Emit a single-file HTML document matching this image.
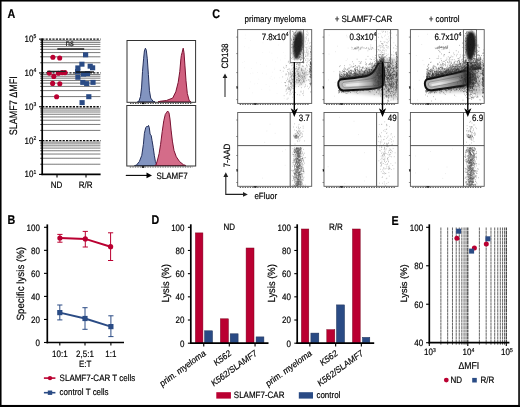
<!DOCTYPE html>
<html><head><meta charset="utf-8"><style>
html,body{margin:0;padding:0;background:#fff;}
svg{display:block;}
text{font-family:"Liberation Sans",sans-serif;stroke:currentColor;stroke-width:0.18px;text-rendering:geometricPrecision}
</style></head><body>
<svg width="520" height="407" viewBox="0 0 520 407" font-family="Liberation Sans, sans-serif">
<defs><filter id="gb" x="0" y="0" width="100%" height="100%"><feGaussianBlur stdDeviation="0.35"/></filter></defs>
<rect width="520" height="407" fill="#fff"/>
<g filter="url(#gb)">
<rect width="520" height="407" fill="#fff"/>
<text transform="translate(7.6,17.7) scale(0.85,1)" font-size="12.65" text-anchor="start" font-weight="bold" fill="#000" >A</text>
<text transform="translate(7.6,224) scale(0.85,1)" font-size="12.65" text-anchor="start" font-weight="bold" fill="#000" >B</text>
<text transform="translate(212.3,18.2) scale(0.85,1)" font-size="12.65" text-anchor="start" font-weight="bold" fill="#000" >C</text>
<text transform="translate(151.5,223.7) scale(0.85,1)" font-size="12.65" text-anchor="start" font-weight="bold" fill="#000" >D</text>
<text transform="translate(391.6,224.8) scale(0.85,1)" font-size="12.65" text-anchor="start" font-weight="bold" fill="#000" >E</text>
<line x1="42.2" y1="164.22" x2="100.5" y2="164.22" stroke="#5a5a5a" stroke-width="1.0" stroke-dasharray="1.6,0.4"/>
<line x1="42.2" y1="158.26" x2="100.5" y2="158.26" stroke="#5a5a5a" stroke-width="1.0" stroke-dasharray="1.6,0.4"/>
<line x1="42.2" y1="154.04" x2="100.5" y2="154.04" stroke="#5a5a5a" stroke-width="1.0" stroke-dasharray="1.6,0.4"/>
<line x1="42.2" y1="150.76" x2="100.5" y2="150.76" stroke="#5a5a5a" stroke-width="1.0" stroke-dasharray="1.6,0.4"/>
<line x1="42.2" y1="148.08" x2="100.5" y2="148.08" stroke="#5a5a5a" stroke-width="1.0" stroke-dasharray="1.6,0.4"/>
<line x1="42.2" y1="145.82" x2="100.5" y2="145.82" stroke="#5a5a5a" stroke-width="1.0" stroke-dasharray="1.6,0.4"/>
<line x1="42.2" y1="143.86" x2="100.5" y2="143.86" stroke="#5a5a5a" stroke-width="1.0" stroke-dasharray="1.6,0.4"/>
<line x1="42.2" y1="142.13" x2="100.5" y2="142.13" stroke="#5a5a5a" stroke-width="1.0" stroke-dasharray="1.6,0.4"/>
<line x1="42.2" y1="130.4" x2="100.5" y2="130.4" stroke="#5a5a5a" stroke-width="1.0" stroke-dasharray="1.6,0.4"/>
<line x1="42.2" y1="124.44" x2="100.5" y2="124.44" stroke="#5a5a5a" stroke-width="1.0" stroke-dasharray="1.6,0.4"/>
<line x1="42.2" y1="120.22" x2="100.5" y2="120.22" stroke="#5a5a5a" stroke-width="1.0" stroke-dasharray="1.6,0.4"/>
<line x1="42.2" y1="116.94" x2="100.5" y2="116.94" stroke="#5a5a5a" stroke-width="1.0" stroke-dasharray="1.6,0.4"/>
<line x1="42.2" y1="114.26" x2="100.5" y2="114.26" stroke="#5a5a5a" stroke-width="1.0" stroke-dasharray="1.6,0.4"/>
<line x1="42.2" y1="112" x2="100.5" y2="112" stroke="#5a5a5a" stroke-width="1.0" stroke-dasharray="1.6,0.4"/>
<line x1="42.2" y1="110.04" x2="100.5" y2="110.04" stroke="#5a5a5a" stroke-width="1.0" stroke-dasharray="1.6,0.4"/>
<line x1="42.2" y1="108.31" x2="100.5" y2="108.31" stroke="#5a5a5a" stroke-width="1.0" stroke-dasharray="1.6,0.4"/>
<line x1="42.2" y1="96.58" x2="100.5" y2="96.58" stroke="#5a5a5a" stroke-width="1.0" stroke-dasharray="1.6,0.4"/>
<line x1="42.2" y1="90.62" x2="100.5" y2="90.62" stroke="#5a5a5a" stroke-width="1.0" stroke-dasharray="1.6,0.4"/>
<line x1="42.2" y1="86.4" x2="100.5" y2="86.4" stroke="#5a5a5a" stroke-width="1.0" stroke-dasharray="1.6,0.4"/>
<line x1="42.2" y1="83.12" x2="100.5" y2="83.12" stroke="#5a5a5a" stroke-width="1.0" stroke-dasharray="1.6,0.4"/>
<line x1="42.2" y1="80.44" x2="100.5" y2="80.44" stroke="#5a5a5a" stroke-width="1.0" stroke-dasharray="1.6,0.4"/>
<line x1="42.2" y1="78.18" x2="100.5" y2="78.18" stroke="#5a5a5a" stroke-width="1.0" stroke-dasharray="1.6,0.4"/>
<line x1="42.2" y1="76.22" x2="100.5" y2="76.22" stroke="#5a5a5a" stroke-width="1.0" stroke-dasharray="1.6,0.4"/>
<line x1="42.2" y1="74.49" x2="100.5" y2="74.49" stroke="#5a5a5a" stroke-width="1.0" stroke-dasharray="1.6,0.4"/>
<line x1="42.2" y1="62.76" x2="100.5" y2="62.76" stroke="#5a5a5a" stroke-width="1.0" stroke-dasharray="1.6,0.4"/>
<line x1="42.2" y1="56.8" x2="100.5" y2="56.8" stroke="#5a5a5a" stroke-width="1.0" stroke-dasharray="1.6,0.4"/>
<line x1="42.2" y1="52.58" x2="100.5" y2="52.58" stroke="#5a5a5a" stroke-width="1.0" stroke-dasharray="1.6,0.4"/>
<line x1="42.2" y1="49.3" x2="100.5" y2="49.3" stroke="#5a5a5a" stroke-width="1.0" stroke-dasharray="1.6,0.4"/>
<line x1="42.2" y1="46.62" x2="100.5" y2="46.62" stroke="#5a5a5a" stroke-width="1.0" stroke-dasharray="1.6,0.4"/>
<line x1="42.2" y1="44.36" x2="100.5" y2="44.36" stroke="#5a5a5a" stroke-width="1.0" stroke-dasharray="1.6,0.4"/>
<line x1="42.2" y1="42.4" x2="100.5" y2="42.4" stroke="#5a5a5a" stroke-width="1.0" stroke-dasharray="1.6,0.4"/>
<line x1="42.2" y1="40.67" x2="100.5" y2="40.67" stroke="#5a5a5a" stroke-width="1.0" stroke-dasharray="1.6,0.4"/>
<line x1="42.2" y1="140.58" x2="100.5" y2="140.58" stroke="#111" stroke-width="1.3" stroke-dasharray="2.2,1.2"/>
<line x1="42.2" y1="106.76" x2="100.5" y2="106.76" stroke="#111" stroke-width="1.3" stroke-dasharray="2.2,1.2"/>
<line x1="42.2" y1="72.94" x2="100.5" y2="72.94" stroke="#111" stroke-width="1.3" stroke-dasharray="2.2,1.2"/>
<line x1="42.2" y1="39.12" x2="100.5" y2="39.12" stroke="#111" stroke-width="1.3" stroke-dasharray="2.2,1.2"/>
<line x1="42.2" y1="38.5" x2="42.2" y2="175.1" stroke="#000" stroke-width="1.7" />
<line x1="41.4" y1="174.4" x2="100.6" y2="174.4" stroke="#000" stroke-width="1.7" />
<line x1="39" y1="174.4" x2="42.2" y2="174.4" stroke="#000" stroke-width="1.1" />
<text transform="translate(36.3,177.4) scale(0.87,1)" font-size="9.2" text-anchor="end">10<tspan font-size="5.75" dy="-3.68">1</tspan></text>
<line x1="40.3" y1="164.22" x2="42.2" y2="164.22" stroke="#000" stroke-width="0.8" />
<line x1="40.3" y1="158.26" x2="42.2" y2="158.26" stroke="#000" stroke-width="0.8" />
<line x1="40.3" y1="154.04" x2="42.2" y2="154.04" stroke="#000" stroke-width="0.8" />
<line x1="40.3" y1="150.76" x2="42.2" y2="150.76" stroke="#000" stroke-width="0.8" />
<line x1="40.3" y1="148.08" x2="42.2" y2="148.08" stroke="#000" stroke-width="0.8" />
<line x1="40.3" y1="145.82" x2="42.2" y2="145.82" stroke="#000" stroke-width="0.8" />
<line x1="40.3" y1="143.86" x2="42.2" y2="143.86" stroke="#000" stroke-width="0.8" />
<line x1="40.3" y1="142.13" x2="42.2" y2="142.13" stroke="#000" stroke-width="0.8" />
<line x1="39" y1="140.58" x2="42.2" y2="140.58" stroke="#000" stroke-width="1.1" />
<text transform="translate(36.3,143.58) scale(0.87,1)" font-size="9.2" text-anchor="end">10<tspan font-size="5.75" dy="-3.68">2</tspan></text>
<line x1="40.3" y1="130.4" x2="42.2" y2="130.4" stroke="#000" stroke-width="0.8" />
<line x1="40.3" y1="124.44" x2="42.2" y2="124.44" stroke="#000" stroke-width="0.8" />
<line x1="40.3" y1="120.22" x2="42.2" y2="120.22" stroke="#000" stroke-width="0.8" />
<line x1="40.3" y1="116.94" x2="42.2" y2="116.94" stroke="#000" stroke-width="0.8" />
<line x1="40.3" y1="114.26" x2="42.2" y2="114.26" stroke="#000" stroke-width="0.8" />
<line x1="40.3" y1="112" x2="42.2" y2="112" stroke="#000" stroke-width="0.8" />
<line x1="40.3" y1="110.04" x2="42.2" y2="110.04" stroke="#000" stroke-width="0.8" />
<line x1="40.3" y1="108.31" x2="42.2" y2="108.31" stroke="#000" stroke-width="0.8" />
<line x1="39" y1="106.76" x2="42.2" y2="106.76" stroke="#000" stroke-width="1.1" />
<text transform="translate(36.3,109.76) scale(0.87,1)" font-size="9.2" text-anchor="end">10<tspan font-size="5.75" dy="-3.68">3</tspan></text>
<line x1="40.3" y1="96.58" x2="42.2" y2="96.58" stroke="#000" stroke-width="0.8" />
<line x1="40.3" y1="90.62" x2="42.2" y2="90.62" stroke="#000" stroke-width="0.8" />
<line x1="40.3" y1="86.4" x2="42.2" y2="86.4" stroke="#000" stroke-width="0.8" />
<line x1="40.3" y1="83.12" x2="42.2" y2="83.12" stroke="#000" stroke-width="0.8" />
<line x1="40.3" y1="80.44" x2="42.2" y2="80.44" stroke="#000" stroke-width="0.8" />
<line x1="40.3" y1="78.18" x2="42.2" y2="78.18" stroke="#000" stroke-width="0.8" />
<line x1="40.3" y1="76.22" x2="42.2" y2="76.22" stroke="#000" stroke-width="0.8" />
<line x1="40.3" y1="74.49" x2="42.2" y2="74.49" stroke="#000" stroke-width="0.8" />
<line x1="39" y1="72.94" x2="42.2" y2="72.94" stroke="#000" stroke-width="1.1" />
<text transform="translate(36.3,75.94) scale(0.87,1)" font-size="9.2" text-anchor="end">10<tspan font-size="5.75" dy="-3.68">4</tspan></text>
<line x1="40.3" y1="62.76" x2="42.2" y2="62.76" stroke="#000" stroke-width="0.8" />
<line x1="40.3" y1="56.8" x2="42.2" y2="56.8" stroke="#000" stroke-width="0.8" />
<line x1="40.3" y1="52.58" x2="42.2" y2="52.58" stroke="#000" stroke-width="0.8" />
<line x1="40.3" y1="49.3" x2="42.2" y2="49.3" stroke="#000" stroke-width="0.8" />
<line x1="40.3" y1="46.62" x2="42.2" y2="46.62" stroke="#000" stroke-width="0.8" />
<line x1="40.3" y1="44.36" x2="42.2" y2="44.36" stroke="#000" stroke-width="0.8" />
<line x1="40.3" y1="42.4" x2="42.2" y2="42.4" stroke="#000" stroke-width="0.8" />
<line x1="40.3" y1="40.67" x2="42.2" y2="40.67" stroke="#000" stroke-width="0.8" />
<line x1="39" y1="39.12" x2="42.2" y2="39.12" stroke="#000" stroke-width="1.1" />
<text transform="translate(36.3,42.12) scale(0.87,1)" font-size="9.2" text-anchor="end">10<tspan font-size="5.75" dy="-3.68">5</tspan></text>
<line x1="57" y1="174.4" x2="57" y2="177.4" stroke="#000" stroke-width="1.1" />
<line x1="86" y1="174.4" x2="86" y2="177.4" stroke="#000" stroke-width="1.1" />
<text transform="translate(56.6,187.9) scale(0.87,1)" font-size="9.2" text-anchor="middle" font-weight="normal" fill="#000" >ND</text>
<text transform="translate(85.6,187.9) scale(0.87,1)" font-size="9.2" text-anchor="middle" font-weight="normal" fill="#000" >R/R</text>
<text transform="translate(17.4,105.8) rotate(-90) scale(0.83,1)" font-size="10.86" text-anchor="middle">SLAMF7 ΔMFI</text>
<line x1="57.3" y1="49" x2="84.2" y2="49" stroke="#000" stroke-width="1.3" />
<text transform="translate(69.8,46.4) scale(0.87,1)" font-size="8.62" text-anchor="middle" font-weight="normal" fill="#222" >ns</text>
<circle cx="52.9" cy="57.3" r="2.55" fill="#ba0030"/>
<circle cx="59.7" cy="58" r="2.55" fill="#ba0030"/>
<circle cx="49.3" cy="73.1" r="2.55" fill="#ba0030"/>
<circle cx="53.8" cy="76.4" r="2.55" fill="#ba0030"/>
<circle cx="58.4" cy="73.3" r="2.55" fill="#ba0030"/>
<circle cx="62.1" cy="72.6" r="2.55" fill="#ba0030"/>
<circle cx="65" cy="72.6" r="2.55" fill="#ba0030"/>
<circle cx="52.6" cy="83.4" r="2.55" fill="#ba0030"/>
<circle cx="59.8" cy="83.8" r="2.55" fill="#ba0030"/>
<circle cx="56.6" cy="96.7" r="2.55" fill="#ba0030"/>
<line x1="47.2" y1="71.4" x2="65.8" y2="71.4" stroke="#222" stroke-width="1.3" />
<rect x="83" y="52.3" width="5.2" height="5" fill="#2c4c85"/>
<rect x="79.3" y="61.7" width="5.2" height="5" fill="#2c4c85"/>
<rect x="75.3" y="65.4" width="5.2" height="5" fill="#2c4c85"/>
<rect x="87.6" y="63.7" width="5.2" height="5" fill="#2c4c85"/>
<rect x="90" y="65.3" width="5.2" height="5" fill="#2c4c85"/>
<rect x="75" y="69.1" width="5.2" height="5" fill="#2c4c85"/>
<rect x="75.3" y="74.8" width="5.2" height="5" fill="#2c4c85"/>
<rect x="80.2" y="79.9" width="5.2" height="5" fill="#2c4c85"/>
<rect x="84.1" y="81.1" width="5.2" height="5" fill="#2c4c85"/>
<rect x="90.4" y="79.9" width="5.2" height="5" fill="#2c4c85"/>
<rect x="86.2" y="94.2" width="5.2" height="5" fill="#2c4c85"/>
<rect x="79.5" y="100.1" width="5.2" height="5" fill="#2c4c85"/>
<rect x="80.9" y="71.6" width="5.2" height="5" fill="#2c4c85"/>
<rect x="84.9" y="71.1" width="5.2" height="5" fill="#2c4c85"/>
<line x1="75.8" y1="72" x2="94" y2="72" stroke="#111" stroke-width="1.4" />
<path d="M137.5,101.8 L138.9,101.3 L140.5,96.5 L141.6,87.1 L142.5,71.4 L143.6,58.8 L144.4,51 L145.4,48.2 L146.3,50.2 L147.3,58.8 L148.4,74.6 L149.4,90.3 L150.7,98.1 L153.1,101.3 L155,101.8 Z" fill="#8294c0" stroke="#24305c" stroke-width="1" stroke-linejoin="round"/>
<path d="M158,101.8 L160.1,101.3 L166.4,100.5 L172.7,98.1 L175.8,91.8 L178.2,82.4 L179.8,71.4 L180.9,58.8 L181.3,55.7 L182.1,52.6 L183.2,48.2 L184,52.6 L184.9,65.1 L186,80.8 L187.3,93.4 L189.2,100.5 L191,101.8 Z" fill="#d0607f" stroke="#7a1232" stroke-width="1" stroke-linejoin="round"/>
<path d="M134.5,165.5 L136.3,165.3 L139.4,161.5 L141.8,155.3 L143.4,144.3 L144.4,133.3 L145.7,127.8 L147,126.2 L147.7,127 L148.5,125.4 L149.3,127.8 L150.1,134.1 L151.2,135.6 L152,140.3 L153.2,147.4 L154.3,155.3 L155.4,161.5 L156.7,164.7 L158,165.5 Z" fill="#8294c0" stroke="#24305c" stroke-width="1" stroke-linejoin="round"/>
<path d="M154.5,165.5 L155.9,165.2 L157.5,160 L159.1,153.7 L160.6,144.3 L162.2,131.7 L163.8,120.7 L165.3,114.4 L166.9,112.1 L167.7,111 L169,112.9 L170,119.1 L171.1,130.1 L172.4,141.1 L174,150.5 L176.3,156.8 L179.5,161.5 L183.4,164.7 L185.8,165.5 Z" fill="#d0607f" stroke="#7a1232" stroke-width="1" stroke-linejoin="round" fill-opacity="0.92"/>
<rect x="127" y="40.5" width="68.6" height="61.8" fill="none" stroke="#333" stroke-width="1"/>
<line x1="130" y1="103.3" x2="192.6" y2="103.3" stroke="#555" stroke-width="1.2" stroke-dasharray="1.4,1.1"/>
<rect x="142" y="102.5" width="2.5" height="1.6" fill="#111"/>
<rect x="126.8" y="105.5" width="68.9" height="60.5" fill="none" stroke="#333" stroke-width="1"/>
<line x1="129.8" y1="167" x2="192.7" y2="167" stroke="#555" stroke-width="1.2" stroke-dasharray="1.4,1.1"/>
<rect x="141.8" y="166.2" width="2.5" height="1.6" fill="#111"/>
<line x1="125.8" y1="175.4" x2="147.5" y2="175.4" stroke="#000" stroke-width="1.1" />
<path d="M146.5,172.6 L152,175.4 L146.5,178.2 Z" fill="#000"/>
<text transform="translate(156.5,178.6) scale(0.87,1)" font-size="9.2" text-anchor="start" font-weight="normal" fill="#000" >SLAMF7</text>
<defs><filter id="bl" x="-50%" y="-50%" width="200%" height="200%"><feGaussianBlur stdDeviation="1.6"/></filter><filter id="bl2" x="-50%" y="-50%" width="200%" height="200%"><feGaussianBlur stdDeviation="0.8"/></filter><linearGradient id="g2" gradientUnits="userSpaceOnUse" x1="358" y1="0" x2="382" y2="0"><stop offset="0" stop-color="#333" stop-opacity="0"/><stop offset="1" stop-color="#333" stop-opacity="0.75"/></linearGradient><linearGradient id="g3" gradientUnits="userSpaceOnUse" x1="440" y1="0" x2="468" y2="0"><stop offset="0" stop-color="#333" stop-opacity="0"/><stop offset="1" stop-color="#333" stop-opacity="0.75"/></linearGradient></defs>
<text transform="translate(275.2,21.8) scale(0.87,1)" font-size="9.2" text-anchor="middle" font-weight="normal" fill="#000" >primary myeloma</text>
<text transform="translate(363.4,21.8) scale(0.87,1)" font-size="9.2" text-anchor="middle" font-weight="normal" fill="#000" >+ SLAMF7-CAR</text>
<text transform="translate(444.1,21.8) scale(0.87,1)" font-size="9.2" text-anchor="middle" font-weight="normal" fill="#000" >+ control</text>
<ellipse cx="299" cy="76" rx="8" ry="10" fill="#aaa" opacity="0.35" filter="url(#bl)"/>
<path d="M300,31.3 C303.5,31.5 304,38 303,45 C302,52 299,59 296.2,59.5 C293.5,59 292.6,52 292.9,45 C293.2,38 296.5,31.2 300,31.3 Z" fill="#2a2a2a" filter="url(#bl2)"/>
<path d="M262.7 42.8h.5M285.6 37.3h.5M277.5 57.8h.5M244.1 67.8h.5M242.6 62.6h.5M244.9 38.6h.5M269.7 90.1h.5M248.7 47.9h.5M283.9 98.6h.5M280.4 60.0h.5M308.3 35.5h.5M300.1 52.5h.5M250.1 40.5h.5M261.6 89.4h.5M252.7 73.0h.5M284.7 58.3h.5M278.3 36.6h.5M244.2 46.7h.5M287.6 62.2h.5M262.0 73.2h.5M271.7 53.2h.5M295.6 81.2h.5M257.1 72.5h.5M276.8 93.5h.5M291.1 52.4h.5" stroke="#d8d8d8" stroke-width="0.5" fill="none"/>
<path d="M274.0 69.4h.5M250.4 81.8h.5M276.0 83.5h.5M285.3 75.3h.5M269.4 52.1h.5M275.4 61.7h.5M262.6 52.5h.5M256.4 62.8h.5M283.5 41.8h.5M250.5 73.6h.5M285.3 78.3h.5M245.2 35.0h.5M272.3 59.9h.5M254.6 83.9h.5M281.2 72.5h.5M270.9 76.3h.5M287.1 78.9h.5M274.2 77.9h.5M249.2 88.2h.5M279.5 77.7h.5M244.3 61.4h.5M278.1 44.9h.5M265.8 84.5h.5M252.3 92.8h.5M274.6 68.1h.5M271.9 79.3h.5M269.4 86.3h.5M260.1 64.4h.5M280.5 70.6h.5M257.4 83.5h.5M285.6 64.0h.5M251.4 68.4h.5M266.2 66.1h.5M284.9 55.9h.5M283.1 52.5h.5M258.6 79.1h.5M281.5 82.3h.5M272.1 72.2h.5M269.8 78.3h.5M265.9 74.1h.5" stroke="#dddddd" stroke-width="0.5" fill="none"/>
<path d="M303.0 74.3h.55M304.3 78.8h.55M296.0 71.3h.55M298.9 81.7h.55M296.6 77.4h.55M291.1 76.2h.55M301.8 76.2h.55M296.0 79.5h.55M301.0 70.1h.55M295.1 73.5h.55M297.4 73.8h.55M279.9 70.4h.55M306.1 64.9h.55M298.5 81.9h.55M305.0 86.2h.55M287.1 71.4h.55M296.6 79.3h.55M306.6 52.8h.55M306.6 62.7h.55M303.8 62.3h.55M300.2 83.8h.55M298.0 75.8h.55M304.6 75.4h.55M298.4 86.5h.55M306.3 71.9h.55M305.4 72.1h.55M299.9 79.9h.55M300.6 79.4h.55M288.3 62.2h.55M303.3 66.6h.55M291.8 62.5h.55M307.9 80.2h.55M309.3 66.8h.55M299.0 65.2h.55M304.4 87.0h.55M292.8 86.8h.55M305.9 72.9h.55M285.2 85.5h.55M298.3 69.5h.55M301.8 77.6h.55M309.5 66.1h.55M307.0 86.2h.55M309.2 72.8h.55M293.8 82.4h.55M299.8 75.3h.55M309.0 72.2h.55M282.9 71.2h.55M286.0 80.8h.55M301.2 69.4h.55M298.9 80.9h.55M299.6 84.9h.55M298.6 82.6h.55M309.4 87.2h.55M294.3 81.3h.55M285.9 65.6h.55M285.3 82.8h.55M290.4 74.2h.55M297.7 74.0h.55M294.9 76.1h.55M302.7 82.3h.55M297.6 64.2h.55M295.1 82.9h.55M287.5 69.5h.55M306.1 80.6h.55M299.1 80.7h.55M300.2 64.8h.55M288.1 69.2h.55M305.5 69.8h.55M292.7 68.1h.55M288.3 73.3h.55M290.7 77.2h.55M282.5 76.9h.55M294.5 58.7h.55M304.1 72.1h.55M283.4 67.3h.55M301.0 70.6h.55M304.5 80.3h.55M303.7 76.9h.55M308.3 79.6h.55M302.2 57.6h.55M305.3 84.8h.55M296.9 70.5h.55M302.3 93.7h.55M292.5 79.8h.55M302.9 81.5h.55M292.7 73.6h.55M301.0 80.9h.55M298.8 72.7h.55M291.9 71.4h.55M305.2 75.1h.55M293.0 67.5h.55M303.5 53.5h.55M303.4 78.1h.55M310.8 77.7h.55M298.5 78.5h.55M285.4 82.5h.55M301.3 68.7h.55M308.3 88.7h.55M289.2 68.9h.55M301.0 75.7h.55M296.2 66.5h.55M290.6 63.5h.55M310.9 82.2h.55M292.9 76.4h.55M283.9 68.3h.55M298.6 78.5h.55M293.9 73.3h.55M302.2 77.3h.55M303.5 75.9h.55M296.7 80.6h.55M299.3 67.7h.55M294.6 74.3h.55M298.2 75.5h.55M299.0 75.7h.55M298.1 64.2h.55M301.9 82.7h.55M302.0 72.8h.55M302.1 66.5h.55M285.7 74.8h.55M292.5 80.2h.55M291.4 53.2h.55M291.7 86.9h.55M296.3 63.3h.55M293.7 78.4h.55M302.5 75.7h.55M309.4 79.9h.55M298.9 79.0h.55M310.6 82.0h.55M306.2 65.6h.55M298.0 80.1h.55M296.9 82.8h.55M303.2 81.5h.55M297.5 94.6h.55M307.7 72.6h.55M299.6 95.0h.55M296.6 81.3h.55M305.9 74.3h.55M290.8 75.8h.55M301.5 83.3h.55M304.5 74.5h.55M305.0 78.6h.55M300.4 74.7h.55M297.3 79.8h.55M291.6 69.2h.55M299.0 62.6h.55M295.9 58.2h.55M294.2 78.8h.55M303.0 73.8h.55M297.4 62.9h.55M306.7 67.2h.55M297.7 59.7h.55M304.5 81.8h.55M285.7 73.9h.55M303.4 60.2h.55M286.2 65.8h.55M294.6 63.1h.55M299.2 76.3h.55M303.4 79.9h.55M309.5 83.6h.55M289.8 70.2h.55M291.6 65.7h.55M298.4 74.3h.55M302.4 61.6h.55M290.3 74.1h.55M297.6 71.8h.55M298.6 68.2h.55M303.9 77.1h.55M298.4 68.9h.55M297.8 52.5h.55M292.1 74.6h.55M288.5 75.9h.55M300.0 63.3h.55M297.2 71.8h.55M302.2 79.2h.55M298.7 67.5h.55M298.0 73.8h.55M304.1 76.6h.55M293.9 63.4h.55M296.4 68.4h.55M291.2 73.3h.55M295.6 75.1h.55M302.7 71.0h.55M306.7 75.2h.55M306.8 55.3h.55M293.7 76.3h.55M303.2 93.0h.55M301.3 84.5h.55M304.4 81.9h.55M302.6 73.0h.55M302.6 65.6h.55M307.3 66.1h.55M300.7 91.2h.55M297.4 74.4h.55M307.1 74.5h.55M293.3 76.3h.55M303.1 80.0h.55M293.6 88.3h.55M310.7 74.4h.55M300.9 70.8h.55M308.9 68.6h.55M303.7 70.4h.55M294.1 80.0h.55M308.3 74.2h.55M294.3 80.8h.55M298.7 76.8h.55M309.7 83.3h.55M295.4 92.5h.55M299.0 80.6h.55M294.5 73.9h.55M286.8 88.6h.55M308.6 64.6h.55M288.5 61.3h.55M307.2 70.6h.55M298.6 71.8h.55M298.2 65.6h.55M299.2 62.8h.55M298.5 76.7h.55M302.3 72.4h.55M292.7 75.6h.55M295.6 86.8h.55M304.4 73.4h.55M295.7 68.7h.55M292.4 71.5h.55M301.1 78.4h.55M303.0 91.1h.55M294.1 74.4h.55M295.3 75.6h.55M300.1 77.5h.55M297.3 77.2h.55M299.4 80.4h.55M285.8 67.2h.55M299.0 66.0h.55M291.7 79.3h.55M294.5 79.4h.55M304.2 76.7h.55M302.6 73.4h.55M289.1 74.0h.55M302.2 70.0h.55M298.3 80.3h.55M292.9 79.4h.55M300.0 73.1h.55M309.8 76.8h.55M305.3 68.8h.55M298.9 74.2h.55M286.6 85.8h.55M305.3 60.3h.55M304.2 73.2h.55M302.1 77.2h.55M288.5 72.6h.55M309.4 69.7h.55M291.8 63.4h.55M290.5 77.0h.55M310.8 77.7h.55M300.7 92.1h.55M295.4 68.9h.55M302.7 78.7h.55M291.9 64.9h.55M301.0 76.3h.55M289.9 72.7h.55M295.2 78.0h.55M298.2 73.6h.55M296.5 82.7h.55M308.7 71.3h.55M304.9 68.2h.55M299.5 80.3h.55M309.6 71.2h.55M298.5 75.8h.55M288.5 74.4h.55M294.3 77.2h.55M291.1 58.5h.55M299.3 76.4h.55M295.2 81.4h.55M297.1 69.4h.55M302.3 61.7h.55M294.3 74.1h.55M304.9 73.0h.55M301.2 69.0h.55M301.1 87.6h.55M294.2 93.2h.55M294.5 74.4h.55M300.2 82.5h.55M290.3 57.5h.55M303.2 80.6h.55M303.4 95.3h.55M300.4 76.3h.55M305.5 77.2h.55" stroke="#5a5a5a" stroke-width="0.55" fill="none"/>
<path d="M294.2 76.8h.55M289.1 63.6h.55M292.0 82.0h.55M292.3 97.2h.55M290.0 82.7h.55M288.8 79.2h.55M288.4 88.1h.55M290.1 84.7h.55M289.6 89.8h.55M291.2 83.4h.55M291.7 83.4h.55M287.1 93.0h.55M291.2 78.5h.55M292.7 86.3h.55M286.1 93.9h.55M290.8 89.6h.55M290.5 83.4h.55M286.1 90.1h.55M290.1 82.6h.55M290.9 84.7h.55M291.7 82.0h.55M289.9 71.4h.55M288.9 88.3h.55M293.3 82.1h.55M289.7 93.8h.55M289.2 88.7h.55M294.2 84.5h.55M293.1 80.0h.55M290.5 83.8h.55M290.3 91.1h.55M296.0 80.3h.55M288.6 87.3h.55M287.4 87.3h.55M291.4 82.6h.55M291.3 75.0h.55M291.9 75.0h.55M288.3 80.9h.55M289.0 89.4h.55M290.2 81.9h.55M291.4 93.8h.55M290.0 86.5h.55M293.1 85.9h.55M286.8 99.2h.55M295.5 72.4h.55M289.9 86.8h.55M292.4 88.3h.55M289.3 78.0h.55M290.3 90.5h.55M287.3 78.1h.55M289.9 72.7h.55M289.3 81.7h.55M291.1 80.1h.55M287.8 81.9h.55M289.9 80.3h.55M290.0 88.8h.55M293.0 94.5h.55M288.0 81.8h.55M283.8 95.7h.55M288.2 84.1h.55M291.3 76.1h.55M291.2 84.1h.55M285.4 86.0h.55M293.0 73.1h.55M292.0 85.5h.55M291.2 86.9h.55M293.3 82.9h.55M292.2 81.8h.55M291.8 79.4h.55M289.7 94.7h.55M291.1 83.3h.55M287.1 79.5h.55M290.5 89.9h.55M291.1 87.4h.55M289.9 92.4h.55M289.0 81.0h.55M292.2 84.7h.55M289.3 80.8h.55M289.4 88.0h.55M290.9 77.0h.55M291.1 85.3h.55M287.5 88.9h.55M289.3 82.3h.55M292.0 92.2h.55M288.3 86.9h.55M287.8 98.2h.55M288.8 91.4h.55M288.4 89.1h.55M295.5 69.0h.55M288.9 87.3h.55M289.8 80.3h.55M295.4 84.8h.55M285.9 89.4h.55M285.7 91.2h.55M288.6 85.1h.55M293.2 85.0h.55M286.5 74.1h.55M293.0 88.7h.55M288.0 89.4h.55M291.2 88.2h.55M284.4 82.5h.55" stroke="#666" stroke-width="0.55" fill="none"/>
<path d="M310.7 75.2h.55M310.4 70.6h.55M310.8 65.0h.55M310.7 63.4h.55M309.6 81.2h.55M310.8 64.7h.55M310.7 80.2h.55M310.0 69.2h.55M310.9 75.5h.55M310.4 49.2h.55M310.6 67.5h.55M310.8 66.0h.55M310.0 62.9h.55M310.2 64.2h.55M309.9 76.6h.55M309.8 76.9h.55M310.0 73.8h.55M310.2 70.8h.55M310.7 52.9h.55M310.2 71.9h.55M310.3 71.1h.55M311.0 77.9h.55M310.4 70.1h.55M310.4 67.1h.55M310.5 53.0h.55M310.4 70.0h.55M310.0 70.0h.55M310.9 68.6h.55M310.5 52.0h.55M309.1 71.6h.55M310.9 67.3h.55M310.9 47.8h.55M310.6 64.4h.55M311.0 65.4h.55M310.7 65.2h.55M309.3 70.0h.55M310.7 77.8h.55M310.1 69.9h.55M311.0 71.7h.55M310.1 51.1h.55M310.2 63.1h.55M309.5 60.3h.55M310.2 63.0h.55M310.7 62.8h.55M309.9 83.4h.55M310.3 72.5h.55M310.6 67.1h.55M310.8 63.4h.55M309.5 48.2h.55M309.8 62.7h.55M310.6 70.8h.55M310.9 71.5h.55M310.1 63.2h.55M309.3 68.6h.55M310.9 75.6h.55M310.5 68.5h.55M311.0 76.1h.55M310.7 83.3h.55M310.3 66.7h.55M310.1 62.3h.55M310.6 76.0h.55M310.2 74.8h.55M310.1 66.7h.55M310.2 61.7h.55M310.6 91.9h.55M310.2 74.4h.55M310.9 68.3h.55M310.9 83.3h.55M309.7 69.6h.55M310.7 64.6h.55M310.4 78.1h.55M310.8 54.8h.55M310.6 59.1h.55M310.6 59.3h.55M310.6 74.9h.55M310.6 73.1h.55M310.1 84.6h.55M310.2 52.1h.55M310.5 62.6h.55M310.0 66.7h.55M310.8 58.5h.55M310.5 84.5h.55M311.0 68.8h.55M310.7 69.1h.55M310.6 77.6h.55M310.5 46.2h.55M310.6 61.4h.55M311.0 64.2h.55M310.7 92.0h.55M310.0 59.0h.55M309.8 46.3h.55M309.5 73.9h.55M310.2 51.6h.55M309.7 76.4h.55M310.1 66.6h.55M310.8 83.8h.55M310.7 72.1h.55M310.4 74.9h.55M310.8 70.8h.55M310.3 57.0h.55M310.3 54.8h.55M309.9 84.2h.55M310.9 74.5h.55M310.7 72.0h.55M309.9 56.3h.55M310.3 64.2h.55M310.8 72.9h.55M310.6 63.5h.55M310.3 79.8h.55M311.1 71.3h.55M310.4 85.8h.55M310.2 76.8h.55M311.1 59.1h.55M309.6 77.0h.55M310.1 83.1h.55M310.2 68.6h.55M310.8 67.0h.55M310.8 64.7h.55M311.0 70.3h.55M310.7 42.7h.55M309.5 71.2h.55M310.9 81.0h.55" stroke="#333" stroke-width="0.55" fill="none"/>
<path d="M305.7 60.7h.55M306.8 69.2h.55M306.8 52.1h.55M306.6 34.1h.55M308.3 54.3h.55M308.8 53.8h.55M306.2 38.5h.55M306.0 51.1h.55M307.4 42.6h.55M307.2 43.8h.55M307.3 52.8h.55M308.2 38.4h.55M305.2 59.5h.55M307.1 56.3h.55M305.0 42.0h.55M307.0 30.9h.55M306.4 52.5h.55M308.3 61.2h.55M306.0 31.3h.55M307.6 54.7h.55M307.2 32.3h.55M307.9 53.2h.55M307.7 40.4h.55M307.4 53.2h.55M307.4 50.1h.55M307.0 54.2h.55M306.3 44.5h.55M306.6 51.0h.55M308.9 42.8h.55M309.5 60.6h.55M307.9 51.1h.55M309.1 43.5h.55M306.9 34.6h.55M307.6 58.7h.55M307.6 49.5h.55M306.8 47.0h.55M305.3 55.8h.55M306.5 34.2h.55M306.1 37.0h.55M308.0 55.9h.55M305.4 54.5h.55M308.1 39.5h.55M305.2 37.8h.55M306.2 48.7h.55M308.1 33.2h.55M306.2 36.7h.55M306.3 58.3h.55M308.0 51.3h.55M306.4 39.8h.55M305.8 50.4h.55M306.1 38.2h.55M307.7 58.6h.55M307.2 35.5h.55M303.8 47.0h.55M308.5 48.2h.55M308.1 60.1h.55M308.4 40.9h.55M308.3 53.0h.55M305.2 41.2h.55M305.3 44.2h.55M307.7 34.6h.55M304.5 58.3h.55M307.5 60.0h.55M305.4 55.9h.55M309.5 65.3h.55M306.7 48.0h.55M306.8 55.3h.55M308.2 46.1h.55M305.4 52.7h.55M306.4 51.6h.55M307.3 61.5h.55M308.4 40.8h.55M307.4 62.9h.55M306.4 49.6h.55" stroke="#aaa" stroke-width="0.55" fill="none"/>
<path d="M300.9 56.9h.55M299.1 37.0h.55M294.5 44.2h.55M298.8 64.4h.55M295.6 51.5h.55M299.8 35.0h.55M295.7 44.6h.55M296.5 43.1h.55M299.0 40.5h.55M299.0 41.8h.55M296.4 47.9h.55M296.3 46.0h.55M302.0 49.1h.55M297.4 50.2h.55M296.8 52.2h.55M294.5 46.8h.55M296.5 38.4h.55M302.4 43.2h.55M302.4 53.9h.55M301.6 41.6h.55M300.9 58.4h.55M297.5 44.1h.55M304.2 52.1h.55M296.7 39.8h.55M299.0 48.6h.55M298.3 58.0h.55M296.9 47.9h.55M301.6 41.4h.55M300.5 60.7h.55M294.3 34.4h.55M299.0 33.0h.55M299.1 56.8h.55M293.6 39.4h.55M292.8 46.5h.55M295.9 41.7h.55M297.9 49.3h.55M296.9 44.6h.55M296.4 44.9h.55M294.8 43.1h.55M292.8 37.4h.55M302.8 50.2h.55M294.5 44.3h.55M295.3 31.3h.55M295.9 48.9h.55M298.8 45.4h.55M295.4 35.5h.55M301.3 50.1h.55M294.2 59.9h.55M294.8 42.1h.55M298.3 44.6h.55M297.1 34.8h.55M295.1 55.0h.55M295.8 49.6h.55M293.4 39.5h.55M298.5 53.3h.55M294.9 47.0h.55M298.8 40.9h.55M299.0 39.9h.55M295.7 43.3h.55M290.7 38.4h.55M295.2 32.6h.55M296.7 49.8h.55M296.7 53.4h.55M294.8 33.3h.55M301.8 51.6h.55M300.3 41.5h.55M299.9 48.9h.55M299.5 46.9h.55M300.9 43.3h.55M295.3 32.5h.55M300.8 42.6h.55M295.1 36.2h.55M296.6 35.2h.55M297.0 40.1h.55M296.4 37.2h.55M297.9 42.1h.55M298.1 47.3h.55M296.4 38.4h.55M299.8 35.7h.55M295.9 41.6h.55M296.9 51.6h.55M296.6 51.2h.55M301.0 51.1h.55M299.1 47.3h.55M299.1 37.7h.55M300.3 43.6h.55M300.4 48.1h.55M292.7 31.6h.55M300.7 46.8h.55M296.8 46.1h.55M296.7 40.4h.55M298.1 46.5h.55M301.7 49.0h.55M302.7 62.4h.55M302.3 56.7h.55M298.1 46.6h.55M297.4 39.7h.55M297.6 40.5h.55M302.1 52.8h.55M296.6 30.6h.55M297.7 42.2h.55M295.0 34.7h.55M291.9 44.3h.55M297.6 63.6h.55M297.7 44.1h.55M301.6 49.5h.55M298.2 43.0h.55M296.2 54.6h.55M300.4 59.8h.55M296.9 44.7h.55M295.5 50.2h.55M294.2 46.2h.55M300.6 57.8h.55M295.4 51.0h.55M295.9 38.3h.55M294.4 50.6h.55M302.1 44.7h.55M295.8 41.1h.55M304.3 58.1h.55M296.4 31.2h.55M296.1 52.3h.55M302.7 47.6h.55M296.0 40.1h.55M292.9 47.5h.55M295.0 50.4h.55M293.4 32.3h.55M298.5 40.5h.55M299.8 47.1h.55M294.7 47.1h.55M300.0 33.5h.55M302.5 52.9h.55M299.8 33.7h.55M295.9 41.2h.55M300.6 37.3h.55M297.2 47.2h.55M293.4 37.3h.55M299.1 57.8h.55M299.5 44.6h.55M294.7 35.9h.55M296.1 44.8h.55M297.7 57.1h.55M298.5 38.3h.55M301.8 55.5h.55M298.1 40.3h.55M292.9 33.8h.55M300.2 41.6h.55M294.4 43.7h.55M298.4 50.2h.55M299.5 56.8h.55M295.6 50.4h.55M295.2 48.0h.55M298.3 47.4h.55M300.3 47.3h.55M300.7 54.0h.55M298.2 41.5h.55M295.8 39.8h.55M297.3 44.6h.55M305.6 56.5h.55M299.8 40.8h.55M296.0 41.4h.55M298.3 38.3h.55M302.0 44.9h.55M300.6 31.0h.55M297.8 47.2h.55M298.3 50.0h.55M298.5 47.1h.55M292.9 35.9h.55M291.7 44.5h.55M298.6 44.6h.55M295.7 39.3h.55M302.6 61.8h.55M297.6 54.4h.55M296.5 37.9h.55M296.3 45.4h.55M305.7 47.4h.55M297.9 47.4h.55M297.7 51.9h.55M302.4 40.4h.55M298.2 43.7h.55M298.7 35.1h.55M299.2 47.8h.55M296.8 39.0h.55M294.1 35.5h.55M299.6 50.7h.55M297.7 48.9h.55M296.2 44.4h.55M297.9 49.3h.55M297.6 44.1h.55M297.4 40.4h.55M303.6 54.0h.55M298.9 62.6h.55M301.4 37.3h.55M299.6 52.8h.55M302.7 58.9h.55M299.8 38.6h.55M295.5 45.2h.55M299.1 39.1h.55M296.8 41.5h.55M298.0 47.8h.55M297.1 35.8h.55M301.0 59.5h.55M297.5 52.4h.55M299.0 51.0h.55M299.1 40.9h.55M299.3 53.8h.55M295.5 57.3h.55M303.2 63.0h.55M303.0 55.1h.55M296.9 40.2h.55M295.7 44.3h.55M297.7 50.0h.55M292.5 57.3h.55M303.7 50.2h.55M299.6 50.2h.55M298.5 44.4h.55M297.5 39.1h.55M298.3 45.5h.55M298.6 39.9h.55M297.9 45.7h.55M299.4 39.0h.55M298.9 53.3h.55M299.4 44.0h.55M296.5 42.5h.55M299.7 58.0h.55M297.4 40.3h.55M298.8 47.6h.55M295.4 38.0h.55M297.5 49.9h.55M294.7 35.3h.55M299.1 37.6h.55M298.1 48.0h.55M297.5 37.7h.55M297.6 42.8h.55M298.7 40.0h.55M300.6 35.7h.55M297.3 44.9h.55M300.3 43.1h.55M299.2 42.4h.55M299.7 59.4h.55M296.8 47.5h.55M295.4 50.2h.55M300.9 48.3h.55M294.8 45.6h.55M300.8 55.7h.55M299.9 34.0h.55M296.0 53.9h.55M294.6 50.6h.55M302.7 55.0h.55M300.7 45.4h.55M294.6 41.8h.55M297.3 44.5h.55M299.6 45.8h.55M298.3 48.7h.55M297.8 58.5h.55M299.0 46.9h.55M297.3 40.3h.55M301.3 49.4h.55M295.0 38.8h.55M297.4 41.8h.55M300.6 39.4h.55M299.1 47.4h.55M294.7 43.0h.55M297.6 48.6h.55M296.6 46.4h.55M293.5 33.8h.55M299.8 54.5h.55M297.8 41.0h.55M300.6 32.7h.55M295.7 48.3h.55M299.5 39.4h.55M292.9 51.4h.55M298.2 39.2h.55M297.9 51.8h.55M291.1 47.4h.55M299.7 32.1h.55M299.8 34.3h.55M300.8 50.7h.55M303.7 46.0h.55M297.8 52.8h.55M296.1 38.8h.55M296.8 43.9h.55M295.0 46.3h.55M299.2 47.0h.55M302.2 46.8h.55M301.2 44.3h.55M299.8 33.1h.55M298.3 44.5h.55M296.5 39.8h.55M296.9 39.3h.55M292.1 36.1h.55M296.4 40.3h.55M295.0 41.9h.55M299.8 45.3h.55M296.5 53.9h.55M300.3 54.1h.55M300.8 45.5h.55M297.5 52.9h.55M296.4 43.2h.55M298.8 48.8h.55M297.1 51.7h.55M297.3 50.1h.55M300.6 52.4h.55M299.7 38.6h.55M294.4 37.9h.55M299.0 57.1h.55M294.6 44.7h.55M295.6 38.1h.55M297.1 49.6h.55M298.4 54.2h.55M295.2 49.4h.55M300.2 47.9h.55M299.0 42.3h.55M295.0 39.9h.55M296.1 64.5h.55M296.5 56.0h.55M298.3 48.0h.55M299.7 41.4h.55M300.2 50.0h.55M293.9 46.2h.55M299.2 49.8h.55M301.9 45.9h.55M299.1 51.8h.55M295.5 51.8h.55M294.0 32.7h.55M299.2 38.7h.55M297.5 33.2h.55M298.0 37.3h.55M298.7 35.1h.55M299.0 44.4h.55M298.0 44.9h.55M298.1 36.1h.55M291.1 39.7h.55M295.4 39.9h.55M298.9 32.0h.55M295.8 39.2h.55M295.1 45.2h.55M297.4 39.1h.55M295.2 48.8h.55M296.1 48.0h.55M299.0 32.7h.55M295.0 42.9h.55M298.7 51.6h.55M299.9 54.5h.55M296.8 42.9h.55M299.8 44.0h.55M300.5 36.3h.55M299.5 45.5h.55M292.7 47.9h.55M298.6 46.1h.55M295.0 39.5h.55M301.7 42.8h.55M288.8 31.3h.55M294.7 41.6h.55M296.8 37.9h.55M295.6 50.9h.55M294.0 56.0h.55M296.4 36.2h.55M299.8 51.1h.55M295.1 48.3h.55M293.0 34.5h.55M300.7 46.0h.55M294.4 46.0h.55M300.2 47.2h.55M293.1 38.7h.55M298.9 51.7h.55M302.6 47.6h.55M296.5 43.9h.55M300.9 41.3h.55M299.9 42.2h.55M299.0 51.2h.55M294.7 42.0h.55M298.4 50.0h.55M295.4 36.1h.55M292.8 59.1h.55M297.3 43.3h.55M293.9 48.6h.55M296.4 54.3h.55M300.0 47.3h.55M299.7 39.0h.55M297.0 40.4h.55M294.5 42.5h.55M297.4 55.2h.55M289.1 32.9h.55M295.4 39.9h.55M298.9 49.1h.55M297.9 41.9h.55M299.1 49.0h.55M293.0 39.3h.55M294.2 33.7h.55M298.2 46.0h.55M298.1 39.3h.55M297.3 38.3h.55M298.8 51.1h.55M302.4 58.3h.55M295.7 40.2h.55M295.4 45.4h.55M302.9 54.8h.55M292.1 31.3h.55M294.4 46.1h.55M297.8 47.4h.55M302.4 43.4h.55M295.6 57.4h.55M298.7 40.5h.55M291.4 40.3h.55M297.9 52.5h.55M297.4 40.0h.55M295.9 57.2h.55M293.2 42.5h.55M297.9 49.7h.55M296.7 47.9h.55M299.9 46.1h.55M296.6 42.9h.55M295.3 41.6h.55M297.0 46.1h.55M301.3 57.6h.55M296.6 48.6h.55M298.6 51.4h.55M297.9 47.2h.55M296.6 38.6h.55M300.1 56.5h.55M299.5 49.9h.55M298.5 42.7h.55M293.2 46.0h.55M298.3 41.8h.55M295.3 52.2h.55M293.1 53.8h.55M299.5 63.7h.55M295.9 43.5h.55M296.5 45.2h.55M297.3 39.4h.55M300.6 42.1h.55M296.5 48.1h.55M296.4 41.0h.55M298.7 43.4h.55M294.6 41.7h.55M297.2 57.0h.55M294.9 49.7h.55M295.8 41.0h.55M297.0 46.5h.55M300.0 59.7h.55" stroke="#262626" stroke-width="0.55" fill="none"/>
<path d="M339,80 L360,73 L372,67 L379,59 L396,58 L397,100 L383,96 L340,92 Z" fill="#888" opacity="0.4" filter="url(#bl)"/>
<path d="M348.5 78.7h.6M333.6 71.6h.6M351.3 67.3h.6M346.8 36.9h.6M347.8 48.1h.6M334.8 82.5h.6M345.8 60.5h.6M389.6 86.5h.6M387.8 92.6h.6M335.3 51.7h.6M328.1 79.9h.6M372.5 56.9h.6M354.9 78.4h.6M374.9 49.7h.6M385.3 56.9h.6M370.0 45.0h.6M334.1 96.2h.6M377.4 82.2h.6M328.8 35.1h.6M337.3 46.2h.6M347.2 59.0h.6M328.7 54.1h.6M370.7 44.9h.6M384.8 72.2h.6M376.2 50.1h.6M356.4 80.2h.6M350.4 32.4h.6M384.4 86.7h.6M346.0 35.3h.6M385.8 74.8h.6" stroke="#c8c8c8" stroke-width="0.6" fill="none"/>
<path d="M341.1 79.5h.55M344.0 74.5h.55M348.5 70.9h.55M372.7 72.4h.55M370.3 73.4h.55M372.6 67.1h.55M351.7 78.1h.55M381.6 61.4h.55M380.9 59.7h.55M372.2 67.5h.55M367.3 73.9h.55M341.4 76.5h.55M358.3 75.2h.55M380.8 63.1h.55M373.3 72.0h.55M370.6 69.4h.55M350.8 76.0h.55M382.6 59.5h.55M363.5 75.7h.55M341.7 78.8h.55M357.5 76.9h.55M353.0 77.7h.55M370.8 71.0h.55M349.7 77.8h.55M362.2 75.0h.55M381.1 62.0h.55M352.5 71.4h.55M345.4 76.6h.55M354.0 72.7h.55M363.7 72.0h.55M346.6 75.5h.55M365.9 74.1h.55M373.5 66.3h.55M344.2 78.4h.55M355.2 77.2h.55M341.7 79.2h.55M347.9 75.0h.55M359.2 77.0h.55M353.6 76.1h.55M355.3 77.3h.55M342.2 80.0h.55M383.6 58.0h.55M342.8 75.9h.55M383.1 60.0h.55M343.9 77.4h.55M358.5 76.8h.55M363.4 76.6h.55M380.4 60.3h.55M367.2 67.1h.55M368.4 74.7h.55M350.1 78.1h.55M340.2 75.9h.55M376.8 67.0h.55M347.4 75.7h.55M377.1 59.4h.55M346.6 74.2h.55M376.4 64.4h.55M353.7 77.5h.55M376.1 67.8h.55M355.6 75.3h.55M355.6 72.2h.55M349.8 78.5h.55M364.5 73.2h.55M375.9 65.5h.55M379.7 54.9h.55M361.2 74.8h.55M346.1 78.0h.55M365.2 76.0h.55M370.0 74.7h.55M358.9 66.2h.55M343.0 79.7h.55M358.8 76.8h.55M371.5 73.8h.55M376.8 61.9h.55M374.4 69.4h.55M351.7 74.9h.55M362.2 75.1h.55M354.2 76.2h.55M369.0 69.9h.55M379.7 63.6h.55M352.3 76.4h.55M364.4 75.0h.55M347.8 78.6h.55M353.6 76.2h.55M382.7 55.1h.55M377.9 54.8h.55M382.3 59.8h.55M375.5 69.7h.55M369.4 72.4h.55M352.4 75.6h.55M381.9 61.0h.55M368.1 74.5h.55M354.5 71.1h.55M340.3 80.0h.55M369.5 73.5h.55M342.8 76.4h.55M355.7 75.1h.55M357.7 75.2h.55M364.4 74.8h.55M344.1 78.9h.55M379.0 62.5h.55M344.1 73.2h.55M350.4 78.2h.55M362.9 75.8h.55M361.0 74.5h.55M349.2 76.0h.55M344.1 77.2h.55M365.5 75.9h.55M357.4 77.4h.55M358.8 71.1h.55M363.8 72.5h.55M373.1 72.0h.55M383.6 58.3h.55M343.6 74.0h.55M356.6 77.1h.55M382.2 60.3h.55M373.9 71.2h.55M373.9 71.4h.55M349.7 77.2h.55M339.7 77.9h.55M348.6 77.7h.55M370.8 72.7h.55M379.0 62.0h.55M378.2 63.5h.55M380.3 57.1h.55M346.6 74.7h.55M354.4 73.4h.55M369.6 69.8h.55M344.5 77.9h.55M372.2 63.8h.55M371.5 73.7h.55M366.2 75.7h.55M363.7 71.3h.55M344.1 71.2h.55M369.4 74.5h.55M347.7 77.0h.55M376.7 65.5h.55M344.1 79.5h.55M344.0 74.4h.55M347.3 76.4h.55M352.1 74.6h.55M356.1 77.3h.55M378.4 63.5h.55M370.0 70.0h.55M381.7 63.1h.55M354.4 77.5h.55M361.6 70.4h.55M375.0 70.4h.55M347.2 73.5h.55M369.6 73.8h.55M360.4 76.6h.55M377.0 66.2h.55M378.3 63.1h.55M342.4 78.7h.55M348.7 71.6h.55M365.5 76.0h.55M346.6 77.6h.55M360.0 74.5h.55M356.5 76.4h.55M339.3 78.1h.55M354.0 78.0h.55M359.7 63.6h.55M341.0 79.9h.55M369.2 74.4h.55M351.3 76.2h.55M350.8 75.8h.55M362.8 66.7h.55M383.6 62.3h.55M364.2 71.7h.55M378.3 61.4h.55M367.5 72.6h.55M355.3 76.8h.55M374.8 64.2h.55M381.2 59.7h.55M352.7 73.6h.55M372.3 70.9h.55M367.6 74.4h.55M363.8 74.9h.55M341.7 78.9h.55M353.5 63.9h.55M360.7 75.7h.55M350.0 77.8h.55M354.7 77.5h.55M339.3 74.3h.55M359.4 75.5h.55M364.6 75.2h.55M346.6 78.8h.55M352.6 77.1h.55M371.7 71.1h.55M381.2 62.0h.55M380.5 60.8h.55M342.6 79.3h.55M365.1 62.2h.55M355.1 73.2h.55M358.3 71.0h.55M342.0 78.0h.55M379.5 63.5h.55M350.6 78.5h.55M346.4 78.1h.55M370.7 73.8h.55M357.0 77.0h.55M366.1 69.7h.55M368.2 74.9h.55M372.0 62.8h.55M366.0 75.8h.55M375.4 63.3h.55M354.4 77.6h.55M347.5 76.5h.55M378.4 62.7h.55M380.5 62.8h.55M353.7 73.7h.55M368.2 74.0h.55M369.6 74.0h.55M341.6 78.5h.55M341.0 77.3h.55M354.1 75.9h.55M365.9 75.1h.55M359.9 77.3h.55M380.6 60.9h.55M383.4 62.3h.55M366.6 71.8h.55M353.8 77.8h.55M346.0 78.6h.55M373.5 71.7h.55M375.6 68.0h.55M363.2 73.8h.55M364.0 73.1h.55M366.1 74.8h.55M372.3 72.1h.55M371.0 69.7h.55M373.9 70.4h.55M373.8 59.6h.55M359.4 76.3h.55M362.5 67.7h.55M344.9 79.3h.55M360.4 73.8h.55M373.8 70.2h.55M383.5 61.6h.55M373.0 72.1h.55M340.3 80.2h.55M341.7 78.0h.55M364.0 75.8h.55M381.3 61.8h.55M345.7 78.6h.55M372.2 65.1h.55M346.3 79.0h.55M374.0 70.6h.55M383.2 60.4h.55M367.6 74.4h.55M375.0 68.6h.55M353.6 70.6h.55M343.9 75.4h.55M341.9 76.8h.55M357.1 71.3h.55M341.7 77.6h.55M357.4 69.6h.55M381.5 60.0h.55M349.1 77.8h.55M350.8 76.7h.55M349.4 78.0h.55M373.2 69.0h.55M352.4 61.7h.55M348.7 76.1h.55M346.1 72.8h.55M378.1 65.3h.55M372.8 67.1h.55M351.7 77.1h.55M360.8 70.0h.55M346.3 75.4h.55M365.9 74.2h.55M365.1 69.4h.55M348.4 71.9h.55M355.2 73.1h.55M377.9 66.1h.55M377.9 49.8h.55M352.4 78.2h.55M344.0 67.8h.55M339.4 73.1h.55M345.8 74.9h.55M343.4 79.1h.55M369.7 75.0h.55M354.3 70.0h.55M371.2 67.3h.55M383.1 62.5h.55M349.6 73.6h.55M370.0 75.1h.55M361.7 76.1h.55M358.4 77.1h.55M339.9 65.7h.55M353.2 71.4h.55M344.4 77.3h.55M345.1 77.5h.55M347.1 75.3h.55M345.7 74.9h.55M361.5 76.6h.55M354.9 75.8h.55M380.3 62.3h.55M348.7 67.8h.55M378.7 61.3h.55M351.3 77.8h.55M350.9 78.3h.55M340.9 78.2h.55M357.4 75.0h.55M355.3 77.9h.55M370.0 71.9h.55M363.5 74.0h.55M370.1 62.3h.55M378.3 62.0h.55M357.0 76.5h.55M357.9 66.0h.55M356.4 76.2h.55M357.4 77.1h.55M383.9 62.3h.55M366.4 67.7h.55M350.5 75.5h.55M356.0 76.9h.55M347.9 78.5h.55M376.9 63.0h.55M379.9 63.8h.55M370.2 73.8h.55M368.1 73.1h.55M353.2 66.8h.55M339.0 76.6h.55M377.4 65.0h.55M365.7 59.3h.55M349.5 75.5h.55M372.4 71.4h.55M371.0 72.7h.55M362.7 73.7h.55M369.5 74.1h.55M367.3 73.3h.55M349.0 75.7h.55M350.9 70.8h.55M360.3 73.1h.55M362.5 74.7h.55M349.0 78.3h.55M380.7 61.1h.55M362.6 74.4h.55M375.6 68.9h.55M346.8 73.5h.55M359.7 74.0h.55M376.2 61.7h.55M378.1 66.3h.55M356.2 72.1h.55M375.8 69.1h.55M345.9 78.2h.55M343.6 78.3h.55M375.1 68.0h.55M359.4 77.1h.55M356.8 59.2h.55M370.3 73.1h.55M360.5 72.0h.55M373.1 71.8h.55M369.6 73.9h.55M362.4 75.9h.55M355.7 76.5h.55M356.2 77.7h.55M348.0 76.2h.55M341.6 79.6h.55M371.3 73.0h.55M353.6 77.2h.55M376.5 68.2h.55M367.6 69.5h.55M348.1 77.1h.55M374.7 67.8h.55M355.7 77.7h.55M358.9 76.0h.55M371.1 73.2h.55M357.4 74.3h.55M375.5 68.5h.55M356.3 75.0h.55M380.6 62.9h.55M382.7 58.8h.55M355.8 74.3h.55M353.8 77.9h.55M373.0 70.9h.55M362.7 74.5h.55M379.6 59.8h.55M340.2 77.8h.55M359.8 75.3h.55M376.8 66.4h.55M360.3 70.1h.55M358.8 75.3h.55M362.0 71.3h.55M369.2 71.1h.55M357.1 77.5h.55M369.6 72.8h.55M373.6 67.2h.55M344.3 78.7h.55M342.5 74.6h.55M343.6 79.4h.55M372.9 69.9h.55M341.5 76.6h.55M371.0 72.2h.55M341.5 76.5h.55M357.8 74.8h.55M383.9 56.9h.55M378.2 65.7h.55M354.0 75.7h.55M339.3 66.6h.55M351.4 77.5h.55M353.1 77.3h.55M377.6 64.4h.55M362.0 75.1h.55M341.3 79.2h.55M378.0 61.3h.55M377.5 66.2h.55M348.1 78.7h.55M363.2 75.1h.55M359.9 75.1h.55M365.3 74.8h.55M375.1 69.8h.55M380.4 61.0h.55M341.3 79.1h.55M363.0 75.0h.55M364.4 75.1h.55M351.3 73.3h.55M352.1 74.4h.55M375.1 67.6h.55M359.5 68.6h.55M359.0 70.7h.55M341.6 78.4h.55M367.8 75.6h.55M377.8 66.5h.55M365.8 75.5h.55M380.5 60.9h.55M375.0 68.3h.55M369.3 71.8h.55M352.3 77.5h.55M376.7 67.7h.55M380.3 62.9h.55M343.5 79.4h.55M374.3 61.6h.55M357.7 74.1h.55M350.6 71.0h.55M369.9 74.8h.55M341.5 76.5h.55M340.9 74.7h.55M352.2 77.5h.55M365.2 75.0h.55M364.2 75.9h.55M380.0 62.5h.55M376.9 67.5h.55M375.0 58.1h.55M356.6 77.6h.55M356.1 74.5h.55M349.1 76.2h.55M343.2 77.8h.55M371.8 71.8h.55M369.6 75.0h.55M376.3 68.4h.55M380.5 45.8h.55M381.3 60.9h.55M352.1 77.0h.55M372.8 70.5h.55M380.8 63.1h.55M360.8 70.7h.55M365.9 73.6h.55M343.0 79.4h.55M351.2 71.3h.55M377.0 67.0h.55M380.6 63.4h.55M365.9 65.1h.55M354.5 68.8h.55M368.5 75.4h.55M354.0 76.2h.55M350.1 74.3h.55M347.0 74.0h.55M352.4 78.1h.55M364.2 76.1h.55M363.8 71.5h.55M365.8 74.1h.55M340.5 78.3h.55M343.4 76.4h.55M344.9 76.5h.55M354.9 76.5h.55M368.8 74.9h.55M346.6 70.0h.55M353.9 72.2h.55M378.3 64.0h.55M345.7 78.9h.55M378.6 65.3h.55M361.3 74.6h.55M344.3 77.5h.55M346.4 76.6h.55M361.8 75.5h.55M347.9 77.2h.55M348.2 78.4h.55M349.8 72.1h.55M361.6 69.9h.55M339.7 71.6h.55M361.0 72.1h.55M364.7 72.6h.55M349.3 74.3h.55M345.9 78.2h.55M340.4 79.0h.55M362.3 75.7h.55M379.1 64.8h.55M365.0 75.4h.55M365.8 71.2h.55M371.0 74.1h.55M350.1 75.7h.55M383.2 62.4h.55M366.8 72.1h.55M375.7 68.3h.55M375.5 67.9h.55M380.4 63.6h.55M381.3 61.6h.55M357.3 77.3h.55M350.0 74.4h.55M369.5 74.8h.55M354.5 77.5h.55M347.9 78.1h.55M353.9 66.2h.55M383.9 57.3h.55M360.6 75.0h.55M374.1 63.8h.55M372.8 69.4h.55M348.0 75.7h.55M377.1 62.8h.55M343.2 75.8h.55M354.7 77.4h.55M382.5 59.3h.55M372.6 72.4h.55M376.3 60.0h.55M379.7 59.8h.55M376.5 63.4h.55M365.6 74.3h.55M376.1 64.1h.55M378.2 65.1h.55M382.2 60.5h.55M381.6 62.8h.55M382.6 57.9h.55M350.3 72.7h.55M349.4 78.0h.55M359.6 76.5h.55M361.2 69.4h.55M369.8 71.3h.55M356.6 72.8h.55M374.7 67.2h.55M381.4 57.7h.55M357.3 77.3h.55M368.4 69.8h.55M354.3 75.1h.55M376.6 63.3h.55M339.2 78.8h.55M339.7 80.4h.55M375.6 68.1h.55M366.2 74.1h.55M354.1 77.3h.55M354.9 72.0h.55M366.9 74.8h.55M343.0 78.8h.55M370.6 72.9h.55M368.7 70.3h.55M344.4 75.8h.55M340.9 74.9h.55M347.3 78.0h.55M382.1 61.5h.55M349.1 71.7h.55M366.5 68.8h.55M356.7 75.5h.55M382.0 60.8h.55M383.5 61.8h.55M376.4 68.1h.55M362.7 76.7h.55M346.9 69.7h.55M359.5 72.0h.55M350.3 77.2h.55M343.5 77.1h.55M377.8 64.5h.55M356.0 69.4h.55M379.2 61.3h.55M342.4 76.9h.55M359.0 67.3h.55M355.3 74.4h.55M367.4 74.3h.55M362.5 73.2h.55M379.8 61.8h.55M355.4 65.9h.55M341.6 74.5h.55M369.8 72.7h.55M359.1 72.9h.55M379.1 60.8h.55M372.7 72.6h.55M353.6 77.7h.55M381.9 56.0h.55M345.5 76.4h.55M365.0 76.1h.55M356.6 73.3h.55M367.9 74.6h.55M373.3 71.1h.55M363.5 74.8h.55M383.0 59.3h.55M375.2 66.7h.55M356.1 67.2h.55M370.9 70.6h.55M351.5 77.8h.55M364.9 70.7h.55M374.7 69.5h.55M345.3 76.9h.55M378.5 65.3h.55M372.2 72.6h.55M353.0 78.0h.55M352.4 76.7h.55M382.5 52.4h.55M347.4 77.8h.55M381.5 62.5h.55M353.4 76.3h.55M343.9 78.6h.55M356.7 76.2h.55M382.4 61.9h.55M348.2 71.2h.55M359.3 71.6h.55M367.7 70.9h.55M353.2 77.7h.55M373.1 70.4h.55M364.1 72.9h.55M372.9 71.5h.55M355.3 69.9h.55M362.8 75.6h.55M367.4 74.8h.55M373.7 71.7h.55M376.2 66.3h.55M354.9 69.0h.55M350.9 77.6h.55M342.1 77.5h.55M372.9 68.9h.55M357.6 72.3h.55M344.0 78.4h.55M368.0 64.7h.55M367.5 72.0h.55M373.9 70.0h.55M381.3 58.9h.55M354.4 76.4h.55M375.3 68.8h.55M347.4 72.4h.55M362.9 74.3h.55M369.1 68.0h.55M345.0 78.0h.55M342.0 78.4h.55M361.6 70.8h.55M369.1 72.7h.55M357.2 74.9h.55M351.3 72.5h.55M374.5 65.2h.55M345.8 75.6h.55M372.9 70.3h.55M379.4 57.2h.55M372.4 67.5h.55M368.2 68.9h.55M344.9 75.4h.55M370.7 71.6h.55M351.4 78.2h.55M366.2 70.5h.55M351.3 77.7h.55M349.1 78.4h.55M369.4 63.6h.55M375.1 69.0h.55M370.5 74.6h.55M376.7 67.0h.55M339.2 77.8h.55M345.2 78.2h.55M341.7 78.3h.55M364.0 71.2h.55M340.8 74.9h.55M344.0 78.8h.55M367.3 74.5h.55M353.9 75.4h.55M348.8 73.7h.55M348.4 73.0h.55M375.4 67.6h.55M340.4 75.8h.55M340.3 78.4h.55M358.1 77.3h.55M367.4 71.7h.55M365.3 74.6h.55M362.0 74.0h.55M349.2 72.2h.55M383.8 57.1h.55M382.3 61.6h.55M383.4 62.3h.55M360.5 76.7h.55M359.4 73.7h.55M370.9 72.5h.55M354.4 77.4h.55M357.1 76.6h.55M347.7 74.6h.55M362.2 75.0h.55M347.9 75.0h.55M347.9 77.9h.55M364.2 72.6h.55M382.8 58.3h.55M381.7 55.1h.55M371.5 69.8h.55M341.8 79.4h.55M339.6 74.4h.55M371.5 70.7h.55M350.9 77.1h.55M346.4 75.9h.55M383.6 61.3h.55M341.0 79.8h.55M355.0 70.6h.55M375.2 68.4h.55M343.6 79.3h.55M345.9 74.3h.55M360.2 62.3h.55M380.0 58.7h.55M360.4 71.7h.55M344.8 79.0h.55M364.4 74.1h.55M348.4 77.9h.55M340.0 73.1h.55M371.0 65.1h.55M383.1 60.8h.55M372.0 71.9h.55M375.5 64.0h.55M345.0 79.2h.55M348.6 76.0h.55M356.1 77.8h.55M376.4 63.8h.55M359.9 77.2h.55M379.0 62.7h.55M342.2 78.8h.55M367.1 68.9h.55M360.8 73.8h.55M348.3 77.9h.55M379.8 62.6h.55M343.7 76.8h.55M344.7 78.7h.55M359.5 74.5h.55M367.6 71.8h.55M358.8 77.2h.55M371.6 73.6h.55M360.2 75.6h.55M369.3 71.4h.55M349.8 75.3h.55M370.1 73.1h.55M345.4 71.6h.55M366.0 75.9h.55M349.7 64.8h.55M349.3 77.1h.55M374.5 65.5h.55M367.5 71.4h.55M340.7 80.2h.55M382.9 57.5h.55M340.7 80.3h.55M349.8 70.1h.55M348.9 75.2h.55M380.9 60.2h.55M380.4 62.7h.55M345.9 79.1h.55M373.1 72.0h.55M382.8 58.8h.55M347.4 73.7h.55M346.3 76.8h.55M343.8 74.7h.55M379.0 57.1h.55M339.1 74.9h.55M364.0 71.0h.55M361.6 73.9h.55M365.8 71.0h.55M342.5 79.8h.55M363.5 75.5h.55M356.9 77.7h.55M372.5 72.8h.55M376.3 63.4h.55M359.6 76.9h.55M368.3 74.9h.55M358.3 77.1h.55M382.9 60.1h.55M354.9 77.6h.55M371.9 67.5h.55M377.2 67.3h.55M355.5 76.7h.55M373.3 71.7h.55M366.3 63.7h.55M373.6 71.9h.55M342.4 79.6h.55M370.2 72.2h.55M362.4 74.8h.55M357.3 74.6h.55M368.2 67.7h.55M372.0 68.3h.55M380.1 57.9h.55M371.3 74.0h.55M369.6 69.3h.55M358.4 70.8h.55M347.1 69.8h.55M358.9 73.5h.55M350.4 77.4h.55M354.7 76.7h.55M343.3 77.9h.55M383.1 59.2h.55M380.9 58.8h.55M376.7 51.8h.55M372.9 71.6h.55M350.2 76.9h.55M339.9 79.9h.55M378.9 57.2h.55M353.8 73.4h.55M373.9 64.6h.55M374.8 68.4h.55M343.7 74.1h.55M353.1 75.0h.55M355.5 75.4h.55M382.5 62.3h.55M362.9 73.3h.55M363.2 67.7h.55M357.3 69.8h.55M370.0 64.3h.55M343.0 79.1h.55M351.9 70.8h.55M339.6 79.8h.55M371.2 59.5h.55M346.9 77.2h.55M369.9 71.5h.55M372.6 68.4h.55M350.2 77.6h.55M340.2 76.9h.55M348.4 77.9h.55M382.4 59.6h.55M365.6 72.7h.55M365.9 72.3h.55M352.7 78.0h.55M342.0 80.1h.55M355.3 77.4h.55M344.1 77.4h.55M382.6 59.1h.55M351.3 73.7h.55M347.0 78.7h.55M352.6 76.6h.55M370.0 73.4h.55M371.8 73.3h.55M381.0 62.1h.55M376.5 68.5h.55M376.3 68.0h.55M377.5 62.0h.55M369.2 74.4h.55M339.4 80.2h.55M379.7 63.6h.55M368.7 72.7h.55M368.8 74.9h.55M345.5 78.9h.55M383.2 61.0h.55M368.4 72.9h.55M349.0 78.5h.55M339.7 74.7h.55M344.9 68.8h.55M355.4 73.8h.55M345.2 74.3h.55M350.3 77.1h.55M362.5 76.4h.55M350.2 73.5h.55M351.8 76.8h.55M373.4 71.3h.55M347.7 78.1h.55M356.3 76.3h.55M367.9 73.7h.55M378.1 66.1h.55M368.9 69.7h.55M349.6 78.6h.55M358.7 77.1h.55M359.7 73.3h.55M343.2 79.4h.55M360.6 76.5h.55M349.4 76.8h.55M344.3 79.2h.55M355.3 75.9h.55M381.1 60.8h.55M342.2 79.3h.55M372.5 70.3h.55M378.2 55.8h.55M377.6 66.7h.55M381.5 60.8h.55M349.8 78.0h.55M377.9 65.9h.55M342.7 78.9h.55M380.6 61.6h.55M371.9 73.2h.55M359.4 76.1h.55M348.2 75.4h.55M355.3 77.5h.55M383.3 60.4h.55M347.1 79.0h.55M368.4 73.3h.55M340.1 78.6h.55M372.3 70.6h.55M349.5 76.5h.55M366.2 72.7h.55M345.5 74.0h.55M381.6 58.9h.55M377.6 65.6h.55M379.6 63.6h.55M349.2 75.8h.55M379.6 64.1h.55M348.8 78.7h.55M358.8 77.0h.55M347.6 74.5h.55M365.2 67.3h.55M357.1 74.0h.55M339.6 71.3h.55M349.5 76.6h.55M362.0 67.4h.55M361.1 61.7h.55M367.0 75.1h.55M376.5 67.8h.55M384.0 60.3h.55M349.2 68.3h.55M353.5 76.5h.55M354.4 74.5h.55M340.0 79.2h.55M346.3 73.5h.55M339.0 78.0h.55M350.6 76.6h.55M364.3 72.4h.55M345.2 78.4h.55M344.4 69.1h.55M345.7 78.7h.55M362.5 74.0h.55M378.9 65.1h.55M349.5 78.1h.55M365.4 74.3h.55M357.4 70.6h.55M368.8 69.2h.55M382.1 62.0h.55M381.4 61.6h.55M341.3 72.4h.55M343.7 79.6h.55M352.0 77.2h.55M382.5 56.3h.55M357.9 75.1h.55M377.2 62.3h.55M368.4 73.3h.55M344.2 78.6h.55M368.6 72.7h.55M375.0 63.2h.55M382.3 62.2h.55M342.4 72.7h.55M364.7 75.7h.55M370.1 74.2h.55M349.6 77.2h.55M362.6 73.1h.55M342.3 75.7h.55M367.1 73.8h.55M369.2 70.3h.55M339.4 78.8h.55M369.5 71.4h.55M368.1 75.0h.55M382.1 58.0h.55M349.5 76.9h.55M382.1 62.2h.55M357.4 67.2h.55M379.5 63.6h.55M372.1 71.9h.55M368.9 70.8h.55M344.7 78.5h.55M348.7 77.8h.55M340.6 80.1h.55M357.3 75.9h.55M342.5 77.2h.55M381.4 60.5h.55M355.0 74.0h.55M358.7 76.8h.55M360.7 77.1h.55M369.4 74.8h.55M355.6 67.4h.55M373.5 66.2h.55M367.9 72.5h.55M370.7 63.7h.55M347.8 74.2h.55M352.5 77.3h.55M376.0 66.3h.55M377.2 60.9h.55M365.5 75.5h.55M339.7 78.3h.55M371.7 72.7h.55M342.2 80.1h.55M346.8 75.2h.55M339.2 80.1h.55M350.9 74.5h.55M383.4 62.4h.55M344.1 70.8h.55M382.6 62.3h.55M354.1 75.7h.55M353.4 76.4h.55M360.5 76.2h.55M341.5 80.0h.55M346.3 78.8h.55M367.1 72.0h.55M350.8 73.5h.55M371.8 72.3h.55M361.1 76.4h.55M380.8 60.8h.55M341.3 79.8h.55M370.2 73.6h.55M371.3 73.3h.55M374.9 65.5h.55M343.2 77.0h.55M347.6 75.0h.55M375.2 65.3h.55M349.4 78.4h.55M368.9 72.8h.55M345.2 78.6h.55M365.2 75.9h.55M367.5 74.9h.55M350.6 76.8h.55M363.0 72.6h.55M340.4 76.5h.55M348.9 77.6h.55M367.8 72.0h.55M366.7 68.5h.55M348.2 77.7h.55M368.8 74.5h.55M346.1 78.3h.55M373.7 66.2h.55M371.2 63.9h.55M374.7 69.6h.55M353.2 74.1h.55M341.5 77.3h.55M343.0 79.7h.55M362.1 76.3h.55M380.9 56.7h.55M359.8 76.6h.55M344.4 77.2h.55M362.5 75.3h.55M371.2 71.7h.55M373.9 71.3h.55M342.2 78.5h.55M360.8 76.2h.55M369.1 74.7h.55M353.3 76.1h.55M371.1 69.6h.55M355.7 76.0h.55M380.7 54.8h.55M366.8 75.6h.55M359.5 74.1h.55M351.5 78.3h.55M383.2 54.9h.55M344.8 77.3h.55M366.9 74.8h.55M342.1 75.7h.55M373.7 70.0h.55M342.9 78.3h.55M343.2 69.2h.55M341.3 79.2h.55M373.6 71.5h.55M343.8 79.4h.55M346.4 76.7h.55M376.5 68.0h.55M346.8 74.4h.55M358.2 76.2h.55M344.5 78.5h.55M382.7 62.4h.55M350.7 74.2h.55M379.1 57.5h.55M360.3 67.2h.55M366.2 74.9h.55M359.9 73.3h.55M372.0 72.9h.55M347.7 68.8h.55M343.8 74.2h.55M354.2 77.1h.55M350.5 76.5h.55M383.6 61.9h.55M377.5 66.0h.55M346.8 74.7h.55M354.4 77.4h.55M357.8 72.0h.55M377.8 64.0h.55M339.5 76.2h.55M366.3 68.7h.55M381.8 61.8h.55M377.2 62.1h.55M351.0 77.0h.55M355.9 76.4h.55M356.0 77.4h.55M349.2 71.0h.55M357.5 74.4h.55M378.9 60.7h.55M350.0 70.5h.55M375.2 55.4h.55M371.8 69.1h.55M375.6 68.8h.55M368.5 74.0h.55M376.8 67.7h.55M363.3 75.3h.55M375.9 68.0h.55M377.0 61.9h.55M378.5 65.3h.55M381.2 59.0h.55M369.5 72.0h.55M341.2 73.8h.55M363.6 74.6h.55M354.3 73.2h.55M374.2 64.8h.55M348.6 77.5h.55M350.2 78.2h.55M353.7 78.0h.55M374.8 69.9h.55M342.2 79.9h.55M372.3 72.4h.55M359.8 75.7h.55M375.1 60.6h.55M352.9 75.0h.55M379.3 62.7h.55M379.5 60.2h.55M353.0 71.6h.55M364.8 76.0h.55M365.4 70.5h.55M362.3 74.7h.55M357.7 70.8h.55M368.9 74.7h.55M355.3 76.5h.55M382.1 59.2h.55M344.6 71.5h.55M340.6 77.7h.55M358.5 73.4h.55M358.3 77.2h.55M362.6 71.3h.55M374.5 69.6h.55M349.0 74.4h.55M375.1 69.7h.55M378.7 49.9h.55M358.5 75.9h.55M370.9 65.9h.55M348.1 77.7h.55M353.8 73.9h.55M347.4 76.4h.55M361.5 73.4h.55M345.4 69.2h.55M384.0 59.6h.55M374.8 70.1h.55M380.0 61.3h.55M373.2 65.8h.55M355.3 69.7h.55M348.3 78.8h.55M361.6 69.6h.55M379.5 54.5h.55M362.0 68.2h.55M364.2 75.9h.55M367.4 70.6h.55M358.1 74.6h.55M350.7 77.5h.55M357.9 75.2h.55M360.1 77.0h.55M339.3 79.6h.55M371.3 69.7h.55M349.7 77.7h.55M362.3 76.2h.55M366.1 68.5h.55M348.1 76.0h.55M371.4 69.5h.55M371.0 70.3h.55M351.3 72.6h.55M380.6 63.4h.55M381.5 61.3h.55M342.9 79.6h.55M374.9 67.1h.55M345.4 77.3h.55M367.7 56.4h.55M354.1 73.4h.55M350.0 77.9h.55M346.3 77.4h.55M366.8 74.8h.55M346.3 78.3h.55M342.8 79.2h.55M353.2 75.9h.55M347.3 76.9h.55M358.8 65.9h.55M360.9 67.8h.55M360.2 76.5h.55M365.6 75.6h.55M346.6 78.8h.55M370.6 63.8h.55M357.2 76.3h.55M358.1 76.1h.55M370.1 73.6h.55M345.9 72.8h.55M364.8 76.3h.55M377.2 63.4h.55M355.0 74.8h.55M380.4 62.0h.55M358.5 76.3h.55M363.9 73.0h.55M372.1 63.8h.55M345.5 77.7h.55M377.3 62.4h.55M365.6 72.5h.55M354.3 68.8h.55M363.7 74.9h.55M347.2 78.6h.55M379.4 59.4h.55M340.2 79.4h.55M360.6 75.0h.55M355.4 70.7h.55M354.7 75.5h.55M380.8 60.2h.55M360.5 75.9h.55M356.4 74.7h.55M374.4 70.2h.55M355.7 76.3h.55M355.3 70.1h.55M363.3 75.6h.55M354.0 72.6h.55M346.2 75.4h.55M340.0 80.0h.55M341.7 75.0h.55M345.6 78.4h.55M341.6 79.3h.55M372.0 69.3h.55M380.0 54.4h.55M363.8 68.4h.55M343.0 71.5h.55M358.5 76.8h.55M372.7 66.5h.55M356.4 77.4h.55M378.3 61.6h.55M365.9 64.1h.55M340.7 80.3h.55M344.6 79.3h.55M370.9 71.3h.55M344.1 79.0h.55M347.1 76.0h.55M369.3 64.2h.55M355.2 65.5h.55M358.6 75.9h.55M350.4 77.7h.55M382.9 45.8h.55M370.8 73.9h.55M347.1 78.5h.55M354.8 73.7h.55M341.7 77.8h.55M369.6 75.2h.55M358.8 72.4h.55M364.9 74.4h.55M378.7 62.7h.55M354.2 76.4h.55M381.5 57.0h.55M380.2 61.1h.55M345.4 78.6h.55M356.2 74.0h.55M339.2 75.7h.55M374.4 68.9h.55M339.3 75.8h.55M357.6 74.0h.55M364.6 72.2h.55M357.4 67.3h.55M382.0 54.6h.55M366.7 74.7h.55M355.9 76.8h.55M379.7 59.2h.55M374.5 65.6h.55M383.6 58.7h.55M353.3 73.6h.55M350.8 75.5h.55M346.1 72.9h.55M361.0 76.0h.55M380.5 63.3h.55M380.9 58.9h.55M345.7 74.6h.55M364.8 68.7h.55M365.4 74.4h.55M381.0 63.1h.55M374.0 71.2h.55M351.4 78.0h.55M378.2 64.3h.55M371.7 72.7h.55M371.9 70.2h.55M343.4 77.6h.55M371.5 73.1h.55M368.4 74.5h.55M355.7 69.8h.55M381.4 43.5h.55M358.2 74.8h.55M375.4 65.5h.55M359.5 71.0h.55M357.1 68.1h.55M360.3 76.8h.55M372.7 72.2h.55M369.6 75.2h.55M383.5 60.0h.55M372.3 72.6h.55M367.7 74.2h.55M350.2 73.2h.55M340.5 78.5h.55M342.9 73.8h.55M379.2 64.8h.55M359.9 75.3h.55M371.3 69.8h.55M354.4 69.4h.55M347.3 78.5h.55M375.7 69.3h.55M347.4 76.7h.55M354.1 77.5h.55M380.8 61.4h.55M374.4 70.3h.55M380.1 62.9h.55M379.8 61.0h.55M382.7 58.0h.55M367.4 73.4h.55M377.5 65.3h.55M343.4 71.9h.55M375.3 66.6h.55M372.5 72.1h.55M359.8 71.8h.55M382.3 54.7h.55M346.2 75.4h.55M363.9 74.8h.55M346.5 78.6h.55M360.2 75.1h.55M351.1 77.0h.55M363.9 71.9h.55M365.5 75.6h.55M378.9 63.8h.55M382.2 50.2h.55M345.3 76.4h.55M382.5 61.3h.55M363.6 75.3h.55M340.3 79.9h.55M344.6 78.3h.55M367.3 73.2h.55M381.7 59.4h.55M355.3 68.4h.55M367.5 73.3h.55M377.8 63.2h.55M355.2 74.9h.55M352.5 67.1h.55M350.0 67.1h.55M341.9 80.1h.55M363.9 75.8h.55M361.8 76.5h.55M376.7 64.8h.55M369.8 67.0h.55M383.6 58.8h.55M371.1 74.2h.55M341.2 78.6h.55M382.6 61.6h.55M364.6 76.3h.55M357.7 70.1h.55M365.5 70.6h.55M339.6 80.1h.55M347.1 73.3h.55M343.6 71.1h.55M351.0 71.7h.55M362.2 75.6h.55M382.5 61.2h.55M370.4 74.7h.55M376.4 56.0h.55M344.0 75.2h.55M351.2 77.9h.55M355.4 74.4h.55M381.9 46.7h.55M383.7 59.3h.55M368.4 75.0h.55M371.7 71.1h.55M355.2 70.6h.55M350.5 78.1h.55M346.1 78.6h.55M365.5 71.0h.55M346.2 76.9h.55M364.8 73.7h.55M357.6 75.1h.55M339.7 80.6h.55M358.0 76.7h.55M373.1 71.5h.55M376.1 68.2h.55M343.2 77.7h.55M356.4 76.4h.55M373.4 71.2h.55M369.2 69.7h.55M359.4 75.1h.55M380.6 60.6h.55M347.1 78.8h.55M342.7 78.6h.55M343.0 76.5h.55M358.1 76.4h.55M362.0 68.0h.55M350.0 78.1h.55M352.7 77.0h.55M379.9 59.9h.55M358.3 76.9h.55M341.0 80.0h.55M377.1 64.3h.55M346.0 76.0h.55M341.6 78.0h.55M354.1 77.7h.55M372.4 69.0h.55M362.0 76.3h.55M369.1 73.6h.55M368.8 75.2h.55M379.6 64.3h.55M349.0 77.1h.55M347.9 78.6h.55M369.9 59.0h.55M354.1 77.1h.55M369.2 74.6h.55M357.0 73.9h.55M358.4 76.9h.55M342.2 77.6h.55M383.6 54.4h.55M343.5 77.5h.55M361.0 76.4h.55M369.1 73.3h.55M375.4 68.9h.55M381.0 58.0h.55M360.3 76.7h.55M360.8 76.7h.55M369.9 71.5h.55M365.0 64.3h.55M341.0 76.4h.55M375.0 70.1h.55M353.5 78.0h.55M365.2 72.1h.55M354.7 74.2h.55M355.5 73.9h.55M351.5 66.2h.55M358.7 77.4h.55M343.1 75.7h.55M377.9 63.4h.55M346.0 72.6h.55M371.3 73.7h.55M356.1 74.2h.55M339.2 80.8h.55M354.9 71.3h.55M383.8 61.1h.55M379.9 59.0h.55M377.9 63.8h.55M382.6 59.5h.55M381.7 60.5h.55M347.8 76.6h.55M360.7 75.8h.55M355.8 75.5h.55M365.5 75.4h.55M351.5 76.2h.55M361.7 75.2h.55M368.9 74.8h.55M362.9 75.7h.55M373.7 67.9h.55M374.1 69.0h.55M350.2 70.3h.55M362.0 75.4h.55M352.1 76.7h.55M370.9 69.0h.55M360.7 72.9h.55M348.6 76.9h.55M355.1 76.8h.55M355.2 73.4h.55M372.0 72.6h.55M349.5 73.8h.55M368.5 72.0h.55M367.6 72.0h.55M351.3 78.2h.55M355.2 77.8h.55M382.3 60.5h.55M369.2 64.6h.55M375.2 69.5h.55M354.2 77.7h.55M374.8 66.5h.55M360.9 75.6h.55M351.1 76.3h.55M371.0 67.1h.55M377.2 61.1h.55M358.8 75.7h.55M353.1 66.5h.55M347.3 78.4h.55M351.6 70.2h.55M377.4 66.1h.55M377.3 60.3h.55M358.2 76.8h.55M373.8 70.2h.55M344.4 72.0h.55M358.8 75.8h.55M365.8 75.2h.55M339.9 79.1h.55M356.1 77.8h.55M355.7 73.3h.55M354.0 74.4h.55M367.1 75.2h.55M339.9 77.1h.55M366.5 74.9h.55M348.0 72.7h.55M379.9 63.0h.55M365.4 73.5h.55M353.5 78.0h.55M353.6 74.8h.55M366.1 73.8h.55M344.5 78.7h.55M353.0 76.5h.55M355.3 70.5h.55M344.2 65.7h.55M349.8 72.4h.55M350.0 75.8h.55M356.0 77.7h.55M374.8 65.4h.55M351.1 73.7h.55M360.6 63.3h.55M341.4 78.8h.55M349.3 75.6h.55M374.0 65.6h.55M363.7 75.0h.55M375.0 70.2h.55M350.7 74.0h.55M358.8 61.6h.55M343.1 77.8h.55M348.6 78.8h.55M343.2 79.5h.55M355.6 76.0h.55M361.9 75.8h.55M370.6 72.4h.55M383.2 62.0h.55M362.0 74.7h.55M355.7 71.5h.55M348.4 72.1h.55M355.1 76.6h.55M366.7 73.3h.55M351.8 78.1h.55M382.0 61.6h.55M344.1 76.1h.55M362.9 75.4h.55M353.8 72.1h.55M354.2 76.3h.55M382.1 61.6h.55M357.1 77.1h.55M368.8 72.0h.55M359.1 75.7h.55M349.5 73.7h.55M359.6 71.6h.55M355.9 73.6h.55M340.3 79.8h.55M382.2 59.3h.55M369.4 73.2h.55M360.3 76.5h.55M346.8 75.7h.55M370.2 74.1h.55M368.0 75.2h.55M366.6 75.4h.55M361.9 75.7h.55M363.8 76.1h.55M360.8 74.1h.55M345.1 78.1h.55M369.5 72.8h.55M366.8 71.1h.55M364.7 75.5h.55M358.9 71.7h.55M364.5 71.9h.55M355.4 76.0h.55M382.6 57.3h.55M368.4 75.2h.55M366.5 75.9h.55M381.0 51.9h.55M371.8 72.6h.55M377.1 67.1h.55M376.3 66.5h.55M339.7 73.7h.55M358.8 71.8h.55M370.0 72.8h.55M377.8 66.0h.55M379.4 63.2h.55M340.2 79.3h.55M342.0 79.9h.55M367.1 75.4h.55M346.2 78.0h.55M351.5 70.3h.55M379.7 57.6h.55M383.5 60.6h.55M374.8 69.7h.55M380.7 58.2h.55M371.9 72.6h.55M343.1 71.5h.55M363.8 73.5h.55M377.8 66.3h.55M370.5 72.8h.55M374.4 69.2h.55M347.9 68.9h.55M351.7 74.0h.55M376.4 67.8h.55M370.3 73.4h.55M349.1 77.9h.55M381.9 61.6h.55M361.9 74.7h.55M340.2 76.2h.55M372.5 66.2h.55M355.1 77.2h.55M354.6 73.8h.55M368.6 73.9h.55M362.6 76.2h.55M380.3 61.6h.55M361.8 72.0h.55M347.9 74.8h.55M354.9 72.6h.55M343.2 78.7h.55M367.6 73.6h.55M356.0 75.0h.55M348.8 76.9h.55M339.1 75.8h.55M350.4 72.9h.55M363.8 73.6h.55M367.2 75.4h.55M374.0 70.4h.55M377.8 61.8h.55M369.5 70.0h.55M358.7 73.9h.55M381.9 62.4h.55M343.5 78.0h.55M361.9 76.4h.55M349.0 72.3h.55M356.5 77.2h.55M347.2 76.2h.55M347.5 76.9h.55M363.2 74.8h.55M361.7 71.1h.55M339.8 72.3h.55M348.0 78.8h.55M373.5 69.2h.55M363.2 75.8h.55M374.1 70.2h.55M371.7 72.8h.55M364.8 73.0h.55M355.7 75.8h.55M341.9 76.9h.55M370.1 74.6h.55M363.8 72.3h.55M343.5 73.8h.55M378.2 66.1h.55M350.2 78.3h.55M350.4 78.3h.55M361.0 76.1h.55M352.5 76.3h.55M355.7 72.9h.55M371.5 73.5h.55M349.1 78.7h.55M353.8 77.7h.55M370.4 70.1h.55M383.8 61.6h.55M340.7 76.0h.55M357.5 69.0h.55M356.7 76.5h.55M342.3 70.6h.55M362.0 75.0h.55M358.7 72.8h.55M376.4 66.6h.55M347.0 77.3h.55M379.1 63.3h.55M368.7 72.9h.55M359.8 74.6h.55M350.0 76.0h.55M377.9 66.3h.55M355.6 71.1h.55M383.0 62.6h.55M367.2 72.6h.55M376.9 65.9h.55M344.9 78.2h.55M371.1 70.1h.55M348.2 75.6h.55M368.6 72.1h.55M340.0 78.8h.55M353.6 75.2h.55M354.2 77.6h.55M369.2 74.4h.55M374.6 69.8h.55M363.6 71.3h.55M344.2 75.3h.55M342.1 71.3h.55M340.1 76.5h.55M355.6 77.2h.55M356.8 75.5h.55M357.7 77.2h.55M362.5 75.6h.55M382.5 61.3h.55M358.6 76.6h.55M382.6 61.6h.55M368.1 69.9h.55M356.7 73.2h.55M351.5 78.0h.55M340.9 78.5h.55M378.3 65.3h.55M358.8 72.8h.55M351.4 77.9h.55M362.4 75.0h.55M381.2 56.0h.55M349.7 76.0h.55M357.7 77.5h.55M359.0 69.5h.55M352.6 75.4h.55M371.0 74.2h.55M380.6 63.2h.55M352.6 74.2h.55M339.9 79.2h.55M344.7 77.3h.55M339.7 80.3h.55M349.0 78.5h.55M343.1 79.1h.55M362.3 76.3h.55M376.0 67.6h.55M350.3 77.7h.55M376.8 68.0h.55M372.4 72.7h.55M381.5 61.5h.55M365.9 69.7h.55M342.4 90.0h.55M368.5 88.7h.55M369.7 87.8h.55M359.9 88.6h.55M357.2 89.0h.55M363.8 88.4h.55M350.1 90.5h.55M341.8 92.0h.55M359.8 88.6h.55M343.1 90.7h.55M360.2 89.9h.55M354.5 89.5h.55M377.3 87.1h.55M381.2 89.3h.55M381.6 90.0h.55M349.3 91.4h.55M364.9 88.1h.55M381.9 87.6h.55M373.6 88.1h.55M341.5 92.5h.55M345.7 90.0h.55M365.1 88.1h.55M358.4 90.1h.55M342.2 91.3h.55M342.6 90.7h.55M366.6 89.2h.55M339.9 90.4h.55M380.2 87.1h.55M356.7 89.2h.55M368.6 89.2h.55M366.6 88.3h.55M363.1 88.9h.55M346.3 93.4h.55M380.5 88.4h.55M381.7 87.1h.55M374.9 87.3h.55M370.7 88.9h.55M379.3 88.9h.55M376.7 87.2h.55M372.6 88.0h.55M351.7 89.6h.55M373.2 89.5h.55M375.2 88.3h.55M345.5 89.8h.55M363.0 88.3h.55M352.8 89.1h.55M344.8 91.3h.55M347.8 91.8h.55M352.5 91.4h.55M351.3 89.5h.55M355.4 88.7h.55M357.2 89.2h.55M338.6 92.8h.55M354.5 88.8h.55M380.3 86.8h.55M349.1 89.3h.55M342.4 91.5h.55M363.6 88.9h.55M348.8 89.7h.55M380.7 87.0h.55M381.5 89.1h.55M343.5 92.2h.55M338.9 91.8h.55M373.6 88.6h.55M362.2 90.3h.55M344.8 90.7h.55M349.7 89.9h.55M346.4 91.1h.55M363.2 89.9h.55M365.6 89.0h.55M378.6 88.8h.55M362.9 88.5h.55M378.8 87.2h.55M342.5 90.4h.55M369.1 90.9h.55M366.4 89.1h.55M379.2 88.5h.55M357.6 89.3h.55M371.4 87.7h.55M342.8 91.1h.55M373.6 87.4h.55M368.1 90.4h.55M343.6 90.0h.55M359.7 88.8h.55M379.8 93.9h.55M357.6 90.5h.55M365.8 88.0h.55M380.8 86.6h.55M341.3 90.8h.55M338.8 91.1h.55M356.1 92.6h.55M356.2 91.1h.55M372.3 88.3h.55M348.5 89.8h.55M359.6 89.0h.55M366.4 88.6h.55M352.2 90.2h.55M381.8 86.6h.55M352.8 88.9h.55M342.1 90.0h.55M356.6 90.9h.55M368.7 91.9h.55M374.8 88.1h.55M363.5 88.0h.55M354.9 89.1h.55M365.3 87.9h.55M361.9 88.7h.55M359.6 89.0h.55M342.5 91.6h.55M373.2 88.3h.55M343.1 91.0h.55M376.3 92.4h.55M371.4 87.3h.55M376.7 88.2h.55M350.2 92.5h.55M374.3 89.9h.55M348.9 90.4h.55M354.7 89.2h.55M371.5 88.5h.55M352.6 90.0h.55M378.8 87.6h.55M378.2 87.7h.55M381.7 86.3h.55M358.2 89.5h.55M370.0 91.9h.55M365.4 88.6h.55M365.9 88.7h.55M369.0 91.3h.55M338.6 90.7h.55M376.6 86.8h.55M372.8 87.2h.55M366.5 89.8h.55M348.5 89.9h.55M348.0 91.0h.55M361.3 89.4h.55M352.3 90.1h.55M380.0 88.4h.55M379.9 86.8h.55M360.7 88.8h.55M353.2 91.0h.55M345.7 90.6h.55M372.1 90.7h.55M338.8 90.6h.55M359.7 91.9h.55M345.2 92.0h.55M355.5 89.7h.55M378.8 86.6h.55M352.5 89.2h.55M343.9 90.2h.55M368.8 88.6h.55M343.4 91.9h.55M360.3 88.4h.55M374.1 89.2h.55M347.5 93.1h.55M373.7 87.4h.55M338.0 92.9h.55M374.3 87.1h.55M371.7 89.1h.55M365.9 90.1h.55M381.3 86.9h.55M374.7 90.2h.55M351.8 90.5h.55M368.1 90.0h.55M362.9 88.4h.55M349.1 90.3h.55M344.0 92.3h.55M377.1 87.1h.55M368.7 88.9h.55M343.4 91.7h.55M371.7 87.7h.55M342.3 90.3h.55M372.0 88.0h.55M373.9 87.2h.55M342.7 90.4h.55M376.7 87.0h.55M341.2 91.8h.55M342.0 91.3h.55M341.7 90.3h.55M367.2 90.3h.55M356.0 89.4h.55M339.4 90.7h.55M348.7 91.3h.55M369.4 89.4h.55M361.4 89.7h.55M343.6 90.4h.55M350.9 89.5h.55M370.5 87.6h.55M352.3 89.4h.55M376.0 88.1h.55M359.1 89.0h.55M378.6 90.2h.55M357.8 89.6h.55M376.0 87.2h.55M349.4 89.4h.55M360.1 90.2h.55M344.9 90.4h.55M381.6 87.2h.55M354.8 91.1h.55M377.3 87.3h.55M343.4 91.1h.55M370.6 90.7h.55M367.0 88.1h.55M360.7 88.7h.55M357.6 89.3h.55M378.1 89.7h.55M378.8 87.4h.55M380.4 86.6h.55M378.5 87.9h.55M376.4 87.5h.55M381.6 86.3h.55M375.3 89.1h.55M354.5 91.1h.55M347.4 91.2h.55M358.6 89.1h.55M346.6 91.6h.55M370.2 87.5h.55M381.0 86.7h.55M354.5 89.5h.55M363.4 90.8h.55M379.6 87.8h.55M354.1 89.0h.55M341.0 91.0h.55M363.7 88.7h.55M381.2 87.0h.55M353.4 89.6h.55M345.6 93.2h.55M364.0 88.9h.55M356.7 88.9h.55M351.9 89.9h.55M357.6 93.5h.55M362.8 88.3h.55M340.4 90.3h.55M353.2 90.9h.55M377.1 87.1h.55M372.3 87.9h.55M361.7 89.1h.55M339.9 90.2h.55M367.4 89.1h.55M354.7 92.0h.55M374.1 87.5h.55M340.9 91.1h.55M366.8 88.0h.55M339.9 91.0h.55M339.5 91.9h.55M365.5 88.2h.55M357.6 88.8h.55M346.2 89.8h.55M373.9 87.8h.55M369.5 88.0h.55M373.5 88.2h.55M366.8 88.3h.55M362.7 88.3h.55M380.8 87.8h.55M361.4 89.5h.55M342.4 90.4h.55M348.1 91.8h.55M338.6 91.0h.55M376.2 88.8h.55M369.6 87.9h.55M348.2 90.9h.55M351.1 90.7h.55M353.4 90.7h.55M363.2 90.2h.55M381.4 87.0h.55M381.4 86.3h.55M376.6 86.8h.55M362.0 88.7h.55M371.9 87.7h.55M347.2 91.4h.55M362.2 89.9h.55M359.5 88.4h.55M371.9 87.5h.55M358.8 88.4h.55M349.4 90.7h.55M371.6 88.5h.55M357.5 90.2h.55M367.4 87.9h.55M361.5 89.3h.55M370.1 87.6h.55M351.7 89.6h.55M342.2 90.4h.55M370.1 88.5h.55M345.6 91.3h.55M343.1 91.6h.55M344.5 89.8h.55M349.1 90.2h.55M349.9 92.0h.55M379.3 87.0h.55M371.0 88.8h.55M362.7 88.4h.55M379.8 90.6h.55M338.6 90.7h.55M352.1 89.3h.55M356.9 91.5h.55M339.1 92.5h.55M351.6 89.1h.55M377.6 87.1h.55M347.3 89.6h.55M354.2 89.0h.55M345.9 89.9h.55" stroke="#3a3a3a" stroke-width="0.55" fill="none"/>
<path d="M380.2 41.7h.55M382.3 56.6h.55M385.0 32.0h.55M379.0 63.0h.55M385.3 35.1h.55M380.5 47.5h.55M389.5 60.3h.55M382.6 43.7h.55M391.5 37.8h.55M390.1 49.2h.55M384.4 57.4h.55M385.9 39.1h.55M378.1 46.4h.55M386.0 58.1h.55M373.9 57.9h.55M386.4 59.4h.55M387.1 48.1h.55M385.7 49.7h.55M381.6 45.3h.55M384.5 42.4h.55M378.3 33.8h.55M386.0 50.8h.55M384.4 36.2h.55M387.3 42.9h.55M375.9 59.8h.55M378.2 65.8h.55M386.1 42.5h.55M374.9 40.2h.55M389.8 58.0h.55M385.0 31.5h.55M382.5 43.8h.55M385.8 45.2h.55M385.3 32.2h.55M381.5 58.7h.55M378.4 54.3h.55M393.0 51.9h.55M378.6 57.0h.55M376.8 49.2h.55M382.4 57.0h.55M388.6 47.9h.55M391.0 54.8h.55M382.1 37.8h.55M393.6 42.8h.55M385.6 45.3h.55M382.2 32.4h.55M383.4 45.3h.55M387.8 41.8h.55M377.9 37.0h.55M383.8 48.4h.55M386.8 43.0h.55M386.1 47.5h.55M390.6 45.8h.55M384.6 51.2h.55M388.7 38.3h.55M382.2 43.9h.55M375.7 57.6h.55M388.2 46.5h.55M397.1 57.3h.55M391.9 59.9h.55M387.5 34.0h.55M390.0 49.9h.55M379.4 46.7h.55M386.9 54.8h.55M384.7 41.7h.55M387.0 39.7h.55M383.7 52.9h.55M378.4 49.5h.55M376.4 38.2h.55M379.2 45.5h.55M386.8 45.8h.55M387.6 47.1h.55M383.2 50.5h.55M383.1 47.5h.55M388.0 41.3h.55M388.5 36.7h.55M383.1 31.2h.55M381.9 60.1h.55M385.4 57.3h.55M378.3 37.5h.55M385.8 53.5h.55M387.3 31.8h.55M386.0 45.7h.55M384.5 50.4h.55M382.9 31.6h.55M379.8 33.7h.55M378.9 45.1h.55M389.1 40.1h.55M381.0 36.3h.55M377.3 46.9h.55M382.1 44.2h.55M380.3 50.5h.55M379.3 51.0h.55M381.4 53.1h.55M380.5 50.1h.55M385.7 45.6h.55M390.4 47.8h.55M380.5 52.3h.55M380.8 41.6h.55M384.0 47.9h.55M390.6 31.1h.55M383.0 56.1h.55M383.4 49.1h.55M389.9 35.6h.55M384.2 53.2h.55M381.7 31.1h.55M380.1 48.0h.55M384.7 62.3h.55M389.2 32.8h.55M388.0 54.2h.55M390.3 45.0h.55M381.8 47.6h.55M390.0 51.7h.55M390.6 53.1h.55M381.7 37.5h.55M391.2 33.1h.55M382.6 43.5h.55M380.4 41.3h.55M384.0 67.0h.55M383.7 41.7h.55M384.5 54.4h.55" stroke="#9a9a9a" stroke-width="0.55" fill="none"/>
<path d="M363.6 47.9h.6M368.9 49.2h.6M355.0 48.1h.6M371.8 47.5h.6M371.9 47.7h.6M353.4 49.4h.6M360.0 47.4h.6M358.5 47.4h.6M351.7 49.1h.6M354.8 49.1h.6M357.7 46.9h.6M362.3 47.0h.6M356.6 47.7h.6M368.2 47.9h.6M354.4 48.2h.6M371.0 49.3h.6M354.6 48.5h.6M355.7 48.7h.6M358.3 47.1h.6M359.9 49.2h.6M361.5 47.1h.6M370.9 49.2h.6M360.4 48.9h.6M372.5 48.0h.6M362.6 47.9h.6M357.0 47.5h.6M354.0 48.9h.6M366.4 47.7h.6M361.1 47.7h.6M354.9 48.2h.6M358.4 47.8h.6M351.1 47.3h.6M366.6 48.0h.6M356.7 48.4h.6M355.7 48.8h.6M358.2 47.3h.6M356.5 48.1h.6M358.6 49.0h.6M368.4 48.6h.6M370.5 46.9h.6M365.4 48.5h.6M354.6 48.5h.6M356.7 46.7h.6M363.9 48.0h.6M360.5 48.4h.6M367.6 50.8h.6M358.5 50.7h.6M356.6 49.0h.6M369.6 49.3h.6M358.8 49.2h.6M370.6 48.2h.6M355.4 48.7h.6M368.7 49.6h.6M366.0 48.1h.6M357.2 48.2h.6M372.7 48.7h.6M352.0 47.7h.6M355.1 47.8h.6M360.6 48.9h.6M354.6 48.0h.6" stroke="#888" stroke-width="0.6" fill="none"/>
<path d="M341,79.5 C348,78.5 357,77.8 366,76.2 C372,75 375,71 377,66 C378.5,62.5 381.5,61.5 383,64 C384.2,69 384.2,79 383.3,84.5 C381,88 376,88.8 368,89.3 L344,90.4 C337.5,91 336.5,80.5 341,79.5 Z" fill="#b4b4b4" stroke="#111" stroke-width="2"/>
<path d="M344,82.3 C352,81 362,80.4 372,78.6 C377,77.3 379,73 380.3,69 C381.3,74 381.3,81 379.6,85 C370,86.4 356,87 346,87.8 C341.5,87.8 341,82.8 344,82.3 Z" fill="#c6c6c6" stroke="#777" stroke-width="0.6"/>
<path d="M346.5,84 C355,83 366,82.5 374,81.5 C376,82.8 376,84.6 374,85.3 C364,85.8 354,86 347.5,86.3 C345,86.2 345,84.3 346.5,84 Z" fill="#e6e6e6"/>
<path d="M341,79.5 C348,78.5 357,77.8 366,76.2 C372,75 375,71 377,66 C378.5,62.5 381.5,61.5 383,64 C384.2,69 384.2,79 383.3,84.5 C381,88 376,88.8 368,89.3 L344,90.4 C337.5,91 336.5,80.5 341,79.5 Z" fill="url(#g2)"/>
<path d="M372,77 C376,74 378,68 381,63 L384,64 L384,86 L374,88 Z" fill="#444" opacity="0.45" filter="url(#bl2)"/>
<path d="M377.3 68.8h.55M378.1 76.0h.55M380.3 73.9h.55M380.3 80.9h.55M377.0 75.6h.55M376.2 72.5h.55M381.4 71.4h.55M383.5 79.7h.55M381.4 77.0h.55M381.4 83.7h.55M379.7 72.7h.55M378.3 89.4h.55M379.1 73.2h.55M378.0 64.8h.55M378.4 78.5h.55M378.5 71.1h.55M380.4 79.4h.55M378.6 78.4h.55M377.4 82.1h.55M377.4 74.0h.55M379.8 73.4h.55M377.0 90.6h.55M382.8 64.4h.55M379.8 67.6h.55M380.2 67.4h.55M380.7 79.9h.55M383.2 84.5h.55M378.5 82.7h.55M378.5 75.5h.55M378.4 64.3h.55M380.8 62.4h.55M379.0 79.9h.55M379.7 65.5h.55M378.1 80.9h.55M381.9 87.1h.55M375.6 79.4h.55M378.5 81.5h.55M375.9 75.3h.55M381.0 71.9h.55M378.7 69.6h.55M381.9 67.2h.55M377.5 74.0h.55M378.8 90.7h.55M380.1 70.6h.55M380.7 78.6h.55M380.1 75.8h.55M380.5 68.3h.55M376.9 73.4h.55M377.1 81.1h.55M383.7 84.7h.55M380.5 78.6h.55M378.0 67.4h.55M380.7 66.2h.55M380.1 75.3h.55M381.1 76.6h.55M379.7 72.3h.55M375.8 73.9h.55M381.0 83.4h.55M382.5 69.5h.55M377.5 81.1h.55M378.5 93.8h.55M380.2 65.9h.55M378.3 87.0h.55M375.6 77.3h.55M376.5 87.2h.55M378.5 69.3h.55M375.8 71.4h.55M374.0 73.0h.55M384.2 77.0h.55M378.9 68.4h.55M380.2 73.1h.55M377.7 85.7h.55M380.4 70.2h.55M382.7 75.9h.55M380.6 77.3h.55M382.0 80.5h.55M378.8 81.2h.55M378.7 77.2h.55M383.0 69.0h.55M377.3 73.5h.55M378.4 85.2h.55M376.1 91.9h.55M382.9 73.2h.55M379.9 73.8h.55M380.9 80.8h.55M381.1 81.5h.55M383.7 75.1h.55M381.0 75.0h.55M379.6 77.8h.55M379.4 78.6h.55M377.7 75.2h.55M378.2 68.3h.55M378.0 72.9h.55M379.2 65.6h.55M378.9 68.6h.55M377.7 77.6h.55M381.9 78.2h.55M378.4 73.3h.55M382.4 65.2h.55M382.0 66.0h.55M378.1 76.6h.55M379.0 87.6h.55M380.6 75.9h.55M381.6 76.5h.55M377.8 83.9h.55M382.7 85.0h.55M377.0 89.3h.55M378.6 81.5h.55M382.1 92.5h.55M376.0 69.3h.55M382.0 79.7h.55M378.8 56.3h.55M380.4 75.0h.55M373.9 94.6h.55M374.1 72.5h.55M379.5 77.9h.55M381.1 74.5h.55M377.6 73.8h.55M375.0 68.6h.55M383.8 71.6h.55M379.3 89.2h.55M381.8 77.1h.55M381.1 74.4h.55M377.5 83.1h.55M379.8 87.2h.55M378.9 73.7h.55M380.2 75.0h.55M378.8 70.2h.55M380.0 78.5h.55M383.4 76.1h.55M375.7 79.5h.55M384.4 73.3h.55M377.8 75.1h.55M373.3 74.0h.55M379.1 65.9h.55M380.7 70.3h.55M375.5 71.4h.55M380.9 89.4h.55M382.2 77.6h.55M378.4 74.5h.55M381.6 72.7h.55M380.4 82.9h.55M377.5 72.2h.55M380.5 76.3h.55M379.2 72.7h.55M379.4 89.0h.55M382.4 65.2h.55M379.6 76.9h.55M379.6 66.8h.55M379.2 77.3h.55M378.0 78.4h.55M374.2 66.0h.55M379.7 79.0h.55M379.1 73.1h.55M379.9 83.7h.55M381.4 75.7h.55M378.5 83.6h.55M380.7 82.3h.55M378.9 70.4h.55M379.9 72.0h.55M382.0 82.1h.55M374.8 80.8h.55M382.4 83.4h.55M378.5 70.4h.55M381.6 83.2h.55M379.6 68.4h.55M376.2 78.1h.55M377.7 71.6h.55M380.5 83.5h.55M375.0 71.7h.55M382.3 76.0h.55M378.8 80.7h.55M377.0 67.9h.55M379.5 87.0h.55M381.7 76.2h.55M381.7 73.5h.55M377.0 64.8h.55M380.1 82.4h.55M380.3 76.0h.55M378.6 83.7h.55M379.4 66.4h.55M382.5 71.8h.55M380.3 76.3h.55M381.8 78.0h.55M382.1 77.7h.55M378.5 72.8h.55M380.9 70.6h.55M381.5 74.6h.55M377.5 70.3h.55M379.2 88.4h.55M381.2 76.4h.55M377.5 89.3h.55M378.9 76.3h.55M378.6 85.4h.55M379.9 73.1h.55M379.9 69.4h.55M377.2 75.2h.55M373.3 84.3h.55M383.8 68.7h.55M379.2 65.5h.55M379.9 77.7h.55M381.1 67.1h.55M378.2 71.8h.55M379.0 92.0h.55M379.1 76.0h.55M378.4 81.7h.55M385.0 84.2h.55M382.8 68.9h.55M381.8 76.5h.55M382.2 83.5h.55M380.9 64.8h.55M379.8 72.8h.55M380.5 76.5h.55M381.8 65.3h.55M377.9 75.8h.55M380.2 73.5h.55M379.4 76.7h.55M381.8 75.5h.55M380.0 63.8h.55M373.8 66.2h.55M380.3 60.4h.55M380.4 75.6h.55M379.5 71.3h.55M378.6 82.0h.55M380.3 76.1h.55M378.4 77.7h.55M382.1 76.1h.55M378.7 68.2h.55M379.7 70.0h.55M376.4 82.3h.55M378.2 62.3h.55M377.9 88.9h.55M379.3 67.2h.55M377.1 81.2h.55M380.4 77.7h.55M379.1 79.6h.55M382.8 79.6h.55M379.1 66.7h.55M380.5 87.0h.55M380.9 67.6h.55M379.9 85.2h.55M378.1 79.7h.55M382.1 87.5h.55M376.1 64.3h.55M380.3 81.1h.55M378.7 76.1h.55M378.6 84.5h.55M374.7 78.0h.55M376.7 71.6h.55M376.2 70.0h.55M379.4 76.5h.55M383.4 74.8h.55M380.2 78.7h.55M380.1 86.4h.55M379.8 77.3h.55M379.3 76.3h.55M379.4 83.1h.55M379.5 76.7h.55M379.4 81.5h.55M378.5 82.7h.55M386.6 85.1h.55M397.1 80.6h.55M388.6 66.7h.55M392.1 78.4h.55M392.9 71.8h.55M391.2 96.1h.55M390.7 75.1h.55M383.5 78.2h.55M391.8 84.2h.55M384.3 68.2h.55M384.9 68.2h.55M387.8 80.9h.55M397.2 80.2h.55M395.2 62.0h.55M395.5 86.1h.55M390.9 86.4h.55M391.6 97.1h.55M392.4 61.1h.55M381.6 94.2h.55M388.6 91.3h.55M387.5 71.8h.55M387.5 81.4h.55M389.8 72.2h.55M391.3 84.4h.55M385.1 67.3h.55M380.7 75.2h.55M389.0 71.4h.55M386.4 77.0h.55M389.1 83.9h.55M392.5 82.6h.55M393.8 68.7h.55M391.6 82.0h.55M384.6 71.6h.55M390.9 79.0h.55M383.7 72.8h.55M395.5 86.6h.55M389.3 91.6h.55M385.1 76.6h.55M393.1 75.0h.55M384.3 84.1h.55M395.8 53.2h.55M389.7 65.9h.55M387.7 64.3h.55M389.2 71.3h.55M384.8 73.8h.55M389.9 95.6h.55M390.2 93.7h.55M384.5 79.0h.55M387.1 62.8h.55M390.0 70.8h.55M386.6 68.1h.55M393.4 74.3h.55M388.4 80.1h.55M383.8 80.6h.55M388.3 82.7h.55M387.4 78.7h.55M391.2 87.8h.55M386.1 87.9h.55M384.8 76.4h.55M389.6 79.7h.55M378.4 68.6h.55M388.2 87.4h.55M386.0 93.2h.55M381.3 79.0h.55M391.3 78.4h.55M390.1 87.5h.55M385.6 84.1h.55M393.5 76.0h.55M379.2 66.5h.55M385.4 67.8h.55M390.8 70.3h.55M383.5 75.4h.55M395.5 85.0h.55M384.7 88.5h.55M387.0 100.2h.55M386.7 84.2h.55M391.4 73.9h.55M388.3 89.7h.55M391.1 77.7h.55M390.9 95.6h.55M393.0 83.0h.55M390.4 62.8h.55M389.6 73.5h.55M392.1 72.3h.55M390.9 67.9h.55M392.8 71.1h.55M388.9 84.0h.55M387.6 78.3h.55M393.5 95.8h.55M381.3 69.4h.55M391.9 87.6h.55M387.0 79.2h.55M388.2 100.8h.55M388.2 66.5h.55M382.4 65.7h.55M394.5 74.4h.55M397.3 84.6h.55M390.6 84.6h.55M392.4 87.4h.55M384.9 72.8h.55M386.7 79.3h.55M387.9 66.1h.55M386.1 95.9h.55M390.6 77.9h.55M385.4 85.3h.55M388.7 94.8h.55M390.9 75.2h.55M377.8 77.3h.55M392.6 71.2h.55M392.8 85.0h.55M381.5 76.3h.55M390.4 85.7h.55M389.7 78.1h.55M387.5 75.4h.55M389.0 67.8h.55M391.7 75.1h.55M391.2 73.3h.55M390.7 79.5h.55M392.8 82.8h.55M393.0 76.6h.55M388.8 75.7h.55M383.7 77.0h.55M393.6 85.9h.55M385.4 81.2h.55M392.2 64.9h.55M390.5 81.5h.55M392.2 80.8h.55M381.6 58.4h.55M394.4 90.8h.55M389.4 67.0h.55M394.8 77.9h.55M391.2 83.0h.55M393.1 88.3h.55M383.0 64.4h.55M389.6 78.4h.55M392.3 76.9h.55M388.2 98.3h.55M394.8 89.7h.55M393.4 70.5h.55M388.6 77.6h.55M384.4 69.7h.55M389.7 66.3h.55M391.3 82.9h.55M388.0 74.9h.55M391.6 83.0h.55M390.6 66.2h.55M382.1 98.4h.55M386.2 74.7h.55M381.2 70.4h.55M385.9 86.1h.55M377.8 64.5h.55M387.2 73.4h.55M385.7 73.9h.55M382.3 80.9h.55M394.1 79.8h.55M386.7 90.7h.55M391.1 68.1h.55M386.6 72.3h.55M388.8 90.2h.55M386.0 76.8h.55M389.5 66.6h.55M387.0 84.3h.55M393.8 59.8h.55M392.0 75.4h.55M394.5 84.4h.55M397.4 81.3h.55M387.3 70.1h.55M382.9 83.7h.55M391.2 86.3h.55M390.5 63.6h.55M387.3 75.9h.55M389.7 85.8h.55M395.0 81.1h.55M380.2 68.2h.55M379.9 70.8h.55M383.9 80.6h.55M388.1 89.2h.55M393.6 73.8h.55M393.0 78.4h.55M390.9 91.5h.55M384.1 77.6h.55M395.5 70.8h.55M389.9 79.6h.55M387.2 65.4h.55M386.1 68.6h.55M393.6 80.7h.55M392.0 66.6h.55M391.1 79.7h.55M393.5 71.2h.55M392.4 91.7h.55M396.7 69.2h.55M384.2 63.9h.55M393.1 84.1h.55M390.5 69.8h.55M394.3 94.0h.55M388.9 77.1h.55M394.1 83.2h.55M394.7 74.3h.55M390.4 75.0h.55M386.6 75.4h.55M387.8 83.2h.55M387.7 79.0h.55M385.6 66.3h.55M395.1 68.6h.55M396.7 87.5h.55M379.3 72.0h.55M387.2 78.5h.55M388.2 72.4h.55M394.3 77.0h.55M393.1 71.6h.55M386.1 91.3h.55M387.8 67.5h.55M388.3 88.6h.55M388.3 71.2h.55M391.7 87.9h.55M388.1 75.2h.55M388.2 95.4h.55M388.4 82.3h.55M380.4 80.0h.55M389.2 75.2h.55M387.3 64.9h.55M382.7 79.9h.55M386.3 77.4h.55M388.2 73.3h.55M385.9 96.4h.55M384.3 73.3h.55M387.8 67.0h.55M384.9 86.7h.55M393.0 79.6h.55M394.2 70.3h.55M393.6 94.8h.55M387.4 96.0h.55M385.6 67.2h.55M388.8 70.4h.55M391.7 67.5h.55M389.4 59.2h.55M388.9 88.6h.55M387.9 81.3h.55M393.6 67.6h.55M383.6 79.1h.55M390.2 75.7h.55M384.9 90.1h.55M384.1 75.7h.55M388.8 85.4h.55M387.1 70.3h.55M392.4 76.8h.55M387.0 77.8h.55M387.9 81.3h.55M378.2 78.0h.55M389.3 68.8h.55M387.4 101.1h.55M396.9 84.5h.55M390.0 75.3h.55M394.9 73.9h.55M385.5 85.0h.55M384.9 70.6h.55M395.2 62.6h.55M388.7 79.4h.55M390.1 64.1h.55M388.1 75.0h.55M397.2 88.1h.55M385.8 86.8h.55M391.8 77.2h.55M388.0 75.6h.55M382.5 72.1h.55M393.0 92.4h.55M396.9 74.6h.55M391.6 54.8h.55M387.9 66.0h.55M392.5 62.1h.55M384.6 67.5h.55M390.7 86.5h.55M385.1 95.9h.55M389.7 70.1h.55M390.5 78.1h.55M392.5 81.6h.55M386.3 86.0h.55M392.2 68.5h.55M385.8 70.4h.55M378.5 84.5h.55M388.1 90.3h.55M386.6 79.0h.55M392.1 87.7h.55M390.4 68.1h.55M394.8 94.1h.55M395.0 82.3h.55M391.0 84.4h.55M382.6 86.2h.55M384.9 82.4h.55M384.7 85.3h.55M387.0 102.6h.55M389.8 83.2h.55M385.2 75.5h.55M388.8 75.5h.55M387.2 69.7h.55M392.3 74.5h.55M385.6 81.8h.55M385.6 76.6h.55M386.9 69.3h.55M388.1 70.3h.55M383.7 81.7h.55M387.8 64.0h.55M387.4 80.1h.55M390.8 81.9h.55M390.1 84.1h.55M386.9 70.5h.55M391.6 74.3h.55M389.1 84.6h.55M393.0 90.2h.55M386.1 74.7h.55M391.4 64.3h.55M383.7 84.2h.55M386.4 69.3h.55M392.4 83.5h.55M392.9 75.1h.55M387.8 75.0h.55M390.3 58.5h.55M386.1 85.2h.55M385.7 77.7h.55M389.6 83.4h.55M387.0 67.3h.55M396.3 61.2h.55M389.5 76.4h.55M397.1 98.1h.55M393.2 68.4h.55M385.6 71.0h.55M386.9 80.8h.55M385.7 75.9h.55M395.3 92.3h.55M381.2 69.0h.55M387.5 90.9h.55M387.6 96.9h.55M390.6 92.2h.55M385.4 75.3h.55M393.4 83.8h.55M381.1 75.6h.55M389.8 84.4h.55M386.4 95.2h.55M389.7 92.4h.55M390.7 79.1h.55M387.7 67.0h.55M392.7 85.6h.55M393.0 74.6h.55M384.8 74.6h.55M387.7 78.2h.55M393.2 69.4h.55M387.0 85.0h.55M392.9 99.8h.55M391.3 70.1h.55M384.7 70.6h.55M389.3 80.7h.55M388.8 72.3h.55M388.3 77.5h.55M391.6 79.1h.55M385.6 67.0h.55M395.3 77.5h.55M388.3 78.0h.55M393.8 75.3h.55M389.8 76.0h.55M391.5 68.5h.55M389.9 88.3h.55M394.1 84.3h.55M390.3 93.5h.55M392.0 91.9h.55M384.0 67.7h.55M392.4 75.7h.55M387.2 69.1h.55M395.3 66.7h.55M389.5 64.8h.55M388.3 100.1h.55M384.8 94.1h.55M385.4 61.0h.55M390.5 67.9h.55M382.9 89.2h.55M386.0 68.0h.55M389.8 76.5h.55M393.8 79.2h.55M395.8 89.3h.55M396.6 89.2h.55M389.4 83.6h.55M389.2 63.2h.55M384.1 85.5h.55M379.1 70.3h.55M383.7 77.7h.55M384.7 80.7h.55M388.2 73.8h.55M385.5 56.8h.55M389.4 65.8h.55M387.8 81.9h.55M393.5 85.1h.55M395.3 64.6h.55M391.9 93.5h.55M390.7 67.6h.55M390.7 73.3h.55M386.4 88.6h.55M388.3 67.5h.55M386.2 97.3h.55M385.5 84.8h.55M389.8 89.6h.55M387.9 69.2h.55M386.4 68.3h.55M387.7 90.5h.55M391.8 76.5h.55M391.7 80.9h.55M393.8 94.3h.55M387.7 78.0h.55M388.3 90.1h.55M390.7 85.9h.55M392.9 72.2h.55M389.6 91.7h.55M393.0 86.2h.55M387.9 74.8h.55M385.5 75.7h.55M388.8 64.5h.55M394.0 70.9h.55M390.1 84.1h.55M386.8 60.8h.55M393.1 82.3h.55M388.0 89.3h.55M392.8 69.1h.55M388.7 61.3h.55M388.0 92.0h.55M385.5 86.3h.55M382.7 75.4h.55M393.0 94.9h.55M391.0 85.6h.55M396.3 54.7h.55M381.9 96.6h.55M389.3 80.8h.55M389.2 72.4h.55M389.0 77.1h.55M391.9 84.9h.55M393.2 84.0h.55M385.0 91.8h.55M377.9 79.4h.55M390.5 73.2h.55M396.9 67.7h.55M384.2 73.4h.55M390.8 86.0h.55M389.5 84.8h.55M386.1 72.5h.55M389.6 65.3h.55M389.9 74.5h.55M391.9 68.5h.55M386.9 72.8h.55M387.5 68.6h.55M388.0 65.2h.55M391.3 84.8h.55M389.0 76.5h.55M385.3 69.0h.55M388.2 69.6h.55M384.2 79.9h.55M389.0 74.4h.55M385.7 77.8h.55M386.2 74.2h.55M389.8 85.3h.55M392.2 72.4h.55M394.1 67.1h.55M388.4 90.9h.55M387.6 74.7h.55M384.0 76.9h.55M387.3 71.0h.55M394.1 70.8h.55M396.1 86.4h.55M391.7 72.6h.55M387.0 59.0h.55M390.2 75.7h.55M390.7 71.8h.55M391.1 63.8h.55M379.9 82.9h.55M393.5 47.9h.55M394.4 74.9h.55M388.4 63.4h.55M384.9 85.2h.55M386.0 77.9h.55M388.4 97.5h.55M392.8 65.5h.55M387.1 67.2h.55M383.3 71.7h.55M393.7 78.8h.55M391.9 77.0h.55M387.3 79.1h.55M388.7 96.9h.55M396.5 81.9h.55M391.6 59.1h.55M388.6 101.4h.55M385.7 86.2h.55M394.1 74.5h.55M388.1 73.9h.55M392.4 78.5h.55M395.3 89.8h.55M387.8 72.4h.55M388.1 69.8h.55M387.3 77.6h.55M392.8 63.0h.55M383.2 70.8h.55M387.8 82.7h.55M385.8 92.9h.55M386.9 76.2h.55M389.3 89.6h.55M390.3 78.5h.55M386.8 79.9h.55M390.7 74.9h.55M389.0 60.5h.55M386.9 89.7h.55M395.0 77.6h.55M380.1 96.0h.55M387.3 88.0h.55M386.5 91.6h.55M393.9 68.0h.55M388.1 66.6h.55M390.2 74.4h.55M382.8 68.1h.55M390.1 63.5h.55M393.5 82.6h.55M388.3 91.9h.55M385.2 84.9h.55M383.4 75.1h.55M391.7 73.1h.55M388.6 84.6h.55M395.4 90.9h.55M391.0 75.8h.55M383.1 94.9h.55M396.8 57.4h.55M392.7 77.9h.55M392.0 81.4h.55M388.2 78.2h.55M388.9 89.6h.55M388.0 73.0h.55M391.8 84.5h.55M390.8 81.0h.55M395.1 89.1h.55M389.9 76.2h.55M391.8 60.1h.55M386.9 71.4h.55M389.8 74.5h.55M390.7 100.1h.55M389.0 75.2h.55M394.1 86.3h.55M392.9 90.0h.55M387.5 71.9h.55M386.1 79.3h.55M393.2 68.1h.55M386.8 65.3h.55M397.3 86.1h.55M389.9 66.4h.55M384.8 72.0h.55M389.2 65.9h.55M388.1 90.1h.55M389.1 79.2h.55M380.4 75.6h.55M388.4 71.6h.55M383.3 77.6h.55M384.8 73.0h.55M382.4 77.4h.55M392.8 70.1h.55M390.4 63.5h.55M391.4 83.6h.55M387.4 86.9h.55M385.4 78.7h.55M396.0 78.1h.55M384.4 89.5h.55M391.3 75.6h.55M381.5 60.0h.55M382.8 92.7h.55M390.3 70.0h.55M393.8 92.5h.55M385.6 83.0h.55M382.2 81.9h.55M396.5 64.5h.55M389.3 72.1h.55M388.7 79.1h.55M390.2 87.0h.55M391.2 88.5h.55M393.2 89.0h.55M386.3 82.3h.55M387.5 70.1h.55M397.1 81.1h.55M389.2 57.8h.55M388.1 85.8h.55M388.2 73.0h.55M395.1 75.2h.55M387.7 77.3h.55M388.1 88.5h.55M391.4 77.6h.55M387.5 76.1h.55M396.0 75.3h.55M391.7 62.9h.55M390.4 85.0h.55M394.3 81.4h.55M391.4 81.4h.55M393.4 98.2h.55M389.9 70.3h.55M391.5 77.2h.55M391.7 85.8h.55M389.7 74.0h.55M390.3 66.1h.55M390.2 69.6h.55M390.9 79.5h.55M388.1 66.5h.55M389.2 71.6h.55M388.5 85.1h.55M393.0 65.7h.55M392.9 91.6h.55M393.7 81.0h.55M388.7 95.3h.55M387.7 63.4h.55M389.4 81.1h.55M384.8 66.4h.55M397.2 79.4h.55M392.3 72.6h.55M382.8 76.5h.55M394.6 71.8h.55M381.7 76.6h.55M387.9 78.4h.55M384.8 75.2h.55M386.8 86.9h.55M389.7 86.8h.55M388.8 57.5h.55M381.0 83.5h.55M392.7 86.8h.55M388.7 60.9h.55M387.0 82.2h.55M394.7 74.9h.55M386.7 70.7h.55M393.2 86.8h.55M381.5 90.1h.55M385.3 63.9h.55M382.5 71.2h.55M383.9 71.7h.55M389.7 82.3h.55M387.1 62.8h.55M387.4 71.6h.55M381.7 79.7h.55M383.0 61.3h.55M395.3 87.5h.55M395.0 79.4h.55M387.4 77.4h.55M383.4 85.5h.55M390.2 75.3h.55M381.4 77.2h.55M395.7 92.4h.55M392.7 74.8h.55M389.6 83.7h.55M389.9 88.5h.55M386.3 55.6h.55M379.1 69.4h.55M383.4 84.8h.55M393.5 78.3h.55M391.3 79.0h.55M389.8 73.7h.55M387.4 89.9h.55M387.9 77.9h.55M394.0 87.9h.55M387.4 80.8h.55M384.9 79.6h.55M390.3 78.3h.55M389.7 81.8h.55M378.6 70.2h.55M389.4 73.5h.55M385.1 76.0h.55M395.7 76.0h.55M386.4 73.6h.55M384.2 83.0h.55M385.0 87.2h.55M392.8 83.9h.55M393.3 77.4h.55M381.8 77.6h.55M391.7 63.2h.55M384.0 89.0h.55M390.9 91.4h.55M391.8 78.9h.55M390.8 86.6h.55M388.9 76.2h.55M390.3 75.2h.55M382.8 65.6h.55M393.4 74.3h.55M389.7 76.2h.55M390.2 64.1h.55M389.4 72.7h.55M393.5 84.4h.55M383.9 68.8h.55M391.4 90.0h.55M392.2 76.8h.55M393.6 55.2h.55M386.8 68.7h.55M384.8 83.8h.55M390.2 81.1h.55M388.5 84.3h.55M392.3 72.7h.55M392.9 69.2h.55M396.3 65.5h.55M387.9 67.7h.55M389.2 91.2h.55M385.9 95.7h.55M394.9 82.0h.55M386.6 87.1h.55M377.2 70.8h.55M393.0 77.9h.55M383.5 76.2h.55M391.5 95.0h.55M381.7 79.8h.55M394.3 71.7h.55M387.2 66.4h.55M392.2 86.4h.55M391.5 80.7h.55M393.2 77.1h.55M392.0 86.3h.55M394.5 83.3h.55M389.4 85.2h.55M382.6 61.0h.55M395.8 79.6h.55M384.7 72.6h.55M388.4 79.0h.55M385.9 88.0h.55M384.5 94.6h.55M391.8 61.8h.55M383.9 78.9h.55M390.2 74.1h.55M389.1 79.9h.55M384.3 78.9h.55M384.8 84.8h.55M394.7 88.5h.55M386.4 77.5h.55M389.9 76.2h.55M390.7 88.9h.55M391.3 78.2h.55M388.2 95.9h.55M383.9 98.0h.55M392.1 79.1h.55M385.9 96.3h.55M394.2 87.2h.55M389.5 75.3h.55M386.0 79.0h.55M391.3 83.4h.55M388.5 65.2h.55M391.4 84.3h.55M389.1 67.0h.55M389.9 85.7h.55M391.2 91.4h.55M384.7 71.5h.55M389.8 66.1h.55M386.5 91.9h.55M390.3 77.3h.55M386.7 78.8h.55M388.9 67.6h.55M392.4 65.7h.55M394.5 74.9h.55M379.4 63.0h.55M390.3 69.7h.55M396.7 91.9h.55M394.8 72.3h.55M394.6 74.0h.55M388.8 64.8h.55M389.3 82.3h.55M388.8 67.3h.55M392.9 87.3h.55M388.7 86.0h.55M393.3 68.5h.55M388.9 59.8h.55M384.7 82.5h.55M385.3 82.2h.55M390.6 57.8h.55M387.0 93.3h.55M389.1 79.5h.55M386.1 62.4h.55M388.3 69.6h.55M389.5 59.0h.55M395.0 95.3h.55M385.8 81.5h.55M385.2 86.8h.55M396.0 72.7h.55M397.1 80.0h.55M396.2 57.7h.55M395.6 87.4h.55M396.7 74.9h.55M397.0 75.9h.55M396.0 73.1h.55M396.4 74.1h.55M396.5 71.5h.55M396.1 63.4h.55M395.5 69.2h.55M395.6 54.0h.55M395.9 52.1h.55M397.1 87.9h.55M395.9 96.7h.55M396.7 46.6h.55M396.4 63.3h.55M395.5 71.4h.55M397.0 79.2h.55M395.7 67.0h.55M396.0 86.8h.55M396.4 63.5h.55M395.9 52.6h.55M396.0 84.1h.55M395.4 76.4h.55M396.3 83.2h.55M395.8 84.3h.55M397.2 99.4h.55M395.6 73.9h.55M396.3 75.6h.55M395.9 83.7h.55M395.9 67.9h.55M396.8 75.8h.55M396.0 87.9h.55M396.7 85.5h.55M396.3 88.3h.55M396.2 62.0h.55M396.4 58.9h.55M397.0 82.3h.55M395.6 76.2h.55M396.8 70.3h.55M396.6 67.8h.55M396.4 73.3h.55M396.6 63.6h.55M395.8 77.9h.55M396.1 80.0h.55M396.2 59.8h.55M396.8 77.2h.55M396.8 70.5h.55M396.2 88.2h.55M395.6 93.4h.55M396.7 73.6h.55M396.4 80.9h.55M396.0 77.3h.55M395.9 53.9h.55M396.5 75.4h.55M396.7 80.4h.55M396.8 83.0h.55M395.9 87.7h.55M395.8 81.8h.55M396.9 85.4h.55M397.2 59.0h.55M396.6 79.4h.55M397.0 64.4h.55M396.4 70.2h.55M396.3 72.7h.55M396.3 54.8h.55M396.4 75.0h.55M396.2 35.1h.55M396.1 67.1h.55M396.0 92.0h.55M396.9 72.2h.55M395.9 79.5h.55M396.1 90.7h.55M397.0 72.9h.55M396.7 65.5h.55M395.6 83.6h.55M397.2 70.9h.55M396.1 54.5h.55M395.9 72.1h.55M397.0 74.9h.55M396.4 74.5h.55M396.8 73.9h.55M396.5 73.5h.55M395.8 89.1h.55M396.1 59.7h.55M396.2 74.6h.55M396.8 58.0h.55M395.8 76.2h.55M396.6 62.2h.55M395.8 76.2h.55M396.3 56.4h.55M396.0 90.7h.55M395.9 85.9h.55M395.6 90.7h.55M397.2 67.3h.55M396.1 81.2h.55M395.8 80.4h.55M397.0 77.2h.55M396.6 72.5h.55M396.9 65.2h.55M397.2 74.0h.55M396.2 56.2h.55M396.2 76.9h.55M397.0 56.4h.55M396.3 66.7h.55M395.8 74.3h.55M396.0 83.9h.55M395.0 82.4h.55M395.4 52.7h.55M396.7 70.5h.55M396.5 63.6h.55M395.9 66.1h.55M396.4 65.0h.55M396.2 64.8h.55M396.5 61.7h.55M395.4 45.3h.55M396.4 75.3h.55M396.9 66.1h.55M395.8 57.8h.55M396.8 67.4h.55M396.9 73.4h.55M396.3 53.7h.55M396.1 83.0h.55M396.1 81.8h.55M395.6 85.5h.55M396.6 60.6h.55M396.1 67.0h.55M396.5 52.0h.55M396.0 83.0h.55M396.5 82.5h.55M396.8 61.6h.55M395.7 79.4h.55M396.4 75.1h.55M396.0 85.5h.55M396.6 86.9h.55M396.2 81.9h.55M396.4 63.9h.55M396.4 56.0h.55M396.3 76.2h.55M396.7 62.6h.55M395.7 66.2h.55M395.4 67.1h.55M396.0 66.8h.55M397.3 61.4h.55M396.3 73.4h.55M396.0 66.3h.55M395.6 65.0h.55M397.1 89.9h.55M396.3 82.0h.55M396.6 75.5h.55M396.3 87.7h.55M396.7 71.8h.55M396.3 84.6h.55M396.1 66.4h.55M396.3 68.8h.55M397.0 78.2h.55M396.4 68.5h.55M397.1 79.1h.55M396.3 68.2h.55M396.3 76.3h.55M396.8 79.6h.55M397.2 57.5h.55M396.4 58.6h.55M395.9 67.6h.55M396.1 63.6h.55M395.6 86.8h.55M396.2 84.9h.55M395.8 48.7h.55M396.1 84.0h.55M396.1 78.6h.55M395.9 89.6h.55M396.6 85.9h.55M396.3 88.4h.55M396.4 68.9h.55M396.1 74.9h.55M395.9 61.1h.55M396.5 82.1h.55M396.3 83.5h.55M397.2 60.3h.55M396.5 63.6h.55M396.1 76.2h.55M395.2 81.0h.55M396.8 80.3h.55M396.7 94.3h.55M396.2 86.3h.55M397.1 79.7h.55M395.5 72.5h.55M396.3 56.4h.55M396.4 82.6h.55M396.3 72.3h.55M397.1 67.5h.55" stroke="#333" stroke-width="0.55" fill="none"/>
<path d="M426,80 L445,70 L462,62 L481,58 L482,95 L466,92 L428,93 Z" fill="#888" opacity="0.45" filter="url(#bl)"/>
<path d="M446.5 57.6h.6M417.4 71.1h.6M466.1 40.5h.6M418.9 80.3h.6M444.9 87.7h.6M440.8 101.1h.6M473.1 54.8h.6M449.6 73.4h.6M443.5 89.6h.6M461.4 89.6h.6M429.7 67.6h.6M450.0 73.1h.6M413.1 89.2h.6M443.4 43.4h.6M471.8 71.3h.6M463.8 84.1h.6M455.6 96.3h.6M415.9 55.6h.6M423.5 76.8h.6M427.4 34.3h.6M421.5 44.5h.6M449.8 64.2h.6M444.5 33.2h.6M449.0 50.0h.6M418.4 36.3h.6M422.6 60.4h.6M423.7 64.7h.6M423.5 83.8h.6M473.3 55.0h.6M417.0 99.9h.6" stroke="#c8c8c8" stroke-width="0.6" fill="none"/>
<path d="M430.6 74.5h.55M467.6 68.1h.55M475.0 69.1h.55M465.6 61.3h.55M475.3 61.8h.55M450.0 72.0h.55M472.7 68.0h.55M440.0 76.7h.55M437.2 76.7h.55M477.1 68.0h.55M445.4 60.4h.55M464.0 69.3h.55M431.8 76.7h.55M442.0 64.0h.55M449.1 60.0h.55M440.9 76.5h.55M475.5 69.4h.55M469.3 66.6h.55M441.6 69.0h.55M449.6 57.8h.55M456.7 61.3h.55M477.2 67.6h.55M464.0 66.2h.55M462.0 72.1h.55M463.8 65.7h.55M436.7 77.0h.55M429.7 75.8h.55M431.8 70.7h.55M448.8 52.5h.55M466.4 68.8h.55M436.0 75.2h.55M459.4 64.5h.55M475.1 68.1h.55M427.3 75.1h.55M463.8 67.4h.55M470.2 63.2h.55M460.4 65.3h.55M432.9 66.0h.55M462.7 71.6h.55M435.3 73.4h.55M442.8 64.7h.55M441.3 73.8h.55M453.7 62.3h.55M442.7 67.0h.55M465.8 67.7h.55M478.0 60.4h.55M467.2 67.6h.55M428.4 78.4h.55M461.8 71.7h.55M461.4 70.5h.55M447.3 68.2h.55M472.2 64.3h.55M450.6 71.6h.55M480.2 58.3h.55M459.4 72.4h.55M475.6 69.5h.55M432.4 73.9h.55M436.8 71.6h.55M463.8 71.0h.55M476.0 43.0h.55M462.1 55.2h.55M470.1 67.6h.55M471.3 58.4h.55M464.3 71.3h.55M446.5 70.5h.55M446.1 74.9h.55M451.1 74.1h.55M452.1 74.0h.55M466.0 70.2h.55M477.5 69.1h.55M460.7 68.1h.55M436.9 73.3h.55M456.2 69.5h.55M436.2 74.8h.55M472.0 66.0h.55M439.4 75.2h.55M474.4 69.6h.55M452.3 71.4h.55M449.7 75.0h.55M431.9 70.8h.55M451.0 73.3h.55M450.8 74.6h.55M430.5 71.5h.55M467.8 69.9h.55M443.5 75.9h.55M443.5 73.1h.55M467.4 67.9h.55M472.6 43.3h.55M457.2 73.1h.55M433.4 73.5h.55M433.2 68.6h.55M429.0 79.0h.55M480.8 67.1h.55M456.5 69.6h.55M432.5 76.7h.55M446.3 70.0h.55M469.0 65.5h.55M435.9 75.0h.55M476.4 68.8h.55M445.2 71.9h.55M480.7 69.2h.55M464.0 69.1h.55M455.1 66.1h.55M431.3 74.9h.55M443.4 70.3h.55M465.3 69.1h.55M434.4 71.9h.55M464.5 68.1h.55M467.0 58.5h.55M439.4 72.0h.55M470.4 68.9h.55M475.7 68.1h.55M478.6 65.7h.55M479.5 60.3h.55M469.0 68.6h.55M451.2 71.0h.55M470.3 68.0h.55M475.4 68.7h.55M454.6 73.2h.55M435.4 76.3h.55M428.6 75.8h.55M460.1 70.5h.55M469.9 67.0h.55M463.6 71.4h.55M444.1 76.0h.55M434.8 69.9h.55M433.5 74.4h.55M446.8 70.9h.55M473.9 62.4h.55M479.1 55.2h.55M447.9 56.8h.55M467.9 69.4h.55M444.1 73.0h.55M472.5 69.6h.55M475.0 65.1h.55M458.6 70.8h.55M447.0 73.4h.55M465.4 68.9h.55M465.3 62.6h.55M430.8 78.7h.55M477.8 68.6h.55M470.8 68.0h.55M438.4 77.1h.55M449.6 71.2h.55M429.0 79.2h.55M441.8 67.6h.55M467.3 69.7h.55M448.2 73.1h.55M465.0 70.1h.55M445.5 72.9h.55M439.0 74.7h.55M467.1 68.0h.55M429.1 77.5h.55M457.4 72.1h.55M447.3 72.0h.55M446.0 74.9h.55M474.1 69.6h.55M475.8 69.3h.55M456.5 70.2h.55M448.5 71.1h.55M474.6 68.2h.55M429.3 78.3h.55M474.3 66.0h.55M467.5 68.8h.55M443.8 71.2h.55M457.2 63.0h.55M434.8 76.1h.55M464.0 61.7h.55M451.7 68.1h.55M432.0 74.2h.55M444.1 71.1h.55M442.4 75.5h.55M440.8 71.3h.55M465.2 61.2h.55M448.8 74.9h.55M470.5 69.0h.55M465.5 68.5h.55M450.4 74.7h.55M438.5 71.3h.55M451.3 65.7h.55M470.4 67.0h.55M480.1 69.3h.55M448.0 72.1h.55M429.0 70.7h.55M434.2 74.3h.55M440.9 74.7h.55M451.6 73.2h.55M435.4 73.1h.55M460.4 72.2h.55M479.5 68.9h.55M438.3 75.8h.55M446.0 72.9h.55M475.7 69.3h.55M457.6 69.1h.55M440.2 75.0h.55M450.5 65.7h.55M468.7 67.8h.55M429.8 77.2h.55M470.9 67.8h.55M447.5 71.2h.55M428.2 75.1h.55M463.7 71.3h.55M448.9 67.0h.55M440.4 73.6h.55M445.0 72.5h.55M447.5 73.7h.55M476.9 64.6h.55M480.9 67.6h.55M451.7 72.7h.55M473.7 68.0h.55M463.4 71.0h.55M455.8 72.3h.55M476.3 67.7h.55M478.4 65.9h.55M444.8 72.6h.55M477.2 64.6h.55M471.3 66.6h.55M460.0 72.0h.55M471.7 65.8h.55M461.7 70.7h.55M468.0 67.6h.55M443.6 56.0h.55M468.5 65.9h.55M472.2 65.1h.55M447.2 62.4h.55M475.8 65.0h.55M449.9 72.1h.55M428.5 70.2h.55M471.7 66.3h.55M451.6 67.8h.55M427.2 77.6h.55M439.8 72.9h.55M445.5 71.9h.55M475.4 67.5h.55M432.3 78.4h.55M471.9 67.4h.55M450.3 74.8h.55M431.7 78.6h.55M475.3 69.5h.55M443.7 73.5h.55M457.5 72.2h.55M461.5 68.0h.55M480.2 68.9h.55M442.3 76.0h.55M441.9 75.5h.55M427.7 72.7h.55M441.1 70.9h.55M470.8 63.5h.55M427.4 76.0h.55M472.8 65.8h.55M459.2 70.5h.55M471.2 66.9h.55M445.4 73.0h.55M451.9 73.7h.55M463.0 64.4h.55M462.0 72.1h.55M448.3 69.2h.55M433.2 75.3h.55M463.6 68.6h.55M444.2 76.0h.55M464.7 70.8h.55M459.1 69.7h.55M465.8 70.8h.55M479.6 63.5h.55M474.0 69.0h.55M465.6 69.3h.55M464.5 66.5h.55M448.5 62.9h.55M450.1 72.3h.55M465.3 70.7h.55M475.3 68.1h.55M474.8 69.1h.55M432.8 74.6h.55M439.2 74.5h.55M437.0 72.0h.55M466.6 66.2h.55M433.4 78.0h.55M458.1 72.7h.55M465.4 68.0h.55M477.3 62.4h.55M462.0 64.8h.55M453.9 72.6h.55M429.4 74.1h.55M462.6 67.8h.55M454.2 71.5h.55M476.6 67.6h.55M433.7 65.4h.55M467.9 61.3h.55M480.2 66.9h.55M434.5 75.0h.55M453.0 72.2h.55M469.2 69.2h.55M479.4 68.3h.55M441.6 69.1h.55M438.9 71.6h.55M441.1 74.4h.55M451.8 73.4h.55M471.3 58.3h.55M476.9 68.9h.55M427.4 77.2h.55M466.7 67.7h.55M478.8 51.0h.55M463.6 70.5h.55M448.1 75.0h.55M447.7 69.6h.55M443.4 75.3h.55M455.6 64.2h.55M461.5 71.8h.55M449.7 73.9h.55M470.7 67.9h.55M450.4 66.1h.55M442.3 73.9h.55M479.9 67.7h.55M455.7 69.3h.55M444.4 71.9h.55M449.2 67.7h.55M456.6 68.0h.55M457.5 68.2h.55M447.4 74.8h.55M446.0 74.1h.55M426.8 73.7h.55M454.9 71.1h.55M464.7 71.2h.55M432.9 73.0h.55M428.2 70.9h.55M453.9 59.7h.55M473.3 67.7h.55M444.9 73.5h.55M468.3 68.1h.55M465.6 51.5h.55M467.2 67.9h.55M466.8 68.2h.55M457.9 70.8h.55M477.4 51.2h.55M457.2 69.9h.55M431.7 75.1h.55M477.1 68.4h.55M468.6 69.4h.55M465.3 70.0h.55M458.8 66.7h.55M427.8 71.9h.55M454.8 72.7h.55M442.9 72.9h.55M466.8 70.2h.55M429.9 78.0h.55M460.9 70.3h.55M468.0 65.3h.55M446.2 71.9h.55M434.0 74.1h.55M461.6 71.1h.55M462.7 71.4h.55M479.5 66.0h.55M476.7 65.0h.55M437.8 71.7h.55M459.8 70.7h.55M464.1 65.7h.55M463.4 70.8h.55M479.1 59.3h.55M449.9 64.0h.55M480.6 67.5h.55M436.5 76.3h.55M452.9 73.6h.55M439.1 71.5h.55M427.0 75.8h.55M448.4 70.1h.55M440.2 74.1h.55M437.7 77.2h.55M473.5 68.0h.55M442.2 65.0h.55M446.4 72.4h.55M433.7 75.9h.55M474.1 62.6h.55M471.0 59.8h.55M438.7 76.9h.55M433.2 73.8h.55M456.0 71.6h.55M465.2 70.4h.55M459.4 70.5h.55M433.7 71.8h.55M436.1 70.8h.55M467.9 68.4h.55M450.9 73.8h.55M433.7 73.1h.55M446.4 72.2h.55M446.2 74.4h.55M435.0 71.7h.55M449.8 74.3h.55M474.0 69.2h.55M438.6 76.4h.55M456.8 67.1h.55M427.7 68.7h.55M464.6 64.1h.55M449.2 72.7h.55M431.2 77.5h.55M473.9 68.5h.55M475.5 62.2h.55M476.6 69.0h.55M449.3 67.6h.55M443.1 75.1h.55M427.1 76.5h.55M456.3 72.5h.55M440.2 72.6h.55M435.5 71.2h.55M474.0 67.6h.55M433.2 74.7h.55M442.2 76.0h.55M465.0 68.0h.55M440.9 75.5h.55M465.8 60.8h.55M445.3 72.1h.55M438.1 74.6h.55M457.9 71.6h.55M459.3 69.5h.55M428.4 78.9h.55M448.8 74.5h.55M456.0 69.8h.55M460.4 63.5h.55M459.5 66.6h.55M432.3 69.8h.55M477.1 65.8h.55M471.5 66.8h.55M449.9 74.3h.55M452.4 69.2h.55M469.7 60.9h.55M454.5 61.7h.55M446.5 75.6h.55M449.4 71.8h.55M468.5 69.5h.55M427.4 74.3h.55M436.5 69.5h.55M457.1 72.7h.55M454.7 67.7h.55M438.3 64.1h.55M429.1 78.6h.55M458.7 68.2h.55M459.1 62.1h.55M437.1 77.2h.55M455.6 71.9h.55M447.8 73.3h.55M474.5 68.4h.55M464.1 68.2h.55M441.6 66.3h.55M440.1 75.3h.55M436.6 72.4h.55M464.1 69.8h.55M432.5 74.6h.55M444.6 72.6h.55M462.1 72.2h.55M428.5 72.2h.55M473.7 69.5h.55M438.3 74.8h.55M471.8 68.5h.55M478.6 69.0h.55M475.8 69.4h.55M459.1 57.9h.55M465.7 61.0h.55M445.3 62.8h.55M475.7 68.4h.55M468.4 60.2h.55M437.8 75.2h.55M468.4 67.1h.55M476.5 67.2h.55M450.6 74.1h.55M441.1 67.9h.55M440.4 67.3h.55M470.2 66.7h.55M442.6 76.4h.55M432.5 71.0h.55M478.7 55.6h.55M441.4 65.0h.55M450.2 73.0h.55M476.0 62.5h.55M463.3 70.4h.55M431.9 77.7h.55M440.5 75.9h.55M457.4 71.7h.55M437.9 68.4h.55M446.3 75.7h.55M426.5 76.5h.55M427.6 76.2h.55M427.4 77.0h.55M460.0 69.4h.55M437.9 69.6h.55M479.5 62.3h.55M477.3 54.6h.55M446.2 72.4h.55M448.8 68.7h.55M435.2 76.7h.55M450.8 71.5h.55M480.5 67.6h.55M426.2 77.9h.55M474.2 69.4h.55M454.5 70.1h.55M472.1 68.4h.55M459.4 60.0h.55M479.5 65.8h.55M444.6 71.6h.55M466.2 66.4h.55M463.1 69.9h.55M465.4 69.6h.55M438.8 76.6h.55M456.4 72.7h.55M441.5 75.1h.55M446.5 73.4h.55M479.6 66.2h.55M456.2 71.4h.55M456.1 66.5h.55M454.7 70.9h.55M445.3 75.0h.55M437.7 76.9h.55M441.6 76.4h.55M448.9 71.6h.55M432.3 72.5h.55M450.8 70.7h.55M449.7 68.4h.55M463.4 71.3h.55M456.2 72.2h.55M467.1 69.0h.55M438.3 77.0h.55M480.2 68.7h.55M439.8 65.7h.55M428.8 77.1h.55M449.8 70.2h.55M469.0 55.1h.55M443.5 75.8h.55M437.8 77.2h.55M440.8 72.6h.55M475.2 69.3h.55M440.7 67.5h.55M458.3 70.9h.55M430.0 78.8h.55M438.0 73.2h.55M429.2 76.3h.55M471.0 70.2h.55M441.8 74.3h.55M459.5 67.2h.55M463.3 69.5h.55M444.6 71.9h.55M451.3 63.6h.55M455.1 70.1h.55M462.6 69.3h.55M453.1 69.7h.55M459.0 45.4h.55M442.8 73.5h.55M479.6 62.2h.55M456.5 71.9h.55M435.8 75.4h.55M449.5 72.7h.55M440.1 74.1h.55M457.6 72.8h.55M462.2 66.9h.55M436.7 76.2h.55M428.1 76.8h.55M463.1 69.7h.55M458.4 69.1h.55M428.4 79.2h.55M453.9 63.2h.55M464.8 69.0h.55M440.3 76.2h.55M461.5 66.2h.55M447.6 75.0h.55M441.2 71.5h.55M468.4 68.5h.55M474.8 67.7h.55M427.3 78.7h.55M475.0 64.6h.55M430.8 77.4h.55M447.7 72.6h.55M427.4 69.0h.55M455.2 72.5h.55M427.7 76.0h.55M477.3 64.2h.55M473.2 61.3h.55M462.6 71.8h.55M443.1 72.6h.55M448.9 74.2h.55M429.7 70.7h.55M462.7 70.5h.55M451.9 65.9h.55M433.9 73.9h.55M438.8 67.2h.55M470.0 57.9h.55M447.1 72.5h.55M443.7 74.3h.55M478.4 54.7h.55M480.7 59.2h.55M452.9 69.8h.55M475.9 67.3h.55M476.5 62.9h.55M441.6 74.7h.55M464.0 71.0h.55M440.1 75.9h.55M431.9 68.5h.55M480.9 62.1h.55M453.7 68.4h.55M463.8 69.3h.55M454.6 73.3h.55M439.3 75.2h.55M445.6 71.3h.55M439.3 75.8h.55M474.1 63.5h.55M477.3 63.2h.55M436.7 74.6h.55M471.9 63.2h.55M438.6 74.3h.55M458.4 73.0h.55M439.4 71.3h.55M462.7 69.5h.55M457.4 70.1h.55M445.0 75.5h.55M466.8 64.8h.55M449.9 68.8h.55M471.5 65.2h.55M470.4 56.0h.55M428.2 67.5h.55M450.9 68.5h.55M466.5 70.7h.55M458.3 72.7h.55M466.2 69.4h.55M446.7 74.3h.55M470.5 65.9h.55M442.4 70.7h.55M436.2 70.7h.55M459.2 66.7h.55M459.9 54.9h.55M464.2 69.0h.55M458.5 69.5h.55M441.7 75.0h.55M469.9 63.1h.55M479.1 64.5h.55M453.8 72.0h.55M464.8 67.1h.55M477.9 63.7h.55M447.1 74.1h.55M428.5 73.0h.55M449.5 73.0h.55M428.9 76.4h.55M475.4 68.4h.55M466.9 65.0h.55M462.3 68.3h.55M439.7 72.2h.55M458.1 58.8h.55M454.3 72.1h.55M475.8 65.6h.55M444.8 71.5h.55M434.4 77.0h.55M474.6 67.2h.55M470.1 69.2h.55M451.9 73.4h.55M470.1 66.4h.55M447.6 73.4h.55M437.6 76.3h.55M464.0 70.1h.55M431.7 76.5h.55M450.9 56.1h.55M447.2 73.3h.55M479.5 64.0h.55M451.2 72.6h.55M438.4 76.4h.55M452.0 70.2h.55M431.8 75.9h.55M435.5 73.8h.55M444.9 71.3h.55M469.1 68.3h.55M447.0 75.2h.55M437.6 73.2h.55M470.4 69.6h.55M479.7 59.0h.55M446.1 72.4h.55M463.0 70.3h.55M446.1 70.3h.55M452.6 71.9h.55M457.0 72.8h.55M451.9 73.1h.55M435.2 74.6h.55M464.6 68.4h.55M453.4 69.5h.55M449.2 58.3h.55M437.8 77.2h.55M457.3 68.3h.55M447.0 73.4h.55M444.9 74.8h.55M469.5 62.0h.55M441.4 73.1h.55M451.3 74.1h.55M466.3 68.0h.55M480.5 59.2h.55M475.7 68.4h.55M432.0 71.5h.55M432.0 73.7h.55M435.7 72.5h.55M429.0 78.9h.55M473.7 66.9h.55M450.8 59.8h.55M469.1 69.4h.55M464.8 69.5h.55M451.5 73.0h.55M438.5 75.6h.55M441.0 75.8h.55M474.1 67.9h.55M456.8 66.4h.55M463.3 71.2h.55M478.4 58.2h.55M472.2 68.4h.55M471.7 65.8h.55M427.7 77.6h.55M464.4 68.3h.55M478.1 62.9h.55M472.0 53.6h.55M444.9 65.9h.55M426.1 73.3h.55M430.8 75.9h.55M450.3 74.6h.55M461.0 65.9h.55M438.3 76.0h.55M468.4 67.5h.55M427.0 78.2h.55M477.9 68.1h.55M441.9 74.0h.55M474.8 62.8h.55M447.2 70.9h.55M427.5 79.4h.55M446.5 71.4h.55M433.7 77.9h.55M472.9 69.1h.55M429.0 78.9h.55M430.3 77.5h.55M457.8 68.7h.55M441.7 73.5h.55M444.3 72.4h.55M432.0 74.4h.55M426.0 69.3h.55M437.5 73.9h.55M436.4 75.0h.55M440.5 72.4h.55M468.9 62.7h.55M479.6 66.8h.55M456.2 71.7h.55M441.9 73.5h.55M479.5 69.1h.55M467.1 69.3h.55M458.9 71.6h.55M465.5 68.5h.55M443.1 73.8h.55M426.3 79.5h.55M475.9 69.3h.55M447.9 70.7h.55M428.0 68.3h.55M437.4 63.6h.55M449.9 71.3h.55M459.2 72.4h.55M453.8 68.3h.55M469.4 64.8h.55M463.4 71.3h.55M448.5 72.3h.55M428.2 73.4h.55M431.6 75.1h.55M440.7 76.0h.55M478.4 65.4h.55M466.3 67.2h.55M457.0 64.7h.55M429.5 77.2h.55M438.0 73.4h.55M447.7 64.8h.55M438.8 75.7h.55M476.5 64.3h.55M449.6 73.1h.55M466.4 70.5h.55M465.7 70.2h.55M470.3 69.9h.55M476.3 61.3h.55M427.3 79.0h.55M476.3 62.5h.55M442.1 69.7h.55M457.9 71.9h.55M463.8 69.5h.55M433.8 70.1h.55M465.5 70.2h.55M449.5 70.2h.55M446.4 74.4h.55M455.0 61.2h.55M431.2 77.5h.55M452.6 56.8h.55M480.6 69.2h.55M461.3 71.7h.55M437.4 76.7h.55M453.5 53.0h.55M479.1 67.4h.55M475.4 64.8h.55M430.1 69.3h.55M441.0 60.5h.55M433.3 68.5h.55M454.2 71.0h.55M436.1 74.8h.55M467.8 67.4h.55M479.9 66.1h.55M475.7 69.1h.55M466.5 67.3h.55M474.6 68.1h.55M451.5 67.6h.55M440.1 74.9h.55M472.6 65.6h.55M452.9 74.2h.55M468.0 68.5h.55M439.1 75.0h.55M433.6 70.4h.55M469.9 56.1h.55M463.1 71.2h.55M449.2 52.3h.55M426.1 78.3h.55M434.2 77.2h.55M441.1 72.6h.55M429.7 70.6h.55M449.7 74.2h.55M431.6 75.5h.55M445.2 73.0h.55M431.9 76.7h.55M453.8 73.7h.55M453.6 66.4h.55M458.4 72.4h.55M460.7 72.1h.55M433.8 78.0h.55M455.2 72.9h.55M441.3 76.1h.55M475.2 69.1h.55M463.1 65.0h.55M450.7 71.1h.55M444.3 68.9h.55M463.7 71.4h.55M464.7 70.9h.55M452.5 73.6h.55M452.6 69.9h.55M466.3 69.5h.55M429.0 76.8h.55M476.3 66.3h.55M460.1 66.5h.55M461.1 59.9h.55M478.5 63.8h.55M470.4 69.6h.55M440.6 71.5h.55M457.9 64.8h.55M468.6 68.9h.55M435.4 73.2h.55M432.1 75.6h.55M441.2 74.5h.55M462.0 68.0h.55M460.0 72.4h.55M475.2 64.6h.55M475.9 65.7h.55M461.6 63.1h.55M467.0 66.8h.55M428.2 79.4h.55M465.4 63.5h.55M447.3 74.5h.55M450.3 67.2h.55M467.6 70.3h.55M437.1 76.4h.55M467.0 69.8h.55M474.9 67.6h.55M436.6 75.2h.55M433.7 69.2h.55M427.3 77.4h.55M446.8 75.4h.55M438.2 58.2h.55M473.2 67.7h.55M474.0 59.8h.55M473.2 64.5h.55M457.2 70.3h.55M465.4 67.5h.55M479.5 68.5h.55M475.4 63.8h.55M450.3 67.0h.55M441.7 74.4h.55M457.7 58.5h.55M439.3 69.1h.55M462.2 61.5h.55M442.5 71.8h.55M474.9 60.7h.55M464.4 63.9h.55M460.9 69.1h.55M436.6 74.4h.55M479.7 57.0h.55M428.3 77.9h.55M439.2 69.2h.55M436.0 71.5h.55M436.8 75.7h.55M479.5 68.8h.55M458.0 71.8h.55M467.6 70.6h.55M463.2 70.6h.55M478.7 67.7h.55M462.8 71.9h.55M477.7 65.3h.55M476.3 63.9h.55M429.3 73.5h.55M446.9 74.6h.55M475.0 65.2h.55M445.2 75.6h.55M461.7 72.0h.55M439.2 76.8h.55M435.5 71.9h.55M440.7 58.7h.55M441.4 69.8h.55M466.5 66.8h.55M459.3 72.2h.55M471.6 59.4h.55M455.2 72.9h.55M430.7 77.6h.55M479.5 67.7h.55M441.4 73.4h.55M427.9 73.0h.55M468.9 69.0h.55M427.6 70.0h.55M470.5 64.2h.55M437.6 64.3h.55M461.2 72.2h.55M480.0 64.2h.55M436.1 68.3h.55M458.8 68.7h.55M427.5 78.6h.55M469.6 70.3h.55M436.7 77.2h.55M458.1 72.5h.55M469.1 68.0h.55M469.0 60.2h.55M479.4 68.4h.55M446.0 69.1h.55M444.3 64.4h.55M444.5 71.9h.55M440.1 71.4h.55M441.6 74.2h.55M465.8 63.9h.55M433.7 77.3h.55M437.7 71.2h.55M463.1 66.6h.55M470.4 69.1h.55M453.3 74.2h.55M445.4 72.0h.55M440.3 70.1h.55M437.7 74.8h.55M463.6 70.7h.55M462.5 69.9h.55M428.7 78.9h.55M461.9 64.9h.55M463.4 63.5h.55M462.6 65.7h.55M472.1 66.3h.55M455.2 73.0h.55M439.0 76.7h.55M432.1 76.4h.55M442.1 73.0h.55M471.6 68.8h.55M475.2 62.2h.55M436.6 73.7h.55M436.9 77.1h.55M438.1 76.2h.55M426.4 79.8h.55M470.4 61.8h.55M473.5 69.6h.55M427.3 71.5h.55M446.6 73.8h.55M464.5 68.4h.55M444.1 75.4h.55M432.3 73.2h.55M475.8 69.5h.55M438.3 74.0h.55M440.7 73.9h.55M453.6 72.8h.55M432.4 76.1h.55M470.6 69.6h.55M455.6 66.7h.55M457.4 71.5h.55M477.1 63.2h.55M480.8 67.8h.55M452.6 71.9h.55M472.2 66.0h.55M456.3 70.5h.55M475.0 67.9h.55M433.2 77.4h.55M439.4 76.5h.55M479.7 65.9h.55M469.9 67.8h.55M454.7 72.8h.55M475.0 67.5h.55M448.3 69.6h.55M473.8 44.7h.55M452.5 72.1h.55M471.4 67.8h.55M437.1 74.6h.55M442.8 75.1h.55M468.5 68.8h.55M460.4 71.0h.55M432.3 72.1h.55M468.6 65.5h.55M459.5 71.9h.55M453.6 66.6h.55M469.1 66.7h.55M460.7 71.7h.55M429.0 71.4h.55M427.0 78.5h.55M448.0 70.3h.55M464.3 63.2h.55M477.1 68.2h.55M439.7 76.4h.55M444.1 75.6h.55M478.9 65.8h.55M453.0 74.0h.55M476.2 68.5h.55M468.3 69.7h.55M440.9 76.1h.55M455.4 72.3h.55M457.4 68.0h.55M438.4 76.5h.55M454.3 71.8h.55M450.6 72.9h.55M435.1 77.2h.55M466.0 67.0h.55M463.8 67.5h.55M454.2 73.1h.55M476.3 66.5h.55M451.2 73.4h.55M446.7 59.0h.55M448.3 68.4h.55M432.8 74.5h.55M440.9 75.5h.55M442.7 74.2h.55M461.4 70.1h.55M473.4 69.2h.55M473.0 67.6h.55M469.6 68.3h.55M440.1 67.4h.55M461.0 67.0h.55M454.7 68.7h.55M478.6 63.7h.55M479.3 67.5h.55M442.4 67.4h.55M471.9 60.9h.55M450.0 72.7h.55M478.1 68.5h.55M435.1 77.0h.55M442.6 74.1h.55M447.1 72.9h.55M427.9 77.8h.55M453.9 73.8h.55M452.5 64.5h.55M461.9 59.9h.55M473.3 67.1h.55M427.2 79.5h.55M457.7 65.4h.55M444.2 75.5h.55M467.7 67.6h.55M451.7 74.0h.55M456.5 69.9h.55M465.1 61.7h.55M430.2 71.5h.55M443.7 73.9h.55M444.9 69.0h.55M450.3 74.6h.55M452.1 73.8h.55M426.9 79.6h.55M446.9 73.0h.55M426.0 79.4h.55M475.6 66.4h.55M479.9 66.0h.55M478.5 64.5h.55M447.3 75.3h.55M434.1 71.4h.55M462.4 70.6h.55M435.0 73.5h.55M477.1 68.4h.55M480.8 66.1h.55M437.4 76.5h.55M465.1 60.4h.55M437.2 76.2h.55M433.9 77.1h.55M438.4 74.9h.55M439.1 72.4h.55M439.2 75.7h.55M449.0 74.4h.55M428.8 78.9h.55M426.3 75.3h.55M428.7 76.6h.55M474.9 65.8h.55M442.8 74.2h.55M449.5 73.4h.55M429.0 78.6h.55M433.9 77.1h.55M444.2 75.6h.55M459.9 71.7h.55M454.1 69.1h.55M453.3 68.5h.55M468.9 68.0h.55M437.7 77.1h.55M464.1 69.7h.55M442.0 76.1h.55M435.9 68.3h.55M452.0 66.6h.55M472.4 68.8h.55M438.4 68.0h.55M439.0 73.2h.55M477.5 66.9h.55M449.4 61.8h.55M473.5 58.9h.55M464.9 70.4h.55M428.6 79.3h.55M476.8 66.3h.55M474.6 56.5h.55M439.1 62.3h.55M441.1 75.8h.55M441.0 53.9h.55M477.7 67.7h.55M452.5 67.1h.55M470.2 60.7h.55M445.9 74.6h.55M454.2 62.6h.55M459.7 64.1h.55M436.8 74.5h.55M476.4 66.1h.55M469.7 63.4h.55M450.3 70.0h.55M464.1 69.3h.55M454.6 66.9h.55M474.5 51.7h.55M446.2 70.9h.55M456.3 65.5h.55M439.2 74.3h.55M440.1 70.0h.55M465.1 71.4h.55M432.0 77.9h.55M458.5 66.7h.55M444.9 75.6h.55M458.2 69.1h.55M449.7 73.7h.55M445.1 74.8h.55M470.7 68.2h.55M465.2 68.1h.55M438.6 75.7h.55M462.9 63.6h.55M476.5 68.9h.55M440.3 76.4h.55M436.4 75.5h.55M465.5 60.9h.55M458.5 72.3h.55M446.7 74.9h.55M441.4 73.0h.55M453.6 73.3h.55M441.2 67.1h.55M460.7 68.6h.55M443.7 74.7h.55M467.9 70.7h.55M462.0 59.0h.55M460.9 72.2h.55M427.9 73.1h.55M436.2 75.3h.55M461.8 67.5h.55M441.8 71.7h.55M476.3 67.0h.55M447.8 70.5h.55M474.0 65.0h.55M477.0 63.2h.55M478.6 68.2h.55M463.0 70.9h.55M432.5 76.7h.55M478.0 68.0h.55M443.0 65.3h.55M480.0 63.3h.55M445.4 68.6h.55M429.6 79.1h.55M429.5 77.4h.55M439.3 68.7h.55M450.6 66.8h.55M452.8 72.4h.55M444.7 75.8h.55M451.0 62.1h.55M479.4 58.1h.55M431.4 76.2h.55M471.9 69.4h.55M429.6 78.2h.55M430.6 73.2h.55M465.2 52.7h.55M428.8 74.2h.55M469.6 69.5h.55M430.4 62.5h.55M469.5 70.1h.55M436.3 73.0h.55M435.4 75.3h.55M434.2 77.6h.55M452.6 71.1h.55M472.6 70.0h.55M445.5 75.5h.55M456.4 72.7h.55M444.2 61.4h.55M461.7 67.6h.55M459.3 71.9h.55M463.7 57.0h.55M430.9 71.1h.55M444.9 75.0h.55M462.0 64.2h.55M435.2 76.8h.55M453.5 73.2h.55M453.9 54.7h.55M427.4 77.3h.55M437.1 76.6h.55M458.4 60.6h.55M451.8 71.1h.55M464.5 63.4h.55M479.2 67.7h.55M435.8 67.2h.55M459.3 63.8h.55M434.1 71.5h.55M432.5 77.8h.55M432.7 76.5h.55M448.8 70.7h.55M477.6 67.2h.55M457.8 70.9h.55M447.1 74.2h.55M426.3 78.7h.55M465.8 64.5h.55M463.7 69.3h.55M448.6 74.4h.55M439.3 51.3h.55M458.3 70.9h.55M455.4 70.9h.55M442.2 74.2h.55M449.7 65.4h.55M475.0 68.3h.55M451.1 73.7h.55M478.4 68.8h.55M452.5 74.3h.55M451.3 72.1h.55M426.8 79.1h.55M453.5 71.5h.55M442.7 76.1h.55M443.8 74.3h.55M431.7 74.8h.55M438.1 74.0h.55M465.0 71.4h.55M453.4 69.9h.55M475.2 64.8h.55M472.1 65.5h.55M438.3 70.1h.55M467.6 68.0h.55M476.9 69.4h.55M475.9 67.8h.55M455.8 66.9h.55M435.2 74.9h.55M426.8 79.7h.55M478.6 68.4h.55M449.5 74.5h.55M477.3 66.6h.55M473.0 68.6h.55M451.5 73.4h.55M458.4 67.8h.55M457.5 69.5h.55M443.1 63.5h.55M427.1 79.0h.55M462.7 56.8h.55M472.6 68.8h.55M477.9 66.9h.55M457.4 68.9h.55M460.0 63.8h.55M475.4 68.1h.55M475.1 68.2h.55M463.6 71.1h.55M461.1 70.9h.55M480.7 64.7h.55M447.3 61.7h.55M432.4 72.7h.55M461.7 72.2h.55M451.3 74.2h.55M481.0 68.8h.55M461.0 69.1h.55M432.9 66.9h.55M457.6 69.2h.55M440.5 76.0h.55M443.9 76.0h.55M437.1 74.5h.55M447.5 69.4h.55M433.8 77.1h.55M454.8 69.0h.55M443.3 75.3h.55M432.9 76.4h.55M446.9 68.9h.55M439.2 75.2h.55M467.0 70.0h.55M428.1 64.4h.55M476.3 68.0h.55M441.6 74.0h.55M437.6 70.8h.55M474.7 64.6h.55M448.0 67.7h.55M477.5 68.7h.55M462.8 71.2h.55M480.2 62.6h.55M448.5 69.6h.55M442.1 76.2h.55M454.2 73.7h.55M451.1 66.7h.55M457.7 71.9h.55M437.7 73.8h.55M454.0 64.2h.55M435.4 75.1h.55M450.6 72.8h.55M436.2 75.5h.55M455.9 72.7h.55M443.6 73.0h.55M477.7 66.7h.55M445.0 75.8h.55M454.5 72.2h.55M432.4 75.7h.55M459.9 70.9h.55M466.4 66.9h.55M429.5 79.0h.55M454.9 69.9h.55M456.6 72.3h.55M444.9 70.6h.55M447.8 72.2h.55M438.6 72.9h.55M452.4 74.4h.55M467.5 64.0h.55M480.3 57.3h.55M464.6 68.9h.55M440.6 71.6h.55M449.0 73.5h.55M432.4 74.5h.55M465.1 65.3h.55M434.4 77.0h.55M461.0 71.8h.55M474.7 58.8h.55M460.7 71.2h.55M456.9 67.3h.55M445.0 71.5h.55M459.1 62.8h.55M468.7 65.9h.55M456.0 64.3h.55M459.1 67.9h.55M443.1 75.8h.55M456.7 72.4h.55M479.3 68.3h.55M475.3 68.0h.55M436.5 73.9h.55M443.7 54.9h.55M460.0 72.2h.55M443.1 75.8h.55M453.1 71.1h.55M443.4 71.5h.55M450.5 67.7h.55M463.4 70.6h.55M471.6 70.0h.55M438.9 76.9h.55M478.3 66.2h.55M472.3 50.7h.55M431.0 69.1h.55M427.1 74.7h.55M469.6 68.3h.55M475.0 63.7h.55M453.4 72.8h.55M434.8 77.5h.55M455.8 70.5h.55M436.3 74.4h.55M430.4 77.4h.55M462.8 71.3h.55M454.8 73.3h.55M474.5 68.8h.55M477.2 59.0h.55M479.1 68.0h.55M463.5 71.5h.55M479.5 64.4h.55M428.0 78.9h.55M431.8 76.8h.55M477.5 63.0h.55M443.9 69.1h.55M426.6 76.6h.55M447.4 75.1h.55M476.6 65.1h.55M480.8 65.0h.55M460.2 72.0h.55M452.2 64.9h.55M456.7 69.1h.55M451.3 72.8h.55M426.6 78.8h.55M436.2 77.1h.55M429.0 73.4h.55M480.7 64.3h.55M471.7 69.1h.55M472.7 68.0h.55M473.0 68.8h.55M442.4 73.2h.55M438.3 75.9h.55M466.0 64.7h.55M480.1 64.8h.55M445.3 73.2h.55M458.2 69.3h.55M476.5 66.1h.55M478.9 66.7h.55M450.5 74.7h.55M443.8 73.4h.55M426.6 77.4h.55M432.4 77.1h.55M474.6 59.4h.55M432.3 74.7h.55M452.8 74.1h.55M442.4 73.2h.55M449.4 71.5h.55M429.6 75.1h.55M459.6 71.8h.55M457.2 61.9h.55M475.0 65.7h.55M454.6 68.1h.55M451.0 69.6h.55M446.5 72.2h.55M466.4 67.4h.55M459.2 70.8h.55M445.3 71.4h.55M450.5 72.4h.55M446.8 74.1h.55M460.4 63.7h.55M436.7 73.0h.55M455.2 69.5h.55M462.5 69.9h.55M426.6 78.0h.55M454.7 69.7h.55M477.0 65.1h.55M461.9 70.4h.55M469.7 69.8h.55M474.7 67.0h.55M450.9 69.8h.55M455.9 50.7h.55M432.6 78.1h.55M458.7 71.9h.55M438.5 50.5h.55M455.1 72.3h.55M446.1 74.6h.55M439.9 76.3h.55M479.7 63.7h.55M445.8 75.3h.55M479.7 60.0h.55M431.2 70.2h.55M456.3 55.9h.55M450.2 72.5h.55M426.5 76.3h.55M439.1 68.1h.55M438.3 68.1h.55M444.3 69.1h.55M465.3 60.0h.55M457.6 71.3h.55M440.5 75.6h.55M431.7 77.1h.55M443.4 68.9h.55M426.4 77.0h.55M453.9 73.3h.55M464.1 70.7h.55M466.9 70.2h.55M474.3 68.3h.55M431.2 78.0h.55M437.2 76.8h.55M443.3 61.4h.55M446.6 73.5h.55M467.4 70.6h.55M430.8 70.3h.55M444.0 75.3h.55M436.1 71.9h.55M479.8 67.2h.55M465.1 68.8h.55M437.2 75.8h.55M444.7 74.8h.55M469.6 70.0h.55M447.3 69.9h.55M427.8 65.7h.55M459.8 68.2h.55M436.6 76.5h.55M472.4 54.5h.55M426.8 72.7h.55M437.0 77.1h.55M458.8 72.5h.55M472.2 62.2h.55M441.7 75.9h.55M454.2 68.2h.55M428.1 74.4h.55M432.8 76.3h.55M435.1 77.4h.55M455.4 72.2h.55M476.1 59.8h.55M465.9 68.2h.55M461.6 70.6h.55M451.8 71.2h.55M449.2 72.7h.55M472.9 51.0h.55M466.5 62.9h.55M442.8 76.0h.55M438.2 74.3h.55M468.1 65.2h.55M476.3 63.3h.55M442.4 76.1h.55M452.5 72.7h.55M473.8 60.0h.55M455.6 67.4h.55M466.0 68.1h.55M450.3 62.0h.55M469.9 66.8h.55M480.3 68.6h.55M468.3 67.3h.55M443.7 75.6h.55M458.0 64.6h.55M435.7 68.0h.55M480.3 68.4h.55M456.4 70.7h.55M444.5 75.5h.55M440.7 64.8h.55M472.2 57.4h.55M453.4 71.3h.55M429.4 76.8h.55M458.0 52.0h.55M429.5 74.7h.55M428.6 64.4h.55M437.1 72.4h.55M460.9 71.5h.55M451.4 72.3h.55M435.8 75.5h.55M429.5 74.0h.55M479.4 66.1h.55M448.0 72.3h.55M433.9 72.4h.55M464.0 71.2h.55M446.8 75.0h.55M464.6 71.5h.55M473.9 69.6h.55M472.0 69.2h.55M455.1 68.6h.55M477.6 60.8h.55M434.4 72.6h.55M449.7 74.3h.55M451.4 63.0h.55M427.1 74.7h.55M455.8 64.6h.55M452.1 73.3h.55M472.8 69.5h.55M463.9 70.3h.55M429.0 78.5h.55M472.8 69.3h.55M476.5 69.0h.55M477.1 69.3h.55M462.3 68.9h.55M458.8 62.0h.55M438.5 56.1h.55M457.3 66.3h.55M439.8 52.2h.55M465.6 68.6h.55M438.0 68.4h.55M456.8 54.3h.55M474.6 64.0h.55M465.7 70.5h.55M471.7 64.8h.55M431.4 78.4h.55M431.6 77.6h.55M468.0 64.6h.55M464.2 69.7h.55M477.6 68.8h.55M438.5 74.7h.55M440.3 71.2h.55M471.9 64.4h.55M443.8 72.5h.55M443.3 72.9h.55M455.2 73.1h.55M472.5 63.0h.55M468.8 70.2h.55M438.9 71.2h.55M470.4 66.2h.55M477.3 67.2h.55M438.5 74.4h.55M442.6 74.3h.55M469.0 68.9h.55M465.2 67.6h.55M427.2 76.7h.55M473.7 65.5h.55M472.8 65.7h.55M480.7 69.1h.55M449.4 74.2h.55M467.6 69.4h.55M462.6 67.6h.55M426.9 75.8h.55M444.1 74.9h.55M461.5 68.1h.55M437.8 72.0h.55M430.1 78.8h.55M474.8 58.7h.55M478.1 47.4h.55M466.8 67.5h.55M455.1 70.6h.55M477.9 55.2h.55M450.0 74.0h.55M455.6 71.4h.55M470.5 59.5h.55M460.1 72.3h.55M455.4 73.1h.55M455.5 66.5h.55M463.0 69.3h.55M434.7 66.6h.55M473.9 67.1h.55M428.9 74.6h.55M448.1 73.2h.55M446.8 74.2h.55M433.7 73.7h.55M454.5 71.6h.55M467.3 68.0h.55M434.9 76.5h.55M456.7 68.8h.55M460.8 66.7h.55M445.7 69.7h.55M458.1 71.9h.55M432.9 74.2h.55M472.6 57.4h.55M470.9 62.9h.55M458.4 71.8h.55M442.3 68.1h.55M441.0 73.9h.55M456.2 73.5h.55M432.1 77.6h.55M469.8 63.9h.55M430.8 78.1h.55M480.3 68.5h.55M470.0 66.6h.55M474.0 64.3h.55M431.4 72.5h.55M465.3 71.2h.55M477.8 68.0h.55M451.5 71.5h.55M456.5 69.9h.55M429.6 71.1h.55M454.8 73.4h.55M453.6 73.2h.55M449.7 69.7h.55M467.5 70.1h.55M441.8 62.0h.55M460.6 71.6h.55M459.5 71.6h.55M430.1 74.5h.55M432.2 77.8h.55M463.3 57.6h.55M429.8 73.3h.55M433.9 77.8h.55M426.9 79.7h.55M466.2 61.2h.55M426.7 79.2h.55M428.6 77.2h.55M443.7 75.3h.55M470.8 69.7h.55M460.8 71.8h.55M462.0 71.6h.55M436.8 58.5h.55M440.7 74.2h.55M462.3 43.2h.55M456.2 73.0h.55M462.8 67.2h.55M458.1 71.0h.55M471.1 69.9h.55M456.1 70.3h.55M476.5 63.3h.55M439.2 75.0h.55M458.8 70.9h.55M429.5 58.5h.55M451.0 74.1h.55M434.4 77.9h.55M476.1 69.0h.55M457.0 61.2h.55M468.2 66.9h.55M441.7 71.8h.55M470.4 69.3h.55M438.6 74.9h.55M458.9 63.6h.55M458.5 71.7h.55M465.9 70.6h.55M431.9 78.5h.55M457.7 69.6h.55M451.6 71.2h.55M436.3 76.5h.55M458.2 70.9h.55M453.5 63.8h.55M451.7 68.9h.55M429.3 76.4h.55M429.0 78.4h.55M436.4 75.5h.55M434.7 66.4h.55M442.5 74.8h.55M429.9 77.1h.55M469.1 67.2h.55M475.2 65.7h.55M461.4 70.0h.55M471.9 67.6h.55M433.7 77.0h.55M469.8 70.1h.55M435.9 73.5h.55M463.5 69.2h.55M461.9 69.9h.55M458.4 72.8h.55M448.7 59.9h.55M457.6 71.4h.55M460.3 56.9h.55M451.6 72.3h.55M471.2 62.2h.55M438.4 72.5h.55M442.4 74.6h.55M470.2 68.4h.55M476.3 66.8h.55M473.7 69.3h.55M448.2 75.2h.55M473.2 60.7h.55M452.7 71.7h.55M479.4 67.3h.55M442.8 75.7h.55M476.5 62.8h.55M455.0 68.3h.55M472.0 65.4h.55M432.0 74.1h.55M473.9 67.2h.55M449.5 70.7h.55M436.5 76.4h.55M463.4 50.8h.55M432.3 73.9h.55M453.7 74.0h.55M434.9 76.3h.55M464.1 71.1h.55M446.5 71.6h.55M467.5 47.9h.55M472.1 69.2h.55M456.8 69.5h.55M456.4 69.7h.55M447.1 74.4h.55M462.7 63.3h.55M463.5 67.3h.55M478.7 68.2h.55M457.6 65.8h.55M461.9 72.2h.55M454.1 66.9h.55M437.1 75.3h.55M480.0 66.7h.55M455.9 69.8h.55M472.7 67.4h.55M475.4 64.6h.55M448.1 71.3h.55M442.5 76.1h.55M452.7 74.2h.55M442.4 68.6h.55M479.4 68.4h.55M435.1 75.9h.55M450.8 74.2h.55M470.4 69.5h.55M455.7 72.3h.55M461.6 71.8h.55M453.2 66.3h.55M426.9 78.9h.55M430.0 71.4h.55M462.9 70.8h.55M475.5 68.9h.55M452.9 68.8h.55M459.1 72.6h.55M428.6 78.5h.55M478.0 59.8h.55M442.5 76.2h.55M460.9 71.5h.55M475.1 59.2h.55M469.0 64.2h.55M468.8 63.1h.55M446.9 70.2h.55M426.7 74.9h.55M450.5 57.4h.55M469.2 67.9h.55M464.9 67.8h.55M459.9 72.6h.55M438.4 75.9h.55M464.7 61.1h.55M460.6 66.5h.55M461.0 71.7h.55M440.0 73.2h.55M467.5 68.6h.55M464.2 69.9h.55M443.3 75.4h.55M448.8 71.6h.55M432.0 67.3h.55M426.5 74.4h.55M445.1 64.2h.55M441.8 76.4h.55M464.0 69.7h.55M471.0 65.6h.55M450.3 70.4h.55M463.5 70.2h.55M436.7 73.0h.55M457.3 73.1h.55M434.9 75.4h.55M430.9 75.7h.55M447.7 73.9h.55M467.3 65.3h.55M429.7 75.3h.55M480.6 65.4h.55M480.2 68.2h.55M438.2 75.5h.55M438.9 76.3h.55M440.0 73.9h.55M470.6 64.0h.55M428.2 73.4h.55M461.1 71.1h.55M426.4 71.7h.55M433.4 76.9h.55M442.7 69.6h.55M478.0 59.1h.55M472.7 62.2h.55M452.0 74.3h.55M438.9 76.4h.55M432.4 77.8h.55M443.5 76.0h.55M442.2 68.3h.55M439.3 74.0h.55M472.8 69.9h.55M466.0 67.9h.55M427.7 70.3h.55M469.7 69.9h.55M478.9 65.8h.55M460.9 71.4h.55M427.7 74.5h.55M465.2 70.6h.55M427.9 76.0h.55M442.9 74.5h.55M473.7 66.4h.55M432.5 73.4h.55M465.6 67.8h.55M478.4 66.7h.55M461.7 72.0h.55M442.6 74.9h.55M449.6 72.0h.55M432.3 73.5h.55M429.0 78.1h.55M458.2 73.0h.55M444.1 69.1h.55M466.2 69.2h.55M435.2 71.9h.55M473.8 69.5h.55M449.0 71.8h.55M464.1 70.7h.55M471.2 66.2h.55M469.9 57.9h.55M463.6 67.1h.55M442.4 75.1h.55M446.6 68.6h.55M458.8 71.6h.55M475.6 66.7h.55M479.8 64.8h.55M466.4 69.3h.55M480.5 66.5h.55M463.1 69.8h.55M454.8 73.0h.55M446.3 73.4h.55M466.9 70.3h.55M436.9 73.1h.55M452.0 65.5h.55M427.1 77.3h.55M471.7 64.2h.55M445.4 72.8h.55M447.8 75.4h.55M430.5 77.8h.55M474.0 69.0h.55M441.7 73.1h.55M464.3 67.2h.55M443.0 74.5h.55M426.7 73.2h.55M446.7 74.1h.55M437.4 74.5h.55M434.2 76.3h.55M431.8 77.7h.55M455.0 72.1h.55M431.9 69.9h.55M429.3 77.0h.55M442.1 76.2h.55M442.3 74.0h.55M463.9 70.5h.55M446.9 65.9h.55M460.9 70.0h.55M437.7 70.8h.55M477.2 68.4h.55M472.8 68.0h.55M452.3 74.3h.55M439.3 75.8h.55M437.1 70.0h.55M478.3 67.8h.55M470.1 68.8h.55M458.0 72.2h.55M476.0 66.6h.55M458.5 66.4h.55M454.8 71.0h.55M465.1 68.7h.55M457.7 71.7h.55M434.4 76.9h.55M479.4 65.6h.55M427.0 78.9h.55M458.1 70.1h.55M480.4 59.5h.55M429.9 72.2h.55M480.1 63.5h.55M478.4 67.4h.55M460.6 67.7h.55M469.8 65.0h.55M471.1 68.4h.55M469.7 66.5h.55M478.9 67.7h.55M460.1 64.3h.55M467.8 65.8h.55M434.0 77.3h.55M443.5 71.8h.55M427.8 75.0h.55M432.6 77.5h.55M441.3 73.3h.55M465.5 59.0h.55M438.6 76.7h.55M473.2 66.2h.55M476.5 64.3h.55M433.2 76.3h.55M438.1 74.7h.55M441.7 68.2h.55M475.3 68.9h.55M481.0 55.5h.55M447.2 66.8h.55M478.0 63.9h.55M446.0 71.6h.55M468.2 69.0h.55M452.1 74.1h.55M434.6 71.2h.55M443.0 71.2h.55M449.6 69.8h.55M441.7 76.1h.55M462.7 70.8h.55M437.2 74.7h.55M453.3 64.9h.55M464.3 69.2h.55M450.2 71.1h.55M433.1 76.8h.55M459.2 61.0h.55M459.1 71.9h.55M479.2 62.7h.55M438.3 75.2h.55M427.8 73.5h.55M438.0 69.9h.55M465.5 65.1h.55M457.0 72.2h.55M428.0 75.7h.55M426.7 76.8h.55M468.6 70.0h.55M450.0 71.7h.55M434.3 77.0h.55M459.6 71.9h.55M434.4 76.9h.55M477.5 60.0h.55M432.1 74.9h.55M448.6 75.1h.55M439.8 72.5h.55M427.1 66.4h.55M441.7 74.7h.55M478.2 68.8h.55M433.2 75.5h.55M443.2 74.6h.55M458.0 60.5h.55M448.8 75.0h.55M446.5 67.6h.55M449.8 74.7h.55M439.7 75.8h.55M445.3 74.2h.55M462.9 66.6h.55M428.5 78.7h.55M471.2 61.4h.55M469.4 69.6h.55M464.1 71.3h.55M463.1 70.9h.55M472.2 62.3h.55M451.7 69.1h.55M478.0 60.1h.55M461.6 68.2h.55M445.6 71.0h.55M433.7 75.5h.55M430.7 78.4h.55M462.7 69.7h.55M437.4 64.8h.55M442.0 73.2h.55M453.0 73.4h.55M480.6 63.3h.55M475.1 68.3h.55M476.1 59.6h.55M477.8 68.7h.55M434.6 77.5h.55M430.9 73.7h.55M428.8 76.7h.55M445.5 70.3h.55M428.6 74.0h.55M478.7 67.9h.55M448.2 69.6h.55M442.8 68.5h.55M480.8 68.2h.55M451.9 73.9h.55M456.7 71.3h.55M479.5 63.9h.55M480.6 62.3h.55M471.4 68.1h.55M462.6 71.5h.55M445.1 65.2h.55M479.9 68.5h.55M453.2 72.0h.55M460.1 68.8h.55M440.4 67.9h.55M450.8 68.5h.55M465.7 54.8h.55M454.3 70.2h.55M468.5 69.5h.55M428.5 72.4h.55M464.2 65.8h.55M470.0 69.3h.55M474.3 65.6h.55M477.9 66.1h.55M473.6 69.7h.55M435.1 74.4h.55M462.7 70.0h.55M430.0 69.9h.55M429.9 69.8h.55M438.8 71.9h.55M458.6 71.8h.55M444.1 74.9h.55M455.3 72.4h.55M455.9 72.2h.55M432.6 73.4h.55M440.4 64.3h.55M448.3 74.0h.55M465.5 61.6h.55M446.4 70.1h.55M444.2 54.5h.55M442.5 76.2h.55M426.2 76.7h.55M460.4 71.1h.55M448.8 73.0h.55M446.0 74.8h.55M455.9 69.0h.55M427.5 70.7h.55M440.3 74.1h.55M438.0 72.5h.55M448.3 71.6h.55M448.4 72.3h.55M430.8 62.1h.55M449.4 73.4h.55M472.6 68.6h.55M469.5 68.1h.55M432.4 74.8h.55M441.4 75.6h.55M480.4 57.7h.55M451.9 67.6h.55M462.8 70.5h.55M433.1 74.6h.55M436.5 71.6h.55M458.7 71.9h.55M468.7 56.2h.55M452.4 59.7h.55M450.7 74.7h.55M451.4 72.8h.55M476.5 66.5h.55M478.8 68.6h.55M447.1 75.5h.55M428.8 74.1h.55M427.8 78.5h.55M449.9 64.3h.55M439.0 77.0h.55M464.6 66.6h.55M433.6 67.1h.55M473.6 58.4h.55M471.3 66.8h.55M464.6 71.0h.55M461.4 70.5h.55M444.5 74.4h.55M430.5 71.9h.55M468.0 70.7h.55M454.2 73.9h.55M456.0 72.8h.55M478.8 67.8h.55M454.8 72.6h.55M475.7 69.7h.55M442.7 75.3h.55M467.0 69.0h.55M473.4 68.3h.55M432.9 75.7h.55M430.7 78.1h.55M454.8 70.3h.55M437.8 76.4h.55M454.7 71.4h.55M452.5 69.7h.55M433.8 78.0h.55M429.6 72.5h.55M464.6 70.8h.55M444.2 74.5h.55M476.8 67.4h.55M465.3 71.0h.55M428.3 78.4h.55M461.3 69.9h.55M474.0 62.6h.55M462.5 47.4h.55M478.8 60.4h.55M430.9 76.7h.55M434.0 74.0h.55M453.8 73.7h.55M430.4 76.3h.55M460.4 70.4h.55M451.9 70.3h.55M464.4 66.4h.55M448.8 74.4h.55M473.8 69.7h.55M437.3 76.5h.55M458.7 68.9h.55M431.5 75.6h.55M457.6 68.3h.55M430.1 73.6h.55M440.9 74.6h.55M432.8 70.6h.55M460.0 65.6h.55M454.3 73.5h.55M448.1 75.0h.55M431.4 71.8h.55M426.0 78.0h.55M428.3 73.4h.55M480.5 69.1h.55M446.0 60.1h.55M439.8 75.3h.55M480.3 58.6h.55M447.2 70.8h.55M469.7 68.5h.55M426.1 78.0h.55M464.1 57.7h.55M450.3 72.7h.55M446.9 71.6h.55M427.2 69.5h.55M478.5 69.3h.55M426.3 78.4h.55M434.0 71.9h.55M473.8 66.6h.55M477.9 68.4h.55M436.8 75.4h.55M450.8 73.9h.55M476.7 63.8h.55M441.9 75.4h.55M441.6 74.4h.55M462.0 65.9h.55M478.2 69.1h.55M436.8 75.4h.55M478.4 66.9h.55M465.5 63.9h.55M451.3 72.7h.55M468.7 66.3h.55M480.6 67.9h.55M478.4 66.6h.55M473.8 65.6h.55M457.0 65.2h.55M430.4 77.5h.55M452.8 67.1h.55M436.2 71.2h.55M430.8 77.0h.55M451.5 69.4h.55M454.8 65.9h.55M464.1 69.6h.55M454.7 71.8h.55M474.0 68.4h.55M435.9 76.4h.55M439.8 69.9h.55M463.8 70.6h.55M449.1 65.7h.55M478.8 68.3h.55M477.9 69.2h.55M480.9 67.7h.55M478.5 69.3h.55M463.9 60.9h.55M471.1 66.6h.55M434.6 76.7h.55M477.9 61.0h.55M438.2 75.4h.55M459.7 71.2h.55M437.7 68.7h.55M432.1 74.3h.55M448.3 72.6h.55M473.9 64.1h.55M468.6 70.5h.55M470.6 63.6h.55M426.0 78.9h.55M466.2 62.6h.55M455.7 64.4h.55M430.8 77.6h.55M471.1 63.5h.55M438.3 73.6h.55M450.1 69.3h.55M447.9 73.8h.55M467.9 65.8h.55M445.9 70.5h.55M440.4 73.8h.55M436.3 75.8h.55M449.0 74.8h.55M443.1 74.4h.55M444.0 73.1h.55M475.5 61.8h.55M442.3 75.8h.55M430.8 69.7h.55M467.8 65.2h.55M475.9 67.5h.55M435.4 77.3h.55M448.0 69.2h.55M430.7 76.4h.55M430.5 77.9h.55M456.4 69.1h.55M477.8 67.9h.55M438.8 76.8h.55M436.3 77.4h.55M426.1 79.5h.55M455.5 71.1h.55M475.9 66.9h.55M430.8 78.2h.55M464.5 55.1h.55M467.2 69.8h.55M445.0 73.5h.55M449.8 73.6h.55M434.5 77.8h.55M474.4 54.3h.55M479.8 67.3h.55M463.8 70.8h.55M432.2 78.5h.55M444.3 69.3h.55M455.0 72.7h.55M452.5 71.1h.55M436.7 75.0h.55M477.1 67.1h.55M480.5 63.9h.55M433.1 67.7h.55M464.1 69.2h.55M436.4 73.0h.55M436.5 74.9h.55M434.3 75.7h.55M479.2 65.5h.55M454.2 69.9h.55M462.0 68.3h.55M441.7 75.5h.55M459.4 61.7h.55M474.0 67.1h.55M442.2 72.7h.55M428.6 76.5h.55M469.1 56.1h.55M431.0 77.8h.55M452.4 70.5h.55M479.0 68.9h.55M433.1 75.5h.55M469.6 70.2h.55M446.9 70.3h.55M449.1 74.3h.55M429.9 73.0h.55M454.1 70.8h.55M463.6 65.8h.55M448.1 73.4h.55M476.5 69.3h.55M468.7 68.0h.55M455.3 72.5h.55M477.9 68.0h.55M443.6 75.9h.55M475.0 62.3h.55M428.8 78.7h.55M441.9 76.4h.55M453.4 66.3h.55M465.6 68.4h.55M479.9 67.8h.55M443.5 74.9h.55M459.2 70.2h.55M432.9 75.5h.55M479.2 60.6h.55M460.3 64.2h.55M452.7 71.5h.55M464.3 70.7h.55M458.6 70.0h.55M442.4 73.5h.55M435.8 73.3h.55M432.3 76.0h.55M429.1 76.0h.55M431.3 71.4h.55M427.0 72.9h.55M442.4 63.4h.55M444.1 75.4h.55M462.8 70.8h.55M470.7 67.5h.55M440.7 73.0h.55M438.3 75.9h.55M430.5 77.8h.55M438.0 76.5h.55M448.9 72.7h.55M458.7 69.6h.55M463.5 67.8h.55M451.9 66.4h.55M433.8 76.7h.55M426.7 69.8h.55M474.4 67.6h.55M472.3 66.6h.55M477.2 59.8h.55M444.2 74.7h.55M448.9 62.1h.55M451.7 72.7h.55M427.3 77.7h.55M476.9 67.3h.55M460.8 89.6h.55M467.2 87.5h.55M447.4 88.4h.55M467.3 87.9h.55M458.4 86.7h.55M454.2 88.8h.55M431.1 90.2h.55M445.5 88.6h.55M429.8 90.0h.55M445.6 88.2h.55M460.7 87.1h.55M437.5 89.4h.55M439.2 90.1h.55M457.2 87.6h.55M457.2 88.0h.55M461.5 88.1h.55M459.4 86.6h.55M440.8 88.8h.55M462.4 86.4h.55M466.6 86.3h.55M431.9 91.2h.55M433.3 90.0h.55M444.7 89.6h.55M448.3 89.4h.55M460.7 91.2h.55M452.9 88.1h.55M447.3 88.6h.55M462.5 87.3h.55M456.3 89.3h.55M456.3 90.0h.55M445.4 89.8h.55M464.8 86.8h.55M461.9 86.7h.55M432.2 92.2h.55M449.8 92.3h.55M451.9 87.9h.55M430.5 92.9h.55M436.4 89.3h.55M448.8 89.6h.55M450.8 87.6h.55M460.2 88.0h.55M439.6 92.3h.55M447.3 90.0h.55M429.1 90.4h.55M459.0 88.2h.55M456.6 88.5h.55M426.2 92.9h.55M426.9 90.5h.55M438.6 89.8h.55M429.3 90.6h.55M431.3 90.2h.55M440.5 88.8h.55M461.1 86.4h.55M434.0 92.5h.55M443.2 92.5h.55M438.8 89.9h.55M448.7 88.5h.55M469.5 86.1h.55M460.9 87.4h.55M440.7 91.3h.55M466.6 85.7h.55M451.9 89.4h.55M447.8 88.6h.55M457.4 87.0h.55M446.4 88.4h.55M463.9 88.2h.55M442.8 90.6h.55M449.4 89.2h.55M435.8 91.2h.55M454.2 95.2h.55M436.8 89.8h.55M460.1 86.9h.55M459.4 89.2h.55M432.5 91.3h.55M438.1 89.4h.55M440.8 90.7h.55M453.7 87.9h.55M455.7 89.3h.55M433.8 92.2h.55M448.4 89.3h.55M463.7 86.4h.55M446.1 89.8h.55M425.7 90.9h.55M449.4 88.6h.55M447.7 90.5h.55M430.1 91.5h.55M437.7 89.1h.55M445.8 88.3h.55M445.6 88.4h.55M445.0 88.4h.55M469.8 85.6h.55M445.0 89.5h.55M455.3 87.2h.55M463.2 86.7h.55M428.7 90.7h.55M453.0 87.9h.55M457.8 87.3h.55M461.7 90.0h.55M461.8 86.4h.55M443.9 89.4h.55M442.2 88.8h.55M451.5 87.7h.55M432.5 90.2h.55M469.9 86.0h.55M468.5 87.0h.55M454.1 90.6h.55M451.2 89.4h.55M446.2 90.3h.55M464.4 86.0h.55M467.0 85.7h.55M453.8 87.3h.55M459.0 87.4h.55M431.1 92.2h.55M436.1 92.4h.55M442.3 89.6h.55M445.0 90.2h.55M441.0 89.6h.55M435.4 89.8h.55M430.0 90.2h.55M437.5 90.6h.55M431.5 89.8h.55M468.8 86.9h.55M428.9 92.7h.55M459.2 87.9h.55M468.3 86.5h.55M431.3 89.6h.55M429.1 90.7h.55M449.9 90.2h.55M428.2 90.0h.55M429.3 90.5h.55M467.1 87.7h.55M427.0 91.3h.55M433.1 89.8h.55M439.5 89.2h.55M438.3 89.2h.55M440.5 89.9h.55M450.3 89.5h.55M437.6 89.0h.55M450.7 88.1h.55M434.4 90.0h.55M467.6 86.8h.55M457.3 86.9h.55M449.5 89.4h.55M463.9 88.0h.55M427.3 96.2h.55M425.7 92.3h.55M446.2 91.8h.55M467.6 87.5h.55M428.7 91.3h.55M430.3 90.5h.55M430.8 90.2h.55M427.4 91.1h.55M429.1 90.2h.55M460.0 87.0h.55M451.1 90.4h.55M453.6 89.6h.55M467.0 86.0h.55M433.4 96.6h.55M466.3 86.3h.55M466.7 85.8h.55M435.2 92.0h.55M429.7 92.6h.55M435.0 91.3h.55M430.7 90.7h.55M450.9 88.7h.55M463.8 86.1h.55M456.9 89.5h.55M448.5 88.2h.55M460.9 87.2h.55M436.8 91.1h.55M459.4 89.0h.55M447.2 88.0h.55M426.1 91.3h.55M426.6 91.5h.55M431.0 91.7h.55M425.9 91.8h.55M435.0 99.2h.55M446.4 89.1h.55M463.2 86.6h.55M468.7 85.9h.55M426.7 90.6h.55M441.5 89.8h.55M428.0 93.3h.55M460.0 88.4h.55M469.5 85.4h.55M455.9 89.7h.55M433.0 90.2h.55M434.0 93.0h.55M446.2 90.6h.55M436.3 90.4h.55M458.6 87.2h.55M437.1 89.1h.55M453.3 88.0h.55M434.0 89.9h.55M439.4 89.0h.55M451.7 87.7h.55M434.7 89.9h.55M469.5 87.1h.55M434.6 91.9h.55M467.2 86.2h.55M460.9 87.8h.55M449.9 91.0h.55M455.2 88.5h.55M467.2 86.5h.55M429.7 89.8h.55M457.5 87.7h.55M464.4 91.0h.55M436.5 89.4h.55M450.8 87.6h.55M429.5 89.9h.55M438.4 89.7h.55M433.8 91.0h.55M459.1 89.1h.55M449.6 89.7h.55M460.8 88.2h.55M439.3 90.0h.55M462.1 86.6h.55M441.1 88.6h.55M452.1 87.6h.55M445.0 88.5h.55M430.2 92.8h.55M439.8 93.2h.55M458.2 87.9h.55M446.8 89.5h.55M461.5 86.6h.55M449.3 88.2h.55M433.4 89.7h.55M460.5 90.2h.55M444.5 88.5h.55M433.0 90.0h.55M441.7 91.6h.55M448.7 88.8h.55M453.2 87.6h.55M441.7 89.4h.55M427.9 90.5h.55M450.7 88.9h.55M437.0 89.1h.55M450.7 87.8h.55M425.2 94.9h.55M457.9 90.6h.55M439.3 90.8h.55M463.3 87.5h.55M426.5 90.6h.55M441.8 89.3h.55M450.8 87.9h.55M435.0 89.3h.55M443.1 88.6h.55M435.5 89.2h.55M462.9 86.5h.55M447.8 89.1h.55M426.9 91.2h.55M461.1 86.7h.55M453.4 89.1h.55M450.2 88.3h.55M448.0 89.4h.55M444.7 90.1h.55M458.7 88.6h.55M444.5 88.5h.55M432.8 90.0h.55M450.3 87.7h.55M439.0 89.0h.55M449.1 88.1h.55M462.0 86.3h.55M441.1 90.5h.55M462.5 86.9h.55M467.4 88.5h.55M450.3 88.2h.55M433.7 91.0h.55M427.7 91.5h.55M435.3 89.5h.55M452.7 88.0h.55M427.5 90.2h.55M460.5 87.1h.55M460.1 87.8h.55M425.1 90.8h.55M452.0 87.8h.55M431.0 101.0h.55M439.6 90.3h.55M444.9 94.5h.55M435.2 89.3h.55M454.2 88.8h.55M462.6 86.3h.55M432.9 90.4h.55M437.5 89.2h.55M431.3 89.7h.55M444.3 88.5h.55M426.3 90.3h.55M456.6 88.3h.55M440.5 90.9h.55M427.0 90.8h.55M467.0 85.7h.55M431.7 90.5h.55M440.8 88.7h.55M462.8 88.3h.55M451.4 88.3h.55M450.0 88.6h.55M450.6 88.1h.55M461.7 87.3h.55M435.6 90.4h.55M460.0 87.4h.55M439.6 89.9h.55M456.1 87.2h.55M464.9 86.6h.55M443.8 89.3h.55M459.2 86.8h.55M433.3 90.4h.55M425.7 91.0h.55M430.8 90.0h.55M441.4 91.7h.55M452.5 87.8h.55M453.7 88.2h.55M425.1 91.1h.55M456.6 89.2h.55M468.5 85.5h.55M448.1 88.5h.55M445.0 90.6h.55M444.7 89.3h.55M459.2 89.4h.55M451.3 88.6h.55M429.6 90.5h.55M433.6 91.5h.55M455.2 87.3h.55M451.1 90.4h.55M463.2 86.8h.55M441.5 89.6h.55M443.8 93.4h.55M463.3 89.2h.55M470.0 85.4h.55M467.6 86.2h.55M436.8 90.3h.55M442.9 88.7h.55M468.9 85.7h.55M428.8 90.6h.55M462.1 88.5h.55M445.4 88.9h.55M431.3 91.9h.55M459.1 86.9h.55M455.1 90.2h.55M441.2 89.0h.55M458.5 88.0h.55M442.8 88.4h.55M439.6 90.5h.55M433.4 90.3h.55M459.7 87.1h.55M430.6 91.3h.55M455.8 88.3h.55M465.8 86.4h.55M448.0 88.7h.55M463.5 86.6h.55M435.8 89.8h.55" stroke="#333" stroke-width="0.55" fill="none"/>
<path d="M445.4 47.9h.6M445.3 47.3h.6M447.5 47.1h.6M443.6 49.3h.6M442.6 47.9h.6M446.0 47.9h.6M438.9 48.7h.6M445.8 46.3h.6M444.2 47.7h.6M446.9 46.3h.6M446.6 48.5h.6M446.7 47.4h.6M435.7 48.6h.6M441.7 49.6h.6M447.1 47.7h.6M436.5 48.2h.6M446.2 48.2h.6M443.1 47.0h.6M435.0 48.6h.6M437.1 47.6h.6M440.9 46.9h.6M444.0 48.0h.6M436.9 48.1h.6M439.8 47.1h.6M446.3 47.8h.6M445.0 46.5h.6M440.1 47.3h.6M445.7 48.8h.6M436.8 47.6h.6M447.0 46.9h.6M443.9 48.7h.6M440.6 47.5h.6M437.8 48.1h.6M437.3 48.7h.6M442.8 46.6h.6M444.4 47.3h.6M447.3 46.7h.6M441.5 47.7h.6M440.8 47.5h.6M438.9 48.6h.6M441.2 46.8h.6M443.3 48.3h.6M447.5 45.5h.6M438.7 46.5h.6M442.5 47.0h.6M440.6 47.4h.6M437.6 48.3h.6M445.1 47.9h.6M440.8 47.5h.6M447.0 48.5h.6M438.9 47.1h.6M443.2 47.5h.6M441.9 47.5h.6M434.8 47.8h.6M443.1 49.0h.6M438.2 47.9h.6M444.3 47.8h.6M436.6 48.2h.6M438.9 47.0h.6M445.5 46.8h.6M447.1 47.6h.6M443.3 47.8h.6M439.2 47.5h.6M439.7 47.6h.6M437.7 46.9h.6M439.4 45.9h.6M441.1 46.9h.6M439.2 46.7h.6M438.0 47.5h.6M441.1 47.3h.6" stroke="#777" stroke-width="0.6" fill="none"/>
<path d="M427.5,79.3 C436,77.5 448,75 458,72.6 C464,71 468,70.5 469.5,72.5 C471,76 470.5,81.5 468,84.3 C460,86.5 446,88.5 432,90.2 C424,91.3 423,80.3 427.5,79.3 Z" fill="#b0b0b0" stroke="#111" stroke-width="2"/>
<path d="M430,82 C440,80.2 452,77.8 462,75.8 C465,75.3 466,77.3 465,79.6 C456,82 443,84.8 432.5,87 C428.3,87.8 427.3,82.5 430,82 Z" fill="#c4c4c4" stroke="#777" stroke-width="0.6"/>
<path d="M432,84 C440,82.6 450,80.6 458,79.1 C459.5,79.5 459,80.5 458,81 C450,83 440,85 433,86 C431,86 430.8,84.3 432,84 Z" fill="#e6e6e6"/>
<path d="M427.5,79.3 C436,77.5 448,75 458,72.6 C464,71 468,70.5 469.5,72.5 C471,76 470.5,81.5 468,84.3 C460,86.5 446,88.5 432,90.2 C424,91.3 423,80.3 427.5,79.3 Z" fill="url(#g3)"/>
<ellipse cx="469" cy="78" rx="7" ry="10" fill="#444" opacity="0.6" filter="url(#bl)"/>
<path d="M471,31.5 C475.5,31.5 476.5,38 476,45 C475.5,52 473,59.5 469.8,60.5 C467,60 465.6,53 465.6,46 C465.6,39 466.5,31.5 471,31.5 Z" fill="#1e1e1e" filter="url(#bl2)"/>
<path d="M467.1 70.4h.55M475.1 77.0h.55M472.0 86.7h.55M478.1 68.2h.55M473.6 80.2h.55M471.7 93.0h.55M470.0 73.5h.55M473.2 61.8h.55M472.7 71.1h.55M472.5 72.3h.55M473.3 76.3h.55M468.0 82.8h.55M474.3 65.2h.55M465.5 76.2h.55M469.4 89.2h.55M477.9 82.2h.55M475.8 75.7h.55M465.2 80.8h.55M463.5 91.7h.55M472.2 87.9h.55M468.3 65.1h.55M470.2 82.3h.55M470.1 74.2h.55M471.4 76.8h.55M477.1 67.6h.55M461.5 77.6h.55M472.2 65.8h.55M470.9 82.0h.55M472.5 80.8h.55M467.8 66.5h.55M475.2 75.5h.55M465.2 91.0h.55M474.2 55.4h.55M482.2 79.5h.55M464.1 86.2h.55M472.5 88.5h.55M471.1 64.7h.55M470.3 74.8h.55M472.3 76.8h.55M473.5 68.3h.55M468.7 74.1h.55M472.8 64.3h.55M471.1 97.9h.55M463.3 86.8h.55M471.5 86.4h.55M471.3 80.5h.55M472.6 82.1h.55M465.9 77.2h.55M478.9 90.0h.55M467.4 70.6h.55M470.3 87.0h.55M475.0 73.5h.55M460.8 77.9h.55M463.9 88.1h.55M477.4 83.8h.55M473.6 83.0h.55M479.0 87.2h.55M477.3 68.9h.55M468.8 78.3h.55M461.4 76.0h.55M471.0 77.8h.55M481.9 76.7h.55M470.2 77.3h.55M469.6 66.7h.55M475.9 78.5h.55M472.6 78.6h.55M467.7 65.2h.55M469.8 82.7h.55M470.5 84.3h.55M467.6 75.9h.55M471.7 77.5h.55M471.8 90.1h.55M469.2 79.4h.55M468.2 82.8h.55M472.0 72.3h.55M466.7 68.5h.55M469.8 79.6h.55M468.9 77.4h.55M471.6 97.6h.55M476.1 97.3h.55M471.6 80.1h.55M479.4 81.4h.55M473.9 74.2h.55M468.7 84.7h.55M468.4 72.9h.55M464.6 80.7h.55M470.6 82.8h.55M467.3 68.1h.55M475.8 78.5h.55M474.4 68.9h.55M465.4 57.6h.55M472.3 86.4h.55M476.8 92.8h.55M463.2 69.4h.55M468.7 71.8h.55M470.1 71.7h.55M464.7 78.0h.55M471.6 72.0h.55M471.2 67.6h.55M469.6 75.5h.55M469.0 77.7h.55M465.5 67.3h.55M467.4 84.3h.55M466.9 70.6h.55M479.6 76.2h.55M469.4 71.0h.55M477.4 82.6h.55M472.1 91.4h.55M465.9 64.5h.55M475.8 81.8h.55M468.8 84.8h.55M470.6 94.3h.55M465.5 81.2h.55M475.2 85.6h.55M469.4 75.0h.55M469.1 84.0h.55M469.3 77.2h.55M475.4 77.4h.55M472.1 77.3h.55M471.0 60.1h.55M466.9 81.3h.55M468.2 73.2h.55M471.2 97.1h.55M467.7 70.4h.55M463.2 82.1h.55M470.8 71.4h.55M469.2 86.3h.55M475.4 81.3h.55M476.0 86.6h.55M469.0 84.8h.55M471.7 84.6h.55M472.2 95.8h.55M465.6 81.3h.55M466.3 97.4h.55M468.8 75.3h.55M470.9 77.9h.55M478.4 77.8h.55M472.1 87.0h.55M477.5 70.4h.55M472.3 67.4h.55M473.1 89.9h.55M468.7 76.0h.55M476.2 81.9h.55M474.5 74.5h.55M469.6 75.2h.55M477.8 66.0h.55M468.8 91.1h.55M470.7 69.3h.55M472.0 76.5h.55M470.5 82.4h.55M474.4 65.9h.55M471.9 90.6h.55M465.2 77.5h.55M466.0 83.8h.55M467.3 75.5h.55M469.2 82.0h.55M465.3 66.7h.55M471.8 89.5h.55M468.8 81.7h.55M472.1 79.2h.55M470.9 73.7h.55M469.9 88.2h.55M472.9 88.9h.55M467.8 79.3h.55M468.2 67.3h.55M474.9 75.9h.55M472.0 66.6h.55M469.9 77.3h.55M469.3 86.7h.55M473.0 79.4h.55M472.0 74.6h.55M467.9 76.0h.55M466.6 76.9h.55M470.5 87.6h.55M469.1 98.4h.55M468.7 79.4h.55M470.9 73.2h.55M470.7 63.6h.55M475.8 73.5h.55M470.9 63.2h.55M473.4 67.6h.55M476.9 69.6h.55M467.8 83.8h.55M476.5 61.8h.55M463.7 91.7h.55M472.9 65.7h.55M469.1 84.1h.55M469.3 90.8h.55M467.9 79.7h.55M476.0 90.6h.55M472.0 83.1h.55M469.5 77.7h.55M468.5 81.5h.55M474.6 69.9h.55M465.9 78.7h.55M479.6 80.2h.55M471.5 77.9h.55M463.7 72.4h.55M477.5 60.8h.55M478.7 68.3h.55M479.8 100.1h.55M477.4 77.1h.55M473.5 73.7h.55M469.0 80.0h.55M457.4 82.9h.55M469.6 69.2h.55M469.8 83.7h.55M467.6 81.3h.55M465.2 79.0h.55M466.0 84.7h.55M466.5 83.4h.55M462.4 79.7h.55M475.7 71.4h.55M471.2 71.1h.55M473.0 84.6h.55M475.9 89.4h.55M476.6 72.2h.55M471.5 82.7h.55M471.8 67.3h.55M479.7 99.6h.55M471.2 56.5h.55M478.8 76.7h.55M480.7 69.5h.55M473.2 84.9h.55M464.8 75.5h.55M473.1 83.8h.55M472.6 56.3h.55M460.7 81.3h.55M477.8 65.4h.55M472.7 86.0h.55M466.7 65.0h.55M472.1 74.5h.55M470.5 76.5h.55M470.5 80.9h.55M468.7 78.0h.55M468.5 70.9h.55M472.5 71.3h.55M473.3 78.0h.55M475.6 83.2h.55M462.3 78.0h.55M473.8 79.2h.55M471.1 87.3h.55M473.9 67.0h.55M471.4 86.7h.55M471.6 67.5h.55M474.3 83.3h.55M475.9 79.7h.55M471.4 85.4h.55M466.2 92.7h.55M472.7 80.1h.55M474.2 84.9h.55M461.5 86.1h.55M470.5 71.6h.55M474.8 86.1h.55M472.6 73.0h.55M471.4 70.2h.55M481.8 72.7h.55M474.7 92.0h.55M467.2 73.7h.55M461.3 76.2h.55M465.2 79.6h.55M470.0 78.3h.55M471.1 74.3h.55M471.4 77.7h.55M467.9 75.6h.55M468.5 67.3h.55M470.8 62.5h.55M473.2 78.0h.55M471.7 88.0h.55M475.1 74.5h.55M472.4 88.3h.55M470.3 81.4h.55M472.8 69.5h.55M472.2 74.9h.55M469.8 81.9h.55M473.8 70.6h.55M469.9 76.6h.55M466.8 81.4h.55M470.1 72.3h.55M475.0 77.5h.55M465.9 77.4h.55M470.1 80.7h.55M480.7 82.9h.55M477.2 76.8h.55M473.0 82.4h.55M470.5 80.3h.55M469.0 84.1h.55M467.0 92.7h.55M454.9 66.6h.55M470.4 81.3h.55M471.6 64.6h.55M472.8 70.8h.55M471.8 74.7h.55M469.8 65.4h.55M465.3 73.5h.55M466.4 80.3h.55M464.9 80.1h.55M473.3 72.0h.55M466.8 75.3h.55M474.3 90.0h.55M480.2 79.0h.55M473.6 79.9h.55M470.9 69.2h.55M469.4 87.6h.55M476.9 73.1h.55M464.0 94.1h.55M471.1 82.1h.55M470.2 63.0h.55M472.3 70.1h.55M469.7 73.0h.55M469.8 98.4h.55M477.4 61.8h.55M464.3 74.0h.55M468.1 84.8h.55M477.7 72.1h.55M473.4 76.5h.55M462.4 88.1h.55M478.5 71.3h.55M473.7 73.9h.55M470.5 74.4h.55M470.3 78.6h.55M468.3 80.6h.55M465.4 85.1h.55M466.8 62.6h.55M474.5 75.3h.55M468.6 85.9h.55M470.8 94.6h.55M472.8 66.2h.55M468.8 72.6h.55M469.7 92.4h.55M482.7 92.7h.55M472.9 82.9h.55M471.7 59.6h.55M476.9 95.0h.55M468.7 78.0h.55M467.9 76.5h.55M467.2 68.7h.55M476.1 61.8h.55M475.4 68.6h.55M469.8 61.3h.55M473.7 69.8h.55M481.7 70.4h.55M472.0 83.8h.55M466.7 71.3h.55M466.3 82.9h.55M472.2 86.8h.55M464.7 70.4h.55M470.4 74.5h.55M472.3 87.7h.55M471.5 71.5h.55M470.8 72.2h.55M468.1 93.9h.55M473.9 93.6h.55M470.0 77.7h.55M465.5 80.3h.55M474.1 84.1h.55M465.9 79.2h.55M474.9 74.3h.55M474.0 74.0h.55M470.9 73.3h.55M464.5 71.2h.55M471.7 75.8h.55M470.9 73.4h.55M474.7 76.7h.55M472.6 74.2h.55M476.6 77.4h.55M472.8 96.8h.55M472.8 65.1h.55M468.1 81.0h.55M465.3 65.8h.55M470.4 64.9h.55M475.6 81.9h.55M469.6 88.4h.55M468.0 68.2h.55M474.9 78.4h.55M470.0 87.0h.55M470.4 83.7h.55M471.9 88.0h.55M473.3 74.3h.55M477.4 75.2h.55M478.4 67.5h.55M471.2 59.4h.55M473.2 89.5h.55M469.3 82.2h.55M470.0 90.4h.55M472.4 81.2h.55M475.7 65.4h.55M473.9 79.4h.55M476.5 78.5h.55M473.6 77.8h.55M466.7 74.0h.55M470.2 67.0h.55M470.8 74.3h.55M478.8 76.2h.55M471.5 79.0h.55M474.0 64.7h.55M463.4 91.6h.55M467.4 70.8h.55M476.0 80.8h.55M467.5 84.5h.55M466.1 92.0h.55M469.6 81.1h.55M470.9 94.4h.55M466.8 77.4h.55M480.2 61.1h.55M468.9 80.6h.55M470.0 82.0h.55M476.0 68.7h.55M468.2 89.4h.55M479.4 55.7h.55M473.3 86.6h.55M468.1 70.9h.55M466.1 76.6h.55M466.0 84.2h.55M468.0 82.6h.55M464.2 85.7h.55M473.9 86.2h.55M472.2 97.6h.55M475.2 78.7h.55M477.9 75.3h.55M471.7 92.1h.55M469.0 78.2h.55M472.1 79.8h.55M470.0 86.8h.55M480.3 75.0h.55M464.7 74.4h.55M465.0 67.6h.55M466.5 87.2h.55M471.7 84.2h.55M470.5 86.9h.55M469.2 89.3h.55M474.8 80.1h.55M464.7 69.0h.55M472.1 69.5h.55M470.3 76.9h.55M476.9 72.5h.55M471.6 74.4h.55M467.8 82.0h.55M475.2 66.3h.55M477.5 97.1h.55M471.7 82.7h.55M466.5 74.9h.55M472.3 77.5h.55M476.9 70.9h.55M469.9 82.7h.55M470.7 76.2h.55M470.5 81.7h.55M462.7 100.1h.55M474.2 69.4h.55M467.1 68.8h.55M472.9 62.7h.55M481.6 73.7h.55M465.0 95.6h.55M471.0 82.4h.55M470.2 76.1h.55M479.9 61.7h.55M472.1 72.1h.55M469.5 77.8h.55M463.1 83.5h.55M471.9 83.0h.55M468.4 84.5h.55M469.0 84.8h.55M476.8 83.5h.55M464.8 78.9h.55M466.6 94.6h.55M471.9 67.6h.55M464.5 89.4h.55M466.7 81.7h.55M469.6 77.1h.55M469.1 78.4h.55M478.0 70.9h.55M473.2 82.3h.55M468.1 69.1h.55M467.2 83.1h.55M471.7 86.9h.55M472.6 79.3h.55M471.1 80.2h.55M471.2 83.9h.55M467.3 87.3h.55M478.0 77.6h.55M473.5 68.4h.55M471.5 66.3h.55M475.3 78.7h.55M475.7 87.7h.55M467.9 85.1h.55M477.7 96.9h.55M470.6 82.9h.55M468.3 83.6h.55M473.6 90.4h.55M470.4 78.8h.55M473.2 76.9h.55M479.9 59.8h.55M463.7 74.1h.55M474.0 78.5h.55M472.8 65.6h.55M473.6 82.9h.55M478.1 85.2h.55M468.4 72.2h.55M466.1 74.2h.55M470.6 88.8h.55M478.2 78.9h.55M473.6 76.9h.55M465.4 82.8h.55M467.9 64.9h.55M467.4 90.8h.55M466.0 89.7h.55M465.1 77.7h.55M473.2 75.0h.55M466.9 78.4h.55M478.2 83.8h.55M471.9 83.1h.55M476.1 89.4h.55M469.9 71.0h.55M466.8 78.9h.55M469.7 78.4h.55M468.4 99.1h.55M468.0 90.2h.55M467.3 71.8h.55M466.0 69.2h.55M464.0 71.4h.55M470.0 84.1h.55M463.3 82.0h.55M470.5 78.3h.55M461.7 82.3h.55M473.9 87.9h.55M469.8 88.6h.55M471.3 70.7h.55M473.3 86.5h.55M472.0 78.1h.55M470.0 83.9h.55M463.2 80.8h.55M465.5 74.0h.55M471.9 88.6h.55M471.0 70.6h.55M482.8 81.0h.55M459.3 77.5h.55M467.8 73.3h.55M475.6 96.1h.55M471.5 67.2h.55M474.8 79.1h.55M469.3 80.0h.55M466.0 79.9h.55M472.6 88.2h.55M479.7 73.1h.55M472.7 71.8h.55M471.6 87.9h.55M473.8 75.9h.55M478.8 85.7h.55M476.4 79.0h.55M476.8 77.1h.55M474.8 78.7h.55M471.0 65.5h.55M475.3 83.1h.55M468.3 78.9h.55M473.7 83.6h.55M462.0 90.7h.55M466.6 94.2h.55M476.0 79.5h.55M471.9 80.7h.55M469.3 91.0h.55M468.1 73.9h.55M470.0 65.1h.55M475.6 68.5h.55M477.6 86.2h.55M479.9 73.4h.55M469.7 74.6h.55M474.5 70.9h.55M469.6 59.1h.55M471.2 80.1h.55M479.7 71.4h.55M475.3 83.1h.55M474.9 69.1h.55M455.8 74.3h.55M475.3 79.8h.55M477.4 96.4h.55M468.0 74.9h.55M477.8 64.4h.55M460.0 80.6h.55M472.5 91.0h.55M474.3 78.0h.55M468.5 63.0h.55M473.3 73.2h.55M469.3 81.1h.55M462.0 77.6h.55M468.3 95.0h.55M470.5 87.8h.55M466.7 65.1h.55M474.9 75.4h.55M465.1 87.3h.55M473.3 63.9h.55M470.0 95.1h.55M471.5 66.9h.55M467.3 90.0h.55M477.7 84.1h.55M464.4 85.3h.55M467.4 74.1h.55M468.8 87.4h.55M473.3 83.2h.55M469.1 74.0h.55M475.8 73.2h.55M469.8 83.1h.55M470.3 86.7h.55M473.5 83.8h.55M481.3 73.7h.55M480.4 67.5h.55M467.6 57.2h.55M468.1 71.5h.55M474.2 89.1h.55M481.4 73.8h.55M475.8 76.8h.55M462.8 42.9h.55M469.5 61.8h.55M474.9 70.4h.55M474.0 72.6h.55M473.2 70.2h.55M472.8 93.8h.55M472.7 66.6h.55M467.5 79.5h.55M474.6 67.8h.55M467.0 64.5h.55M478.9 80.8h.55M472.5 74.6h.55M479.6 83.3h.55M470.6 88.8h.55M473.7 75.9h.55M469.4 78.4h.55M477.2 66.2h.55M463.6 84.1h.55M475.8 90.8h.55M473.6 65.4h.55M474.7 79.8h.55M466.5 64.6h.55M464.1 78.9h.55M465.3 81.4h.55M470.3 83.8h.55M474.9 70.4h.55M469.4 84.7h.55M468.2 87.0h.55M473.7 86.1h.55M468.4 85.1h.55M470.1 80.2h.55M473.9 73.5h.55M470.8 57.8h.55M468.0 83.6h.55M466.2 60.1h.55M464.7 75.7h.55M474.0 82.9h.55M464.7 81.8h.55M465.6 87.7h.55M472.8 72.8h.55M469.0 77.6h.55M468.5 88.4h.55M472.4 73.4h.55M473.1 66.4h.55M471.7 75.5h.55M468.5 77.8h.55M472.0 65.6h.55M474.6 73.2h.55M472.6 92.6h.55M466.3 92.6h.55M469.5 94.7h.55M467.4 87.3h.55M468.5 89.1h.55M475.0 81.2h.55M467.4 87.3h.55M472.7 68.9h.55M473.5 76.8h.55M470.5 69.8h.55M472.0 85.7h.55M467.3 85.3h.55M463.0 79.2h.55M472.2 70.0h.55M471.7 66.9h.55M479.2 81.7h.55M475.8 70.2h.55M461.2 77.5h.55M476.9 76.9h.55M476.1 81.7h.55M472.5 87.4h.55M468.5 74.7h.55M475.8 82.2h.55M468.7 68.9h.55M477.5 50.2h.55M475.0 77.0h.55M465.4 81.8h.55M473.1 98.0h.55M472.3 56.5h.55M467.0 84.9h.55M468.9 77.8h.55M470.7 90.7h.55M472.5 76.9h.55M468.3 87.0h.55M468.0 81.9h.55M472.8 84.7h.55M474.4 80.7h.55M479.5 85.1h.55M467.8 70.4h.55M468.0 89.8h.55M466.3 91.9h.55M472.9 73.2h.55M466.7 77.4h.55M474.3 77.6h.55M474.1 79.7h.55M476.8 74.1h.55M470.5 68.5h.55M469.7 69.6h.55M464.6 76.3h.55M473.9 58.8h.55M465.6 66.1h.55M472.6 83.1h.55M472.4 76.6h.55M467.8 79.9h.55M467.3 76.3h.55M472.7 76.1h.55M476.1 59.4h.55M464.3 86.9h.55M468.6 74.2h.55M468.7 77.7h.55M470.4 81.4h.55M475.0 94.3h.55M462.0 77.3h.55M467.3 80.1h.55M466.8 78.8h.55M472.2 77.9h.55M472.0 83.9h.55M466.5 77.8h.55M475.5 86.3h.55M475.2 71.1h.55M468.2 86.8h.55M471.0 80.8h.55M469.5 86.1h.55M471.8 69.7h.55M472.6 75.2h.55M469.9 83.2h.55M471.6 73.3h.55M466.1 74.4h.55M470.5 67.9h.55M468.4 98.4h.55M468.3 78.8h.55M465.8 75.5h.55M472.1 79.7h.55M463.9 78.6h.55M466.9 87.7h.55M470.6 91.9h.55M472.5 68.2h.55M475.0 74.0h.55M470.6 79.1h.55M465.5 88.4h.55M471.7 69.3h.55M465.2 82.2h.55M476.1 81.7h.55M472.3 74.6h.55M475.7 83.0h.55M467.6 73.0h.55M461.9 88.2h.55M472.9 84.9h.55M470.1 96.7h.55M466.7 71.0h.55M477.8 86.2h.55M474.2 77.4h.55M470.8 79.5h.55M472.8 73.1h.55M475.4 93.3h.55M468.8 70.1h.55M471.5 99.5h.55M467.0 89.9h.55M468.2 71.8h.55M475.6 76.8h.55M470.8 84.4h.55M475.8 80.3h.55M477.6 72.5h.55M468.8 84.2h.55M473.8 63.4h.55M469.7 84.2h.55M470.3 93.8h.55M464.3 80.1h.55M467.4 64.6h.55M470.0 77.8h.55M469.2 72.9h.55M474.6 69.4h.55M468.4 66.3h.55M475.9 65.7h.55M478.3 70.4h.55M470.8 92.3h.55M466.5 89.7h.55M465.5 74.4h.55M473.4 81.3h.55M472.4 81.1h.55M477.7 64.5h.55M468.1 85.9h.55M464.8 72.4h.55M481.4 89.9h.55M473.2 79.1h.55M470.3 70.8h.55M467.3 69.9h.55M465.6 79.5h.55M472.8 70.3h.55M471.6 67.0h.55M472.6 75.6h.55M470.7 80.1h.55M476.5 80.2h.55M468.2 79.7h.55M472.7 83.0h.55M475.5 71.4h.55M465.9 83.8h.55M466.2 82.3h.55M482.6 89.1h.55M464.8 71.3h.55M472.7 76.0h.55M474.0 80.5h.55M472.4 83.2h.55M464.4 88.2h.55M465.0 70.8h.55M460.8 78.4h.55M472.7 75.2h.55M465.9 59.7h.55M473.4 68.5h.55M469.5 80.5h.55M470.7 81.9h.55M478.1 84.5h.55M466.7 78.1h.55M470.0 71.1h.55M473.8 75.1h.55M472.0 84.0h.55M480.0 73.2h.55M474.1 96.9h.55M477.8 81.0h.55M467.9 79.8h.55M468.4 74.8h.55M463.7 76.0h.55M462.5 87.0h.55M473.2 75.0h.55M471.2 79.5h.55M469.9 81.0h.55M470.3 82.4h.55M467.6 79.1h.55M478.2 71.5h.55M467.6 86.6h.55M472.4 79.8h.55M471.8 75.0h.55M468.8 82.9h.55M471.8 84.0h.55M472.9 97.7h.55M471.4 90.6h.55M471.7 97.9h.55M475.2 72.0h.55M477.8 73.7h.55M475.4 72.0h.55M472.6 79.9h.55M477.1 60.0h.55M462.8 87.0h.55M474.3 74.2h.55M471.4 63.5h.55M469.4 72.9h.55M474.8 80.7h.55M470.4 88.5h.55M468.2 85.1h.55M470.0 82.5h.55M469.8 90.7h.55M469.2 95.9h.55M474.4 71.5h.55M469.1 90.1h.55M477.3 68.2h.55M471.8 84.0h.55M481.3 84.4h.55M470.2 86.6h.55M471.4 71.3h.55M470.9 76.7h.55M470.1 79.4h.55M472.6 72.0h.55M473.9 65.1h.55M473.9 82.9h.55M472.9 65.9h.55M468.9 80.5h.55M473.0 85.1h.55M464.5 78.9h.55M475.7 68.7h.55M465.8 74.7h.55M469.9 76.5h.55M476.4 81.2h.55M462.8 85.5h.55M471.5 86.1h.55M470.9 90.7h.55M471.7 74.6h.55M465.9 86.7h.55M470.5 63.7h.55M474.7 89.9h.55M462.0 83.7h.55M473.9 93.6h.55M476.3 72.4h.55M473.0 85.1h.55M464.7 91.2h.55M473.2 86.0h.55M467.2 85.9h.55M470.8 76.2h.55M471.2 81.8h.55M464.5 78.8h.55M472.6 65.0h.55" stroke="#2a2a2a" stroke-width="0.55" fill="none"/>
<path d="M483.2 76.9h.55M482.4 66.8h.55M482.3 84.9h.55M482.5 78.6h.55M482.7 85.1h.55M483.5 85.2h.55M483.2 86.6h.55M483.0 71.0h.55M482.9 74.9h.55M483.0 83.4h.55M482.3 53.3h.55M483.0 86.6h.55M482.7 90.3h.55M482.8 81.6h.55M483.3 63.4h.55M483.1 58.3h.55M482.4 79.0h.55M483.1 66.1h.55M482.9 88.7h.55M482.1 82.1h.55M483.5 64.7h.55M483.5 81.1h.55M482.8 77.2h.55M482.9 77.3h.55M482.8 70.3h.55M483.3 92.5h.55M482.8 89.9h.55M482.5 65.4h.55M483.2 79.2h.55M483.1 68.3h.55M482.7 86.3h.55M483.1 53.0h.55M482.6 88.9h.55M481.7 81.6h.55M482.3 73.2h.55M482.6 73.6h.55M482.4 83.0h.55M483.0 65.0h.55M482.1 96.0h.55M483.2 78.9h.55M482.1 96.7h.55M482.4 78.1h.55M483.1 70.4h.55M483.0 72.9h.55M481.9 64.4h.55M482.6 72.2h.55M483.1 92.1h.55M482.8 96.9h.55M482.7 78.0h.55M482.8 61.7h.55M482.9 75.1h.55M482.5 83.9h.55M483.1 74.2h.55M482.5 79.8h.55M482.5 69.3h.55M482.7 85.7h.55M482.8 75.6h.55M482.7 82.5h.55M482.8 84.6h.55M482.8 84.8h.55M482.8 70.3h.55M483.1 75.2h.55M482.7 90.2h.55M482.7 69.9h.55M482.7 90.2h.55M482.3 87.7h.55M483.1 73.5h.55M482.7 70.5h.55M481.9 68.6h.55M482.2 62.5h.55M482.7 82.5h.55M482.4 74.1h.55M482.5 75.2h.55M483.1 88.2h.55M483.2 80.5h.55M483.5 83.7h.55M483.1 82.3h.55M483.3 67.7h.55M482.5 77.9h.55M482.0 74.6h.55M482.7 80.0h.55M483.2 89.1h.55M481.8 79.1h.55M483.0 90.3h.55M482.6 81.0h.55M482.8 68.5h.55M483.0 85.9h.55M482.7 78.0h.55M483.4 75.4h.55M482.7 79.8h.55M483.1 80.9h.55M483.5 81.2h.55M482.3 62.3h.55M482.8 92.5h.55M482.9 73.2h.55M483.0 82.0h.55M483.5 65.5h.55M483.2 78.9h.55M483.3 87.0h.55M481.8 85.6h.55M483.1 70.0h.55M482.8 86.8h.55M482.2 85.2h.55M483.3 93.2h.55M482.5 71.5h.55M483.4 74.6h.55M483.1 53.3h.55M482.1 81.7h.55M483.1 69.7h.55M481.8 82.2h.55M483.0 68.7h.55M482.9 71.9h.55M482.4 83.6h.55M482.9 77.5h.55M482.3 70.7h.55M482.7 71.7h.55M483.0 77.4h.55M482.8 75.6h.55M483.1 86.4h.55M482.4 85.9h.55M483.3 84.4h.55M482.6 79.1h.55M483.3 74.8h.55M483.3 71.4h.55M482.6 91.9h.55M482.3 72.3h.55M482.8 65.7h.55M483.2 65.9h.55M482.9 75.0h.55M481.8 78.5h.55M482.1 77.4h.55M481.8 72.2h.55M483.3 79.7h.55M483.4 92.0h.55M483.2 75.4h.55M482.8 82.9h.55M482.3 67.6h.55M482.9 93.1h.55M482.3 79.4h.55M482.5 83.7h.55M483.0 76.8h.55M483.3 74.8h.55M482.1 96.4h.55M482.8 80.0h.55M483.2 69.6h.55M482.6 70.2h.55M483.1 80.8h.55M483.0 65.1h.55M482.5 63.8h.55M482.2 70.3h.55M483.0 81.7h.55M482.0 82.9h.55M483.0 91.7h.55M483.3 63.3h.55M483.1 79.3h.55M483.0 70.4h.55M483.6 78.0h.55M482.6 60.4h.55M482.7 64.4h.55M482.2 92.1h.55M482.8 86.1h.55M483.4 83.9h.55M482.7 66.3h.55M482.8 78.2h.55M482.8 74.3h.55M482.9 63.8h.55M483.4 66.2h.55M482.9 69.0h.55M483.5 71.9h.55M482.4 73.6h.55M483.3 65.7h.55M482.3 72.2h.55M483.2 49.9h.55M483.3 98.0h.55M482.8 85.7h.55M482.8 59.9h.55M482.7 82.7h.55M482.3 74.3h.55M482.6 80.7h.55M482.3 92.4h.55M482.7 73.2h.55M483.1 84.1h.55M483.0 80.3h.55M483.0 65.9h.55M483.2 85.1h.55M482.5 60.8h.55M482.6 78.7h.55M483.5 79.1h.55M481.3 71.3h.55M482.9 79.3h.55M482.1 73.7h.55M482.9 83.5h.55M483.3 92.4h.55M482.5 73.0h.55M482.7 81.6h.55M483.0 68.5h.55M482.3 93.5h.55M482.8 90.2h.55M483.3 72.4h.55M483.0 68.6h.55M483.2 75.6h.55M483.3 88.6h.55M482.6 84.5h.55M483.1 72.1h.55M483.0 88.6h.55M483.0 86.1h.55M483.0 88.8h.55M482.8 73.9h.55M483.2 55.7h.55M482.6 91.3h.55" stroke="#333" stroke-width="0.55" fill="none"/>
<path d="M468.7 57.9h.55M475.0 45.6h.55M468.6 47.0h.55M473.1 60.7h.55M474.8 43.8h.55M473.0 43.9h.55M473.6 51.6h.55M474.6 48.2h.55M472.9 38.1h.55M468.0 47.4h.55M470.9 52.5h.55M476.9 46.1h.55M467.5 35.3h.55M469.0 53.0h.55M471.7 44.4h.55M472.5 46.0h.55M471.4 46.2h.55M467.0 48.8h.55M471.2 62.7h.55M471.0 41.5h.55M471.2 40.7h.55M470.6 42.9h.55M471.6 39.6h.55M470.4 42.4h.55M468.0 43.1h.55M472.6 52.7h.55M471.5 45.5h.55M473.3 45.7h.55M472.5 34.3h.55M467.4 37.7h.55M473.8 46.2h.55M471.9 38.5h.55M466.6 63.3h.55M475.2 62.4h.55M470.7 40.8h.55M471.4 44.5h.55M469.3 33.1h.55M476.2 40.5h.55M469.6 47.6h.55M469.8 46.8h.55M473.2 43.0h.55M472.1 45.9h.55M467.1 44.9h.55M467.8 51.0h.55M470.7 47.0h.55M473.5 41.7h.55M468.5 54.6h.55M472.7 50.5h.55M465.3 41.4h.55M468.1 39.0h.55M469.5 47.5h.55M469.3 43.2h.55M470.9 55.9h.55M469.1 45.3h.55M478.3 51.5h.55M473.0 38.5h.55M467.8 39.9h.55M479.2 47.7h.55M474.6 45.0h.55M471.2 53.9h.55M468.5 40.8h.55M467.7 37.7h.55M473.6 43.8h.55M467.8 47.9h.55M471.5 45.9h.55M476.5 52.4h.55M474.0 38.9h.55M470.6 54.9h.55M472.8 54.1h.55M466.6 40.2h.55M475.4 60.3h.55M474.6 54.6h.55M471.0 51.8h.55M474.2 41.1h.55M473.7 53.9h.55M469.3 56.3h.55M474.3 55.2h.55M469.5 46.7h.55M470.7 58.0h.55M477.7 44.7h.55M476.4 53.4h.55M468.9 38.6h.55M475.1 51.5h.55M468.9 42.6h.55M469.7 43.7h.55M475.9 44.6h.55M472.2 53.8h.55M476.6 45.6h.55M469.9 41.9h.55M467.2 42.7h.55M468.6 42.1h.55M471.2 51.6h.55M471.0 63.7h.55M471.7 50.3h.55M472.3 46.0h.55M473.5 48.9h.55M467.0 38.5h.55M475.0 36.9h.55M475.8 50.5h.55M471.5 55.5h.55M471.4 42.5h.55M464.5 35.9h.55M467.4 48.1h.55M471.1 38.7h.55M474.1 54.9h.55M477.2 52.7h.55M467.3 43.5h.55M473.0 53.9h.55M467.0 46.1h.55M472.7 50.1h.55M466.1 38.4h.55M470.5 43.6h.55M473.4 44.7h.55M472.2 40.6h.55M470.7 53.7h.55M469.3 44.1h.55M466.7 33.2h.55M472.5 55.6h.55M468.9 42.6h.55M471.7 43.0h.55M471.0 42.7h.55M472.5 43.0h.55M469.4 34.2h.55M468.6 32.6h.55M470.4 52.6h.55M467.1 36.1h.55M468.6 47.1h.55M469.9 42.3h.55M468.1 41.3h.55M469.8 38.6h.55M474.9 52.4h.55M470.3 47.4h.55M477.4 55.3h.55M469.3 44.0h.55M474.1 51.5h.55M470.0 45.5h.55M467.6 40.4h.55M469.6 42.7h.55M474.7 48.8h.55M474.1 48.1h.55M466.5 51.0h.55M469.2 43.3h.55M474.0 58.3h.55M471.3 55.2h.55M469.4 49.1h.55M468.2 50.6h.55M469.2 48.9h.55M467.4 53.3h.55M475.5 47.2h.55M471.0 38.4h.55M470.2 34.2h.55M472.9 46.5h.55M474.2 48.1h.55M470.1 38.7h.55M472.6 45.9h.55M467.4 31.6h.55M473.6 46.8h.55M470.6 41.2h.55M469.3 44.1h.55M471.4 37.0h.55M477.9 57.8h.55M465.3 41.5h.55M474.0 43.2h.55M466.9 46.2h.55M469.0 43.9h.55M475.6 49.2h.55M474.6 42.7h.55M465.6 38.3h.55M469.7 49.4h.55M472.1 31.8h.55M467.6 39.6h.55M468.7 38.9h.55M469.9 45.7h.55M466.5 35.0h.55M468.2 52.1h.55M470.3 34.0h.55M472.2 53.3h.55M466.2 32.7h.55M472.1 46.8h.55M472.6 58.5h.55M472.7 54.2h.55M469.4 54.6h.55M468.8 46.2h.55M465.0 37.7h.55M473.1 40.4h.55M469.8 34.9h.55M471.0 41.9h.55M468.8 41.3h.55M469.6 44.3h.55M470.0 53.1h.55M474.7 46.8h.55M471.8 39.5h.55M472.5 50.9h.55M469.2 35.7h.55M472.3 49.7h.55M467.6 45.6h.55M474.4 41.1h.55M469.2 36.0h.55M471.8 40.3h.55M475.6 53.4h.55M470.2 41.9h.55M473.7 44.7h.55M469.7 45.2h.55M473.8 58.1h.55M469.8 35.5h.55M468.2 41.9h.55M472.7 49.7h.55M471.4 34.9h.55M471.1 41.7h.55M468.1 47.5h.55M474.4 49.5h.55M472.5 53.9h.55M470.9 42.3h.55M475.1 44.1h.55M470.0 47.0h.55M469.7 37.3h.55M474.0 47.6h.55M468.9 39.5h.55M472.5 52.5h.55M471.4 54.1h.55M470.8 56.8h.55M473.4 39.0h.55M470.6 47.4h.55M470.8 38.1h.55M472.2 45.9h.55M466.7 32.6h.55M469.8 51.1h.55M470.8 46.5h.55M473.6 45.8h.55M470.9 44.8h.55M473.4 42.6h.55M472.0 40.9h.55M471.1 53.4h.55M468.7 47.0h.55M471.1 47.1h.55M472.4 47.0h.55M472.3 59.5h.55M469.0 35.9h.55M473.0 49.8h.55M476.5 45.2h.55M472.9 42.9h.55M469.5 39.9h.55M468.6 36.6h.55M470.0 43.4h.55M471.1 51.3h.55M468.4 42.6h.55M468.5 49.3h.55M468.4 40.7h.55M468.7 51.3h.55M467.6 34.3h.55M469.8 41.9h.55M468.4 51.4h.55M470.4 35.3h.55M469.1 40.3h.55M468.4 40.3h.55M469.8 48.9h.55M477.9 45.9h.55M469.6 52.4h.55M475.6 54.7h.55M470.2 58.7h.55M471.1 54.1h.55M469.4 35.2h.55M474.6 41.9h.55M468.0 44.0h.55M468.3 48.1h.55M471.1 44.0h.55M469.4 54.6h.55M474.7 56.5h.55M467.3 54.3h.55M471.2 57.9h.55M472.4 41.6h.55M466.4 36.8h.55M474.2 44.7h.55M475.4 39.7h.55M472.7 45.9h.55M467.1 45.0h.55M469.8 42.3h.55M465.2 33.5h.55M469.1 42.8h.55M468.6 58.2h.55M469.8 45.9h.55M470.0 53.7h.55M472.5 53.8h.55M466.7 43.1h.55M470.5 49.6h.55M469.1 44.9h.55M468.2 40.6h.55M471.9 42.4h.55M468.6 42.4h.55M471.8 49.0h.55M467.6 39.6h.55M467.7 35.5h.55M477.4 59.3h.55M472.8 44.8h.55M473.2 58.3h.55M474.3 53.2h.55M468.2 60.4h.55M473.0 53.2h.55M471.8 48.8h.55M469.8 32.1h.55M475.8 68.0h.55M472.2 51.2h.55M470.8 50.8h.55M470.4 44.4h.55M472.6 34.3h.55M474.7 45.6h.55M472.4 50.9h.55M475.2 61.0h.55M467.3 35.5h.55M471.3 33.8h.55M472.5 45.8h.55M468.7 49.6h.55M468.3 37.8h.55M470.8 51.5h.55M470.3 42.3h.55M471.4 43.0h.55M465.7 47.8h.55M472.1 54.3h.55M471.2 48.9h.55M466.2 31.7h.55M465.5 49.5h.55M468.9 53.4h.55M472.0 42.9h.55M470.5 39.3h.55M469.6 46.7h.55M472.6 43.2h.55M466.4 50.0h.55M467.7 48.0h.55M466.6 35.3h.55M465.3 45.5h.55M472.0 68.6h.55M475.9 50.3h.55M465.1 39.0h.55M471.5 48.4h.55M471.2 38.2h.55M469.9 58.2h.55M469.2 41.2h.55M467.4 38.1h.55M474.0 50.5h.55M469.3 41.4h.55M473.0 42.9h.55M468.5 41.1h.55M463.7 47.8h.55M468.5 48.9h.55M470.7 52.5h.55M469.2 61.8h.55M472.2 44.9h.55M471.6 30.9h.55M470.0 60.3h.55M471.6 35.4h.55M466.4 44.5h.55M472.4 45.1h.55M474.7 50.2h.55M476.3 55.8h.55M476.4 30.6h.55M472.8 52.5h.55M474.8 52.8h.55M471.8 48.4h.55M471.3 49.7h.55M475.1 37.1h.55M469.5 33.6h.55M469.1 45.9h.55M471.2 48.4h.55M472.7 49.9h.55M469.8 43.6h.55M467.8 39.6h.55M470.4 47.7h.55M466.3 49.6h.55M470.5 33.8h.55M470.2 49.0h.55M471.0 42.4h.55M468.2 44.8h.55M471.1 47.7h.55M469.6 53.1h.55M465.7 41.1h.55M471.2 51.6h.55M469.9 47.7h.55M470.2 53.0h.55M469.0 47.7h.55M471.6 34.5h.55M473.9 43.5h.55M467.5 37.9h.55M473.0 44.1h.55M472.8 40.1h.55M471.4 33.3h.55M469.9 53.8h.55M469.2 45.2h.55M465.6 53.1h.55M470.0 47.9h.55M469.6 36.8h.55M469.7 42.0h.55M467.8 41.7h.55M467.9 39.4h.55M462.8 31.8h.55M471.5 47.4h.55M470.0 47.5h.55M475.3 51.4h.55M471.0 44.7h.55M471.5 50.4h.55M464.5 55.3h.55M473.2 50.6h.55M469.0 43.0h.55M468.5 53.0h.55M468.7 32.0h.55M470.0 38.5h.55M471.1 46.5h.55M468.3 32.2h.55M469.7 35.1h.55M470.1 45.9h.55M469.5 45.3h.55M469.5 55.9h.55M465.7 33.4h.55M473.7 38.8h.55M472.3 44.9h.55M470.6 35.0h.55M469.4 43.1h.55M464.7 40.4h.55M471.0 42.8h.55M466.4 49.8h.55M470.2 36.6h.55M468.1 45.1h.55M469.0 48.8h.55M467.1 44.1h.55M471.8 49.6h.55M468.3 36.4h.55M467.4 43.1h.55M464.9 60.2h.55M469.8 52.9h.55M469.6 53.6h.55M469.8 51.5h.55M473.2 49.2h.55M467.1 45.1h.55M470.9 43.1h.55M469.9 49.3h.55" stroke="#222" stroke-width="0.55" fill="none"/>
<path d="M262.1 178.1h.6M284.8 165.3h.6M285.0 149.7h.6M269.7 124.2h.6M274.8 133.3h.6M266.6 131.0h.6M264.5 142.4h.6M282.3 151.3h.6M344.5 183.5h.6M364.4 181.0h.6M327.8 166.7h.6M339.3 117.3h.6M365.9 177.0h.6M364.2 152.7h.6M353.7 121.3h.6M358.3 134.6h.6M442.5 178.4h.6M428.1 169.1h.6M452.3 148.9h.6M446.7 167.0h.6M445.0 173.6h.6M415.2 172.9h.6M415.0 156.0h.6M430.0 151.5h.6" stroke="#d0d0d0" stroke-width="0.6" fill="none"/>
<path d="M298.1 167.0h.55M296.1 168.0h.55M297.0 148.3h.55M300.2 153.3h.55M296.1 170.0h.55M301.1 175.1h.55M299.3 183.5h.55M298.8 152.8h.55M299.3 165.4h.55M300.6 181.3h.55M299.9 164.9h.55M295.4 164.7h.55M299.1 166.2h.55M297.8 177.1h.55M297.4 179.0h.55M297.0 183.5h.55M297.9 182.3h.55M296.4 153.1h.55M301.6 174.3h.55M298.3 177.7h.55M297.0 148.9h.55M297.7 172.5h.55M298.0 177.1h.55M295.7 162.2h.55M294.4 174.2h.55M298.9 172.6h.55M300.3 177.8h.55M300.7 176.6h.55M295.7 156.9h.55M299.7 173.0h.55M297.6 176.7h.55M295.9 161.1h.55M298.2 153.5h.55M295.2 155.7h.55M301.4 168.8h.55M297.5 151.6h.55M300.5 152.2h.55M299.0 172.0h.55M298.4 172.6h.55M303.3 149.4h.55M300.2 155.9h.55M295.1 162.0h.55M295.6 163.0h.55M293.4 178.8h.55M303.4 171.5h.55M295.7 179.3h.55M301.3 180.6h.55M299.6 160.9h.55M299.2 179.8h.55M296.1 160.3h.55M294.7 152.1h.55M296.8 150.7h.55M296.4 172.3h.55M300.0 184.8h.55M299.1 175.0h.55M297.5 152.0h.55M298.9 182.2h.55M298.3 175.0h.55M294.8 171.7h.55M297.5 151.5h.55M292.7 148.7h.55M298.7 175.0h.55M300.6 154.4h.55M299.2 150.4h.55M300.2 185.2h.55M298.9 153.1h.55M296.0 161.6h.55M298.6 156.0h.55M292.6 152.9h.55M302.0 179.7h.55M298.6 174.3h.55M295.3 168.9h.55M298.7 176.9h.55M297.9 179.3h.55M294.3 149.6h.55M292.6 171.2h.55M297.9 168.2h.55M297.0 179.2h.55M296.8 179.2h.55M295.8 183.0h.55M298.1 179.3h.55M299.7 176.8h.55M301.1 170.6h.55M297.1 148.0h.55M298.6 162.7h.55M297.0 156.2h.55M298.3 181.1h.55M297.8 151.6h.55M295.6 183.6h.55M301.3 174.0h.55M295.6 174.0h.55M297.5 147.6h.55M300.9 160.0h.55M298.4 175.6h.55M299.0 164.6h.55M296.2 172.3h.55M301.7 173.6h.55M299.2 164.9h.55M297.0 150.2h.55M297.5 148.7h.55M293.9 160.8h.55M301.9 171.0h.55M299.8 157.0h.55M296.2 181.4h.55M292.6 162.5h.55M300.2 157.7h.55M298.2 174.9h.55M295.6 158.3h.55M302.0 182.1h.55M300.6 148.8h.55M296.6 178.1h.55M298.7 175.7h.55M296.9 151.1h.55M297.1 153.5h.55M299.7 172.4h.55M300.7 184.1h.55M297.7 157.8h.55M299.3 179.2h.55M299.3 160.1h.55M295.1 171.1h.55M301.9 162.8h.55M298.8 155.3h.55M296.9 171.4h.55M294.3 179.1h.55M298.1 174.0h.55M299.6 156.6h.55M301.3 151.2h.55M297.2 167.0h.55M300.2 152.0h.55M296.3 185.9h.55M296.1 166.1h.55M300.0 171.0h.55M294.1 173.2h.55M302.4 185.0h.55M300.6 183.2h.55M299.4 159.7h.55M298.7 154.3h.55M297.9 170.2h.55M299.0 181.3h.55M295.6 181.1h.55M301.8 169.7h.55M299.1 171.2h.55M296.5 172.5h.55M305.0 157.6h.55M298.1 167.6h.55M298.6 152.4h.55M295.2 185.9h.55M299.8 160.0h.55M295.9 147.7h.55M295.3 176.8h.55M304.1 153.2h.55M297.3 166.6h.55M297.1 184.5h.55M300.7 185.0h.55M298.4 151.3h.55M293.8 180.2h.55M299.2 168.2h.55M295.3 173.6h.55M296.5 185.4h.55M297.0 156.5h.55M296.5 166.5h.55M295.8 158.1h.55M294.2 154.9h.55M301.3 148.7h.55M300.1 147.9h.55M293.8 185.5h.55M299.5 157.8h.55M297.2 152.6h.55M298.8 155.1h.55M298.9 174.6h.55M294.3 177.5h.55M299.8 168.1h.55M303.9 157.8h.55M298.5 148.1h.55M296.2 177.0h.55M303.0 180.1h.55M303.2 160.5h.55M301.0 168.6h.55M297.2 158.5h.55M300.6 158.7h.55M296.0 159.6h.55M297.3 183.8h.55M299.9 169.9h.55M295.1 149.9h.55M295.1 170.9h.55M298.1 183.6h.55M296.9 166.6h.55M304.3 163.3h.55M298.6 179.5h.55M298.5 158.1h.55M297.8 166.5h.55M296.8 161.6h.55M301.5 166.0h.55M294.4 168.5h.55M300.1 162.5h.55M296.0 152.5h.55M301.0 182.0h.55M300.0 149.4h.55M295.8 175.4h.55M301.1 169.0h.55M296.0 169.9h.55M293.4 162.2h.55M298.5 179.2h.55M300.0 180.8h.55M296.8 185.4h.55M299.2 149.6h.55M296.0 174.6h.55M299.5 149.0h.55M297.6 155.5h.55M297.3 164.6h.55M298.1 172.9h.55M296.3 148.4h.55M299.0 150.4h.55M299.6 178.8h.55M293.9 165.6h.55M295.8 169.1h.55M303.4 159.7h.55M298.9 172.4h.55M299.3 160.9h.55M295.9 177.1h.55M299.7 163.2h.55M292.9 160.6h.55M294.7 173.6h.55M297.8 179.6h.55M296.6 177.5h.55M296.6 177.6h.55M298.5 163.0h.55M297.0 180.6h.55M296.8 148.9h.55M298.8 174.8h.55M300.1 165.3h.55M298.3 154.1h.55M294.1 150.3h.55M298.9 160.1h.55M296.3 169.3h.55M295.0 158.5h.55M294.5 166.2h.55M302.3 158.7h.55M296.7 169.6h.55M298.1 184.0h.55M297.8 180.2h.55M297.7 155.1h.55M299.8 168.1h.55M298.3 147.6h.55M300.3 147.8h.55M297.7 174.0h.55M298.4 153.7h.55M297.8 152.0h.55M296.4 148.7h.55M299.7 184.8h.55M298.1 171.9h.55M296.0 166.1h.55M298.5 184.6h.55M296.2 175.9h.55M295.7 172.7h.55M295.7 148.4h.55M300.0 155.2h.55M296.1 161.4h.55M297.2 155.9h.55M293.8 162.4h.55M298.8 162.7h.55M297.8 184.5h.55M297.4 164.9h.55M295.0 150.2h.55M297.9 150.3h.55M295.7 185.0h.55M300.2 174.4h.55M299.3 168.5h.55M294.8 157.0h.55M300.3 174.7h.55M292.4 180.6h.55M300.9 156.1h.55M299.9 160.7h.55M296.3 153.2h.55M298.2 156.0h.55M298.5 162.5h.55M295.8 174.3h.55M293.1 184.8h.55M302.4 158.7h.55M296.3 149.2h.55M296.0 185.6h.55M296.6 148.4h.55M299.7 173.8h.55M297.2 175.7h.55M293.8 180.1h.55M298.4 152.3h.55M300.7 179.5h.55M291.5 170.4h.55M297.0 169.2h.55M297.3 159.0h.55M298.5 157.5h.55M303.4 155.2h.55M299.8 181.5h.55M295.6 154.2h.55M299.9 181.8h.55M296.5 171.2h.55M296.7 151.8h.55M299.8 168.9h.55M302.6 157.5h.55M300.2 159.9h.55M295.8 183.4h.55M299.7 150.5h.55M296.1 167.5h.55M300.3 181.4h.55M294.5 173.4h.55M297.0 161.9h.55M296.4 151.9h.55M298.5 184.7h.55M297.4 180.2h.55M296.8 163.4h.55M294.3 159.0h.55M300.1 174.0h.55M298.6 153.9h.55M294.4 152.2h.55M298.0 161.6h.55M294.6 183.8h.55M295.6 179.6h.55M299.4 155.3h.55M297.8 165.8h.55M296.6 151.6h.55M300.8 148.9h.55M298.9 160.7h.55M298.6 178.1h.55M296.7 170.6h.55M297.2 185.7h.55M299.2 174.5h.55M297.6 150.8h.55M299.3 172.0h.55M296.3 182.9h.55M295.9 149.7h.55M298.6 173.4h.55M296.2 150.7h.55M294.7 160.6h.55M297.7 151.8h.55M299.3 156.3h.55M301.0 171.1h.55M294.2 160.0h.55M295.4 152.8h.55M302.5 151.9h.55M299.7 184.5h.55M297.3 158.9h.55M299.6 180.8h.55M299.1 180.8h.55M295.6 164.5h.55M296.0 160.9h.55M300.1 151.7h.55M297.0 170.2h.55M296.4 184.1h.55M299.4 173.3h.55M292.6 154.6h.55M299.1 154.4h.55M299.1 176.3h.55M297.7 158.6h.55M302.5 175.4h.55M301.5 160.0h.55M298.9 176.7h.55M301.6 158.9h.55M300.1 168.7h.55M298.4 159.3h.55M298.2 155.9h.55M295.2 168.6h.55M300.3 185.3h.55M300.8 156.5h.55M299.3 156.9h.55M300.7 151.8h.55M296.4 173.9h.55M297.9 167.1h.55M298.8 168.6h.55M303.1 178.2h.55M298.3 156.1h.55M296.1 158.7h.55M294.0 152.2h.55M297.6 157.7h.55M302.2 183.5h.55M298.3 170.5h.55M295.7 160.2h.55M296.6 162.0h.55M299.6 166.0h.55M297.9 160.6h.55M296.9 162.4h.55M297.0 183.6h.55M299.2 147.6h.55M304.9 185.1h.55M296.9 185.4h.55M293.5 154.5h.55M297.9 179.2h.55M300.2 177.3h.55M302.1 174.0h.55M298.2 178.9h.55M295.8 183.3h.55M295.5 156.6h.55M295.1 163.1h.55M297.2 168.8h.55M294.8 152.7h.55M300.6 179.4h.55M302.1 158.4h.55M303.1 185.3h.55M294.2 169.6h.55M300.1 172.4h.55M299.1 182.6h.55M298.4 149.7h.55M293.5 172.2h.55M294.0 169.8h.55M296.8 158.8h.55M293.8 151.9h.55M296.7 155.9h.55M301.1 161.2h.55M295.8 172.6h.55M298.4 183.9h.55M293.7 156.5h.55M296.9 182.1h.55M298.6 148.1h.55M297.0 163.7h.55M297.9 153.8h.55M298.2 179.3h.55M294.5 166.8h.55M298.1 151.6h.55M303.5 164.8h.55M297.3 184.9h.55M296.7 152.0h.55M295.7 185.8h.55M300.3 160.1h.55M298.5 175.8h.55M297.3 162.6h.55M298.4 148.6h.55M293.1 173.3h.55M295.0 184.7h.55M295.1 169.6h.55M296.7 148.4h.55M296.8 168.4h.55M300.4 182.4h.55M297.3 185.7h.55M295.8 171.1h.55M300.5 158.9h.55M299.2 163.0h.55M294.4 175.5h.55M294.9 184.3h.55M296.8 170.2h.55M297.4 181.5h.55M294.7 150.2h.55M303.5 171.2h.55M298.4 156.7h.55M301.1 168.0h.55M300.0 183.2h.55M302.9 167.4h.55M299.4 155.4h.55M300.6 183.4h.55M298.6 153.1h.55M296.9 172.4h.55M297.9 154.2h.55M299.1 149.0h.55M298.8 150.3h.55M296.9 158.4h.55M302.0 177.1h.55M298.6 168.2h.55M303.3 170.0h.55M297.3 153.6h.55M297.9 184.5h.55M297.6 178.0h.55M297.3 178.7h.55M296.8 178.0h.55M300.3 162.0h.55M297.0 181.5h.55M294.7 176.7h.55M299.5 155.5h.55M293.9 185.6h.55M296.2 157.2h.55M296.5 153.9h.55M300.2 147.6h.55M295.8 163.7h.55M294.6 152.8h.55M296.9 171.7h.55M298.6 150.0h.55M297.8 167.0h.55M298.7 183.2h.55M297.4 152.8h.55M296.8 173.4h.55M300.6 148.9h.55M299.6 151.4h.55M299.7 159.9h.55M296.3 149.4h.55M297.5 175.2h.55M294.9 151.2h.55M296.3 147.8h.55M299.3 164.3h.55M295.1 175.5h.55M297.4 164.9h.55M296.4 163.2h.55M298.2 156.4h.55M294.7 166.1h.55M299.4 156.3h.55M297.9 179.8h.55M296.6 181.8h.55M298.3 169.1h.55M299.3 148.9h.55M295.1 178.0h.55M297.7 154.8h.55M297.9 167.6h.55M296.9 163.8h.55M296.0 160.5h.55M299.9 174.8h.55M297.8 164.0h.55M297.7 159.1h.55M295.4 177.8h.55M294.1 182.4h.55M300.6 148.2h.55M296.5 175.0h.55M301.8 164.2h.55M294.3 152.2h.55M296.5 159.0h.55M297.9 154.5h.55M301.3 179.5h.55M292.7 170.3h.55M301.8 163.9h.55M294.3 162.1h.55M297.4 179.1h.55M299.4 159.9h.55M293.9 170.5h.55M300.5 149.0h.55M297.1 166.9h.55M297.2 157.0h.55M298.5 165.0h.55M294.8 176.9h.55M300.0 174.5h.55M296.5 153.4h.55M298.8 172.7h.55M297.6 162.5h.55M298.9 162.9h.55M298.6 153.2h.55M296.7 181.6h.55M296.4 149.1h.55M298.3 169.5h.55M294.9 159.5h.55M299.9 158.4h.55M294.5 165.0h.55M293.9 177.3h.55M300.7 181.3h.55M298.4 148.5h.55M298.3 150.8h.55M295.4 172.2h.55M300.2 152.6h.55M297.6 168.0h.55M303.9 172.0h.55M300.3 166.0h.55M300.0 147.5h.55M298.9 152.7h.55M295.9 166.0h.55M298.1 173.9h.55M303.4 171.8h.55M299.5 168.8h.55M303.7 162.2h.55M299.3 156.9h.55M297.1 155.4h.55M295.3 151.4h.55M301.0 185.1h.55M294.8 173.9h.55M293.0 150.2h.55M300.1 165.1h.55M299.9 178.4h.55M295.7 177.6h.55M296.3 148.7h.55M303.7 177.2h.55M299.1 148.9h.55M298.0 154.8h.55M295.6 169.5h.55M296.9 182.5h.55M297.5 182.4h.55M298.7 185.5h.55M303.0 168.6h.55M296.8 151.5h.55M303.2 161.4h.55M295.2 154.4h.55M300.2 156.4h.55M298.7 160.9h.55M295.5 163.4h.55M301.5 154.0h.55M295.6 150.4h.55M296.3 165.7h.55M297.4 182.3h.55M292.8 163.8h.55M298.2 181.0h.55M295.9 159.7h.55M297.8 182.4h.55M301.6 183.3h.55M293.8 157.0h.55M301.5 170.3h.55M298.6 160.5h.55M298.0 177.6h.55M301.8 153.2h.55M296.9 158.4h.55M299.8 177.1h.55M300.1 178.3h.55M298.1 150.2h.55M292.1 185.3h.55M300.6 174.8h.55M298.6 163.4h.55M294.6 148.7h.55M297.7 151.0h.55M297.9 167.5h.55M299.8 167.3h.55M296.4 152.6h.55M294.0 185.7h.55M294.4 149.6h.55M298.1 165.9h.55M300.6 183.0h.55M297.3 154.3h.55M294.7 173.6h.55M294.3 147.5h.55M297.9 162.4h.55M296.8 167.2h.55M300.1 178.1h.55M296.3 166.2h.55M297.6 169.6h.55M300.9 169.3h.55M298.9 172.4h.55M296.0 150.8h.55M294.3 159.8h.55M297.4 182.0h.55M301.3 161.6h.55M298.0 157.2h.55M297.5 168.5h.55M301.0 182.1h.55M295.5 184.8h.55M297.2 153.7h.55M303.5 169.9h.55M298.2 159.9h.55M299.0 174.7h.55M297.4 161.0h.55M296.6 185.0h.55M295.4 152.0h.55M302.2 179.1h.55M299.3 159.7h.55M299.2 160.5h.55M294.5 174.2h.55M298.6 168.4h.55M295.1 155.3h.55M298.7 178.3h.55M298.3 185.9h.55M299.7 165.6h.55M293.4 151.6h.55M300.5 170.3h.55M296.4 175.5h.55M298.5 169.3h.55M303.5 171.2h.55M296.2 184.4h.55M300.5 154.0h.55M298.7 175.0h.55M301.5 166.6h.55M298.0 155.5h.55M294.9 159.4h.55M297.0 153.4h.55M300.0 182.6h.55M297.0 152.1h.55M299.2 166.0h.55M300.3 153.0h.55M299.0 165.9h.55M299.1 184.6h.55M299.2 149.3h.55M293.5 177.1h.55M297.7 153.0h.55M296.8 175.9h.55M300.8 183.1h.55M296.6 148.8h.55M297.6 169.7h.55M299.2 174.4h.55M296.6 176.6h.55M299.5 166.5h.55M297.9 156.3h.55M300.6 153.2h.55M300.1 171.4h.55M298.5 157.1h.55M297.9 151.4h.55M293.8 176.9h.55M298.5 159.7h.55M296.6 168.4h.55M300.6 150.5h.55M301.6 176.1h.55M295.6 150.8h.55M296.7 183.5h.55M297.5 154.5h.55M300.2 166.6h.55M299.6 164.7h.55M297.5 163.8h.55M294.9 181.5h.55M298.6 150.1h.55M300.7 178.1h.55M298.8 174.7h.55M300.9 150.6h.55M300.3 171.1h.55M299.4 155.0h.55M294.8 172.6h.55M302.8 154.2h.55M296.5 148.8h.55M296.7 147.8h.55M299.8 156.6h.55M292.1 175.9h.55M298.0 184.8h.55M296.5 182.0h.55M299.6 175.7h.55M298.4 162.6h.55M298.3 182.1h.55M298.3 184.0h.55M294.2 173.5h.55M297.1 171.0h.55M300.5 183.9h.55M301.5 168.1h.55M295.8 160.6h.55M301.8 184.9h.55M297.4 158.5h.55M295.3 163.8h.55M298.5 181.8h.55M294.0 167.2h.55M298.2 182.6h.55M296.1 180.7h.55M299.0 164.5h.55M294.4 152.9h.55M299.7 171.8h.55M299.2 181.4h.55M295.2 170.6h.55M300.5 182.4h.55M298.2 176.1h.55M297.7 158.7h.55M298.7 162.0h.55M297.6 148.9h.55M297.3 150.7h.55M297.4 170.0h.55M298.1 181.6h.55M298.2 180.0h.55M293.2 170.3h.55M297.9 181.4h.55M298.4 173.9h.55M298.3 159.0h.55M294.3 167.3h.55M296.2 158.9h.55M300.1 164.9h.55M297.2 167.6h.55M300.8 171.3h.55M298.6 154.0h.55M297.1 184.2h.55M295.4 162.2h.55M302.5 158.4h.55M300.7 184.6h.55M296.7 166.9h.55M296.0 178.5h.55M298.8 158.9h.55M297.0 151.1h.55M296.0 158.3h.55M297.7 173.0h.55M299.5 167.8h.55M297.6 164.0h.55M296.0 154.5h.55M297.0 158.8h.55M300.3 184.4h.55M296.5 148.2h.55M299.9 151.8h.55M302.9 170.1h.55M298.5 166.0h.55M299.1 181.3h.55M297.5 155.7h.55M297.7 186.0h.55M298.5 160.0h.55M295.1 159.7h.55M299.6 180.3h.55M298.3 161.6h.55M301.5 173.9h.55M293.1 158.8h.55M296.8 156.4h.55M298.4 161.0h.55M302.5 166.9h.55M299.0 161.2h.55M296.0 159.8h.55M296.0 162.4h.55M296.0 161.8h.55M298.6 165.6h.55M300.7 181.0h.55M294.5 165.7h.55M298.7 180.3h.55M297.7 173.5h.55M302.5 160.2h.55M298.7 171.1h.55M301.2 173.1h.55M299.1 161.2h.55M295.8 182.9h.55M301.6 147.6h.55M297.0 159.7h.55M300.7 160.2h.55M293.6 178.7h.55M296.1 162.5h.55M302.5 153.1h.55M293.1 154.6h.55M299.0 157.4h.55M298.5 163.3h.55M297.8 157.3h.55M302.0 164.0h.55M301.2 164.1h.55M296.6 184.8h.55M302.5 167.9h.55M294.4 152.2h.55M297.3 158.4h.55M299.3 153.4h.55M295.9 148.3h.55M294.2 179.1h.55M298.9 185.6h.55M295.2 151.4h.55M299.1 153.1h.55M298.2 177.2h.55M297.1 179.5h.55M297.0 175.2h.55M296.2 162.4h.55M297.0 185.5h.55M297.3 164.3h.55M297.4 169.4h.55M296.8 155.8h.55M295.1 173.8h.55M294.3 185.7h.55M297.8 182.7h.55M296.2 155.6h.55M301.6 160.9h.55M301.9 156.1h.55M299.4 179.7h.55M294.3 174.4h.55M295.3 154.5h.55M297.5 164.4h.55M293.5 177.9h.55M297.4 167.2h.55M298.9 150.3h.55M294.3 180.8h.55M302.0 176.6h.55M296.8 167.6h.55M298.7 150.8h.55M298.4 150.9h.55M293.6 159.8h.55M295.6 174.5h.55M297.5 148.9h.55M298.0 156.2h.55M294.4 150.5h.55M298.8 165.5h.55M298.9 153.5h.55M300.2 149.1h.55M298.1 148.5h.55M299.2 157.6h.55M294.9 158.6h.55M295.7 171.4h.55M299.2 154.1h.55M295.2 180.9h.55M295.8 179.0h.55M298.2 149.5h.55M294.7 182.2h.55M296.0 161.5h.55M295.3 150.9h.55M301.9 165.5h.55M301.3 162.9h.55M300.1 160.2h.55M296.2 163.0h.55M294.6 175.0h.55M298.0 149.1h.55M298.0 183.2h.55M294.1 161.1h.55M302.6 158.7h.55M302.5 180.3h.55M301.3 158.5h.55M296.0 167.3h.55M296.2 170.0h.55M297.1 185.6h.55M295.1 164.8h.55M296.2 157.4h.55M298.5 165.8h.55M297.0 171.4h.55M299.4 184.4h.55M297.8 172.5h.55M299.9 152.9h.55M298.5 181.6h.55M295.1 149.3h.55M293.7 164.5h.55M298.7 160.7h.55M296.9 171.4h.55M299.0 156.2h.55M296.7 149.1h.55M294.8 149.1h.55M296.4 152.5h.55M294.6 149.3h.55M298.6 181.7h.55M294.7 172.3h.55M296.8 162.1h.55M295.9 176.1h.55M296.6 167.4h.55M300.1 149.9h.55M298.7 182.1h.55M300.2 175.9h.55M299.1 163.7h.55M299.5 163.5h.55M298.1 157.2h.55M298.7 184.4h.55M296.4 174.0h.55M298.2 170.1h.55M300.4 153.8h.55M299.0 173.9h.55M297.2 167.2h.55M298.5 152.9h.55M297.0 169.3h.55M297.9 159.8h.55M299.7 177.2h.55M296.6 172.5h.55M297.6 153.7h.55M299.8 162.5h.55M297.9 166.4h.55M298.0 179.4h.55M299.3 151.7h.55M293.6 161.1h.55M297.2 173.1h.55M297.4 150.3h.55M301.3 184.8h.55M303.6 173.7h.55M295.8 165.2h.55M294.7 181.9h.55M295.0 166.6h.55M297.1 158.8h.55M299.3 174.8h.55M300.7 149.4h.55M299.6 177.8h.55M298.4 180.8h.55M300.5 176.4h.55M300.5 162.4h.55M300.3 185.8h.55M298.3 165.7h.55M301.2 166.9h.55M296.3 177.8h.55M296.0 171.7h.55M297.9 172.7h.55M299.5 168.8h.55M299.3 183.2h.55M300.1 163.6h.55M297.0 149.7h.55M301.1 161.3h.55M298.5 152.7h.55M297.6 161.0h.55M298.0 167.4h.55M298.6 171.1h.55M301.7 168.7h.55M298.5 172.0h.55M301.3 182.2h.55M297.6 161.5h.55M298.3 177.0h.55M295.1 173.9h.55M299.6 164.3h.55M298.7 165.7h.55M301.8 167.7h.55M296.3 171.1h.55M300.4 179.6h.55M297.0 180.3h.55M295.0 177.2h.55M298.1 183.5h.55M296.8 165.0h.55M297.5 154.2h.55M301.9 171.5h.55M301.3 177.8h.55M299.1 175.7h.55M293.8 155.6h.55M297.0 165.9h.55M296.1 183.4h.55M297.2 183.6h.55M297.5 159.9h.55M297.7 175.8h.55M294.1 169.2h.55M297.3 178.3h.55M301.6 166.7h.55M293.4 176.4h.55M298.8 184.1h.55M296.3 151.5h.55M297.0 181.7h.55M298.2 176.2h.55M299.9 174.7h.55M298.6 156.0h.55M298.7 162.7h.55M299.8 167.0h.55M298.0 183.0h.55M299.9 149.3h.55M298.4 166.7h.55M299.5 172.4h.55M292.1 166.2h.55M298.4 151.6h.55M300.3 151.0h.55M300.1 177.0h.55M297.4 184.8h.55M296.1 185.1h.55M471.7 167.0h.55M468.9 176.7h.55M467.5 171.2h.55M469.9 185.3h.55M472.9 179.1h.55M471.9 149.0h.55M471.0 154.4h.55M468.3 177.0h.55M469.0 176.5h.55M466.9 176.5h.55M475.5 150.0h.55M470.3 150.8h.55M469.3 160.4h.55M468.8 182.9h.55M470.7 185.1h.55M473.2 173.6h.55M469.2 178.7h.55M469.6 163.2h.55M472.9 162.6h.55M470.0 163.7h.55M474.1 171.0h.55M468.4 149.0h.55M471.8 175.5h.55M472.5 160.8h.55M469.0 148.0h.55M472.7 179.0h.55M468.5 182.8h.55M476.7 170.3h.55M467.3 149.9h.55M468.0 174.7h.55M468.7 170.2h.55M472.0 160.0h.55M467.9 154.2h.55M469.9 160.0h.55M473.0 168.7h.55M468.9 165.6h.55M469.1 174.3h.55M472.2 150.0h.55M470.6 174.4h.55M471.4 160.6h.55M466.6 150.4h.55M467.5 155.9h.55M474.1 173.2h.55M467.4 148.0h.55M474.9 170.8h.55M469.6 168.2h.55M474.5 163.8h.55M473.4 172.6h.55M470.4 172.1h.55M469.3 184.2h.55M473.6 185.7h.55M467.5 173.8h.55M472.1 151.6h.55M470.1 181.4h.55M473.8 164.2h.55M471.8 179.7h.55M467.6 183.4h.55M469.4 149.2h.55M472.8 178.2h.55M465.5 151.1h.55M470.1 165.0h.55M471.5 168.4h.55M469.2 181.4h.55M470.9 164.5h.55M468.9 162.0h.55M469.7 182.6h.55M471.0 169.0h.55M473.0 150.1h.55M467.8 161.3h.55M471.8 177.2h.55M472.3 177.6h.55M474.8 148.8h.55M471.1 148.1h.55M471.5 171.2h.55M470.0 178.8h.55M475.0 161.0h.55M472.1 180.2h.55M471.2 171.1h.55M467.8 164.0h.55M473.4 171.4h.55M472.4 150.2h.55M468.7 162.7h.55M470.8 171.2h.55M470.3 148.6h.55M472.9 175.2h.55M472.8 165.4h.55M468.3 169.9h.55M473.2 150.6h.55M465.2 159.7h.55M472.2 171.2h.55M471.8 184.3h.55M470.4 160.4h.55M468.5 158.7h.55M470.5 164.8h.55M468.8 151.0h.55M467.9 175.5h.55M469.6 162.1h.55M470.9 183.7h.55M469.2 159.1h.55M465.2 152.2h.55M472.2 182.1h.55M471.2 149.0h.55M470.3 147.6h.55M470.0 184.6h.55M470.9 157.9h.55M465.5 152.9h.55M472.3 157.5h.55M466.7 174.7h.55M470.1 185.2h.55M470.1 153.7h.55M469.2 166.3h.55M469.0 178.3h.55M472.0 164.0h.55M472.1 160.0h.55M467.9 179.4h.55M466.5 172.0h.55M467.0 158.6h.55M469.8 174.8h.55M473.2 177.2h.55M475.7 176.2h.55M467.3 165.1h.55M471.2 173.1h.55M473.2 163.4h.55M472.0 181.6h.55M474.9 184.2h.55M473.1 184.6h.55M470.2 153.5h.55M472.7 178.3h.55M470.2 174.7h.55M468.9 157.2h.55M470.8 181.7h.55M469.7 163.7h.55M472.9 152.2h.55M468.6 177.3h.55M470.5 153.1h.55M470.0 152.9h.55M468.0 170.3h.55M472.3 183.1h.55M467.5 174.4h.55M471.1 184.6h.55M473.3 162.3h.55M469.1 151.6h.55M471.5 165.5h.55M472.0 170.9h.55M473.0 181.5h.55M472.4 181.8h.55M473.6 165.9h.55M467.0 166.8h.55M476.5 163.9h.55M473.6 148.0h.55M473.3 173.1h.55M467.5 156.0h.55M473.6 155.6h.55M472.0 168.4h.55M469.9 179.4h.55M468.3 181.5h.55M471.3 166.2h.55M470.5 176.4h.55M468.4 152.8h.55M474.0 166.8h.55M473.1 150.5h.55M470.6 168.9h.55M472.0 182.0h.55M473.2 185.0h.55M469.4 163.8h.55M466.9 172.7h.55M468.1 160.5h.55M470.1 165.7h.55M474.7 171.1h.55M470.9 160.7h.55M470.1 166.0h.55M466.5 168.6h.55M471.2 179.2h.55M471.0 158.4h.55M470.3 177.3h.55M468.1 181.2h.55M471.9 164.8h.55M471.2 151.2h.55M473.2 150.9h.55M470.7 183.4h.55M470.9 171.4h.55M470.1 175.6h.55M471.1 155.9h.55M470.9 177.1h.55M471.6 175.3h.55M471.6 165.4h.55M469.4 152.1h.55M470.4 162.5h.55M468.0 179.6h.55M470.3 175.7h.55M470.0 160.6h.55M467.0 170.4h.55M471.5 162.5h.55M476.0 171.2h.55M470.2 152.7h.55M466.6 149.2h.55M469.9 159.7h.55M473.6 158.0h.55M470.6 155.0h.55M469.3 165.6h.55M474.2 171.0h.55M473.5 182.5h.55M469.9 166.4h.55M473.5 180.0h.55M467.6 184.7h.55M472.5 164.7h.55M474.0 157.8h.55M472.5 172.6h.55M476.0 153.0h.55M470.4 150.8h.55M472.7 158.3h.55M469.6 167.4h.55M470.3 156.1h.55M473.9 177.6h.55M474.4 184.3h.55M467.8 157.0h.55M469.1 150.3h.55M472.8 167.5h.55M473.4 153.8h.55M474.7 156.6h.55M471.9 167.3h.55M474.4 159.4h.55M467.6 181.7h.55M469.2 152.2h.55M468.8 154.0h.55M470.0 184.0h.55M471.0 178.8h.55M468.8 154.6h.55M471.5 184.1h.55M472.3 182.0h.55M470.3 182.0h.55M468.6 172.6h.55M473.9 163.3h.55M475.1 181.2h.55M476.4 157.3h.55M470.9 181.3h.55M470.1 162.9h.55M470.4 165.3h.55M474.0 150.9h.55M468.7 163.0h.55M474.6 164.8h.55M470.4 157.6h.55M471.8 163.0h.55M470.0 165.6h.55M466.7 176.2h.55M467.8 170.2h.55M471.9 159.3h.55M466.6 151.6h.55M474.1 155.6h.55M468.6 168.6h.55M468.7 152.2h.55M471.6 175.9h.55M470.5 162.6h.55M471.6 160.1h.55M471.8 149.1h.55M469.4 184.7h.55M468.6 179.5h.55M470.8 166.0h.55M468.4 171.4h.55M472.5 147.5h.55M473.3 170.8h.55M470.0 178.8h.55M470.3 174.1h.55M470.2 160.8h.55M466.3 151.1h.55M470.1 152.9h.55M472.2 169.8h.55M478.0 169.2h.55M471.1 185.7h.55M464.7 156.7h.55M478.7 164.2h.55M470.4 147.6h.55M470.1 149.4h.55M469.0 167.1h.55M471.5 168.3h.55M470.0 180.2h.55M465.0 182.9h.55M469.1 151.3h.55M470.9 154.0h.55M474.6 166.9h.55M469.9 161.8h.55M469.8 181.4h.55M473.5 150.6h.55M470.5 153.1h.55M474.1 176.1h.55M471.9 163.4h.55M464.8 168.2h.55M468.9 154.8h.55M470.1 178.0h.55M464.8 160.3h.55M470.3 161.9h.55M469.7 170.7h.55M466.3 185.7h.55M469.6 160.9h.55M468.0 184.2h.55M466.8 147.5h.55M469.9 168.2h.55M465.5 157.2h.55M470.7 170.8h.55M468.6 174.5h.55M466.8 166.7h.55M471.1 170.3h.55M472.3 147.6h.55M467.5 155.8h.55M467.2 172.7h.55M472.7 173.9h.55M476.7 183.8h.55M470.5 174.0h.55M471.3 181.7h.55M474.0 153.8h.55M465.9 162.7h.55M473.9 184.7h.55M470.5 162.4h.55M472.5 176.5h.55M473.9 177.7h.55M471.7 183.7h.55M469.2 150.6h.55M473.1 163.5h.55M469.2 179.0h.55M472.4 150.2h.55M468.6 160.4h.55M471.8 174.1h.55M466.1 177.3h.55M468.1 177.3h.55M475.3 170.5h.55M467.1 156.9h.55M471.1 172.2h.55M474.1 155.3h.55M473.9 147.9h.55M470.6 158.0h.55M469.3 171.0h.55M469.1 169.2h.55M471.0 148.3h.55M470.5 158.4h.55M471.6 163.5h.55M468.4 180.4h.55M475.2 181.4h.55M469.9 168.5h.55M468.3 151.1h.55M471.6 163.9h.55M473.4 163.3h.55M470.8 148.1h.55M468.4 170.6h.55M469.7 181.6h.55M472.6 169.7h.55M469.2 184.9h.55M472.6 158.1h.55M470.4 153.8h.55M473.5 156.4h.55M469.8 181.2h.55M472.1 170.0h.55M469.2 161.9h.55M473.5 182.7h.55M465.4 157.5h.55M472.2 168.7h.55M471.1 176.8h.55M465.5 161.5h.55M470.2 167.4h.55M465.9 169.8h.55M471.3 165.4h.55M466.3 164.9h.55M475.2 148.7h.55M476.4 175.9h.55M466.3 161.3h.55M469.9 153.4h.55M469.6 160.6h.55M470.8 175.0h.55M473.6 170.3h.55M466.3 161.1h.55M472.7 153.9h.55M472.4 150.6h.55M468.3 173.9h.55M474.8 164.0h.55M472.4 169.7h.55M470.9 184.5h.55M467.0 161.0h.55M471.6 184.4h.55M474.7 171.6h.55M472.5 156.3h.55M473.2 165.1h.55M472.1 185.2h.55M469.5 172.7h.55M469.4 163.6h.55M469.7 182.1h.55M467.5 177.5h.55M466.0 183.0h.55M469.9 152.6h.55M472.5 152.3h.55M469.9 155.0h.55M468.2 158.9h.55M470.5 169.1h.55M473.0 185.0h.55M469.5 169.3h.55M469.2 168.5h.55M470.4 159.5h.55M473.1 149.9h.55M470.6 166.4h.55M469.3 182.9h.55M470.8 165.0h.55M468.9 151.5h.55M473.7 164.5h.55M469.3 152.4h.55M470.2 153.4h.55M472.8 181.1h.55M467.8 170.8h.55M468.2 160.1h.55M469.4 167.0h.55M473.7 165.5h.55M475.9 156.2h.55M474.0 154.6h.55M466.3 181.7h.55M473.1 160.4h.55M468.8 148.1h.55M468.9 182.3h.55M468.0 173.1h.55M473.3 174.5h.55M467.9 184.3h.55M475.3 157.2h.55M472.8 157.2h.55M467.0 166.0h.55M472.7 176.0h.55M474.3 174.2h.55M470.7 168.7h.55M471.9 165.0h.55M470.5 172.2h.55M476.1 163.6h.55M470.1 177.2h.55M469.0 152.5h.55M467.5 162.4h.55M468.8 184.9h.55M474.1 155.3h.55M470.3 156.5h.55M471.4 162.3h.55M468.4 167.5h.55M469.9 159.8h.55M471.7 162.2h.55M470.2 178.3h.55M471.2 182.1h.55M472.9 174.8h.55M473.9 177.2h.55M471.6 160.7h.55M468.4 179.5h.55M470.3 165.1h.55M467.9 171.0h.55M471.5 170.2h.55M471.6 170.6h.55M470.6 177.9h.55M469.6 149.7h.55M470.5 154.3h.55M471.1 172.9h.55M470.5 181.3h.55M465.5 182.1h.55M471.2 154.4h.55M473.6 173.3h.55M470.6 178.5h.55M476.2 177.8h.55M472.5 182.7h.55M469.8 169.9h.55M472.8 169.1h.55M467.3 149.2h.55M473.5 155.4h.55M468.6 166.8h.55M466.0 159.5h.55M474.5 148.5h.55M475.6 153.9h.55M470.5 173.1h.55M474.3 163.4h.55M473.7 156.4h.55M467.0 171.8h.55M467.5 151.0h.55M469.2 182.2h.55M468.7 182.7h.55M472.0 178.8h.55M467.4 160.8h.55M466.3 152.5h.55M465.5 177.6h.55M469.9 177.9h.55M470.2 175.6h.55M472.2 175.0h.55M478.2 177.7h.55M469.1 158.3h.55M470.6 178.4h.55M472.2 179.6h.55M469.1 152.3h.55M468.6 174.8h.55M474.5 154.1h.55M474.2 178.8h.55M469.9 185.6h.55M472.4 159.7h.55M467.7 162.5h.55M475.1 184.9h.55M464.8 171.6h.55M469.4 175.2h.55M473.2 153.7h.55M470.0 159.9h.55M470.0 167.7h.55M474.8 168.1h.55M468.3 155.5h.55M468.7 185.9h.55M470.8 147.9h.55M468.7 168.7h.55M471.4 170.6h.55M470.2 184.9h.55M470.7 159.7h.55M468.1 158.3h.55M471.6 158.1h.55M474.8 176.4h.55M474.5 162.9h.55M471.2 173.8h.55M470.1 177.6h.55M473.5 152.4h.55M468.1 173.6h.55M468.2 176.2h.55M471.6 173.4h.55M469.0 182.2h.55M470.9 167.8h.55M470.1 173.3h.55M473.2 158.4h.55M466.7 172.7h.55M471.7 168.0h.55M469.4 185.1h.55M468.7 185.8h.55M472.5 149.9h.55M467.3 161.1h.55M469.6 172.2h.55M476.3 173.3h.55M464.7 156.5h.55M472.6 172.4h.55M470.4 169.0h.55M474.7 185.9h.55M469.4 177.9h.55M469.7 153.8h.55M469.6 161.5h.55M469.7 172.5h.55M471.9 182.2h.55M466.6 161.9h.55M469.4 162.3h.55M469.7 175.3h.55M469.5 174.3h.55M467.4 178.9h.55M475.5 175.3h.55M467.5 171.9h.55M469.4 180.3h.55M469.1 170.6h.55M467.3 166.0h.55M471.7 162.7h.55M465.8 182.1h.55M469.6 183.8h.55M470.4 180.5h.55M470.3 148.3h.55M472.4 165.7h.55M468.8 162.2h.55M471.1 183.2h.55M466.0 159.0h.55M473.0 168.7h.55M470.6 170.2h.55M472.3 159.0h.55M473.2 155.2h.55M473.9 150.1h.55M471.3 175.2h.55M468.2 160.0h.55M467.4 180.2h.55M473.5 157.3h.55M468.3 181.9h.55M468.5 159.6h.55M470.6 161.2h.55M465.8 156.2h.55M471.4 166.7h.55M471.7 165.1h.55M471.6 162.8h.55M469.3 148.1h.55M475.2 149.4h.55M471.0 160.5h.55M470.8 157.4h.55M470.6 151.8h.55M468.3 166.8h.55M473.4 153.8h.55M469.6 178.7h.55M472.2 176.4h.55M471.6 175.3h.55M468.0 150.4h.55M470.4 167.1h.55M469.3 175.6h.55M471.2 156.9h.55M470.5 169.0h.55M472.8 167.7h.55M470.5 164.0h.55M468.0 163.7h.55M476.0 159.1h.55M470.8 177.2h.55M471.0 174.9h.55M465.8 181.4h.55M469.8 153.8h.55M473.1 170.3h.55M469.8 157.0h.55M467.9 149.9h.55M468.3 150.3h.55M471.1 164.6h.55M470.2 175.3h.55M470.7 177.6h.55M472.7 163.0h.55M473.0 159.2h.55M472.6 157.8h.55M471.7 178.4h.55M469.4 157.8h.55M474.0 154.2h.55M469.5 181.8h.55M470.8 180.7h.55M472.4 184.1h.55M476.0 165.9h.55M472.2 167.8h.55M476.0 151.6h.55M470.9 178.2h.55M469.0 183.7h.55M471.6 180.1h.55M470.9 168.9h.55M469.3 152.9h.55M465.3 170.0h.55M469.1 180.4h.55M469.2 162.6h.55M473.3 172.1h.55M469.6 166.2h.55M468.7 176.9h.55M470.4 174.8h.55M472.7 182.5h.55M472.0 155.7h.55M474.1 148.0h.55M471.3 184.9h.55M471.9 178.5h.55M473.0 178.4h.55M471.6 162.0h.55M469.8 171.4h.55M469.0 162.2h.55M471.7 161.2h.55M474.0 161.3h.55M468.5 168.5h.55M468.4 179.2h.55M473.4 162.0h.55M469.2 148.8h.55M474.0 159.9h.55M471.2 163.3h.55M473.5 156.2h.55M471.8 169.3h.55M474.1 150.2h.55M471.3 159.5h.55M470.2 154.8h.55M469.4 150.8h.55M470.0 149.4h.55M469.7 170.2h.55M470.5 171.4h.55M468.9 153.4h.55M467.9 185.1h.55M470.0 174.3h.55M470.5 149.7h.55M469.2 179.1h.55M473.0 171.1h.55M471.2 181.0h.55M468.6 162.0h.55M471.4 159.7h.55M468.8 151.2h.55M472.3 172.9h.55M467.2 161.6h.55M466.4 172.4h.55M471.3 149.6h.55M468.6 174.6h.55M475.2 185.4h.55M469.7 167.4h.55M471.4 164.4h.55M464.9 177.0h.55M470.1 160.7h.55M467.9 159.9h.55M468.0 167.8h.55M470.9 160.5h.55M469.1 161.7h.55M468.9 147.7h.55M468.4 157.5h.55M473.9 160.7h.55M470.1 152.9h.55M471.1 170.6h.55M470.8 165.9h.55M468.7 182.6h.55M469.4 174.7h.55M471.8 163.2h.55M471.8 179.5h.55M471.2 156.0h.55M471.6 163.9h.55M471.6 172.6h.55M469.0 163.7h.55M468.7 155.8h.55M468.5 163.5h.55M470.1 151.0h.55M473.3 170.3h.55M466.5 150.3h.55M467.1 147.7h.55M468.8 148.5h.55M467.4 167.8h.55M470.5 173.3h.55M472.1 161.6h.55M471.3 159.8h.55M475.4 177.1h.55M470.0 172.2h.55M472.6 158.6h.55M466.6 161.9h.55M472.1 174.6h.55M469.9 150.6h.55M467.0 184.7h.55M468.1 156.8h.55M469.9 162.8h.55M474.1 174.2h.55M466.8 179.8h.55M467.7 174.2h.55M473.8 156.6h.55M472.6 159.4h.55M468.8 177.6h.55M473.3 153.6h.55M468.6 160.5h.55M465.4 154.7h.55M469.6 153.9h.55M467.2 167.9h.55M473.8 147.5h.55M468.5 153.4h.55M470.0 152.7h.55M469.2 154.7h.55M469.3 176.6h.55M469.5 150.4h.55M471.9 158.8h.55M468.3 177.0h.55M470.7 165.5h.55M470.7 159.6h.55M470.6 178.9h.55M471.4 184.8h.55M468.5 168.0h.55M468.1 181.1h.55M467.6 175.4h.55M471.4 161.1h.55M471.8 161.6h.55M473.2 157.1h.55M470.5 155.7h.55M470.8 148.3h.55M474.0 157.5h.55M471.2 181.2h.55M469.6 162.4h.55M470.5 148.3h.55M467.5 184.2h.55M470.8 162.4h.55M471.8 183.0h.55M466.5 160.0h.55M472.2 159.5h.55M472.2 184.5h.55M471.3 164.1h.55M471.2 173.1h.55M469.8 169.2h.55M471.6 170.1h.55M475.0 162.0h.55M468.9 166.3h.55M471.6 181.0h.55M468.8 151.8h.55M468.1 149.5h.55M471.3 162.7h.55M473.7 178.7h.55M472.0 149.7h.55M476.8 173.5h.55M465.8 150.6h.55M471.3 178.1h.55M470.4 176.8h.55M467.5 173.3h.55M468.6 180.2h.55M469.6 157.2h.55M470.5 154.6h.55M470.6 155.7h.55M471.8 178.2h.55M469.9 154.9h.55M467.6 176.5h.55M469.2 181.6h.55M472.6 170.5h.55M471.5 179.7h.55M468.4 165.4h.55M464.8 178.5h.55M465.6 152.7h.55M476.2 182.3h.55M471.9 182.4h.55M473.6 176.5h.55M474.6 175.8h.55M468.6 185.3h.55M469.8 148.5h.55M466.2 183.7h.55M472.9 150.8h.55M469.4 165.2h.55M469.7 174.7h.55M472.0 171.3h.55M465.5 155.4h.55M466.4 182.0h.55M469.4 185.6h.55M469.1 170.4h.55M471.5 170.0h.55M470.7 185.6h.55M471.4 175.3h.55M470.9 171.6h.55M471.0 168.3h.55M469.9 163.6h.55M471.2 182.0h.55M476.1 172.9h.55M472.6 168.9h.55M466.6 184.7h.55M475.5 163.6h.55M472.5 158.7h.55M465.3 172.5h.55M470.1 176.0h.55M469.6 178.1h.55M468.5 170.5h.55M471.6 151.7h.55M471.8 164.3h.55M472.4 151.8h.55M473.3 177.1h.55M473.6 158.2h.55M467.2 174.4h.55M469.1 153.1h.55M472.5 178.2h.55M469.1 158.3h.55M471.2 155.6h.55M470.4 167.5h.55M473.2 178.8h.55M474.3 151.3h.55M469.2 169.4h.55M467.5 151.7h.55M473.1 167.4h.55M468.8 156.0h.55M470.1 157.0h.55M473.9 173.2h.55M470.8 175.6h.55M470.7 184.4h.55M468.2 162.3h.55M469.7 172.9h.55M476.0 153.5h.55M469.7 148.4h.55M472.5 148.8h.55M473.6 152.7h.55M469.0 166.3h.55M471.4 157.9h.55M469.3 166.7h.55M474.5 171.0h.55M472.0 181.7h.55M471.7 156.7h.55M474.8 184.8h.55M470.8 159.9h.55M469.8 167.1h.55M473.4 162.3h.55M468.5 147.6h.55M466.5 163.2h.55M465.9 150.1h.55M470.4 185.1h.55M470.1 162.3h.55M471.6 150.0h.55M470.3 160.1h.55M471.1 163.0h.55M467.6 169.3h.55M466.2 179.2h.55M470.9 179.5h.55M472.1 178.4h.55M466.6 149.6h.55M472.2 180.4h.55M470.3 150.9h.55M473.3 180.9h.55M471.2 171.1h.55M469.8 156.1h.55M467.6 184.6h.55M471.5 165.2h.55M472.6 169.3h.55M472.4 147.8h.55M474.4 170.2h.55M468.7 158.3h.55M468.7 183.7h.55M472.1 155.7h.55M472.3 156.9h.55M466.0 184.5h.55M473.1 182.4h.55M468.0 165.9h.55M472.2 161.1h.55M472.4 184.1h.55M467.1 152.0h.55M469.5 162.1h.55M471.2 150.2h.55M469.8 161.0h.55M469.8 184.1h.55M473.6 177.5h.55M469.6 165.8h.55M467.9 167.9h.55M473.1 160.5h.55M466.9 150.8h.55M469.2 185.9h.55M472.9 154.6h.55M473.7 150.7h.55M471.6 170.2h.55M470.0 163.4h.55M474.6 157.8h.55M469.8 162.2h.55M468.5 178.4h.55M474.1 164.8h.55M473.5 182.0h.55M471.0 154.5h.55M472.2 156.2h.55M471.9 178.7h.55M473.5 153.1h.55M465.1 168.5h.55M471.5 182.8h.55M470.6 159.5h.55M470.3 180.9h.55M467.1 169.2h.55M473.8 149.1h.55M470.8 165.0h.55M471.9 179.0h.55M470.3 179.3h.55M470.6 147.7h.55M473.4 163.0h.55M468.4 161.1h.55M470.2 167.4h.55M473.1 185.7h.55M470.9 181.8h.55M475.3 172.1h.55M473.4 181.3h.55M468.5 152.0h.55M467.1 183.4h.55M472.8 155.4h.55M468.5 157.8h.55M468.7 166.9h.55M469.5 174.7h.55M470.5 169.9h.55M469.7 148.5h.55M469.0 168.4h.55M473.9 156.4h.55M470.5 173.4h.55M471.8 151.4h.55M470.9 154.6h.55M473.5 173.7h.55M469.1 162.9h.55M473.7 159.9h.55M472.3 155.3h.55M475.5 176.2h.55M472.7 161.8h.55M472.1 184.8h.55M477.4 168.7h.55M466.7 169.6h.55M473.2 160.8h.55M476.2 157.7h.55M469.6 185.4h.55M475.0 184.6h.55M471.1 154.4h.55M469.1 157.3h.55M469.9 180.2h.55M472.7 172.1h.55M475.2 153.8h.55M471.1 177.9h.55M470.6 172.3h.55M476.9 171.4h.55M469.8 150.5h.55M475.4 179.6h.55M468.2 163.1h.55M469.7 148.4h.55M467.8 161.9h.55M470.7 155.3h.55M468.2 155.8h.55M469.2 156.3h.55M470.9 175.3h.55M471.1 154.5h.55M469.6 151.5h.55M468.4 155.9h.55M470.2 169.3h.55M468.4 150.8h.55M473.2 178.6h.55M469.7 156.1h.55M472.3 174.1h.55M469.9 182.3h.55M469.8 181.2h.55M469.7 177.9h.55M469.1 149.6h.55M467.5 159.2h.55M469.7 178.6h.55M472.2 152.4h.55M470.5 154.2h.55M472.1 181.4h.55M471.3 177.4h.55M470.8 159.1h.55" stroke="#555" stroke-width="0.55" fill="none"/>
<path d="M296.9 135.5h.6M295.6 134.2h.6M298.6 130.9h.6M294.9 133.6h.6M299.3 128.7h.6M298.4 133.9h.6M295.4 135.4h.6M293.9 137.8h.6M295.9 138.3h.6M298.3 133.7h.6M294.0 137.1h.6M294.7 144.1h.6M299.3 134.4h.6M298.1 136.7h.6M299.4 135.3h.6M300.6 132.7h.6M302.8 126.2h.6M293.1 136.2h.6M297.9 126.2h.6M294.4 130.0h.6M301.8 136.6h.6M293.1 127.0h.6M298.4 127.5h.6M296.2 130.6h.6M298.2 136.2h.6M295.9 130.9h.6M298.8 141.2h.6M299.2 131.7h.6M300.8 132.8h.6M293.9 136.6h.6M302.9 128.1h.6M300.3 127.6h.6M297.8 132.9h.6M297.0 132.9h.6M300.0 131.0h.6M297.3 132.0h.6M298.8 130.3h.6M300.3 134.9h.6M296.2 127.3h.6M297.2 138.3h.6M299.9 133.5h.6M304.0 140.9h.6M299.6 140.1h.6M297.3 131.7h.6M298.7 124.4h.6M298.1 131.0h.6M302.0 136.1h.6M302.7 131.3h.6M302.4 134.1h.6M299.6 135.4h.6M294.3 137.8h.6M296.7 136.5h.6M297.9 128.7h.6M297.1 134.8h.6M297.1 141.6h.6M301.6 133.9h.6M296.9 140.4h.6M298.1 139.0h.6M294.0 123.8h.6M300.3 137.8h.6M297.5 132.6h.6M299.4 135.9h.6M297.8 133.5h.6M298.7 138.6h.6M300.1 121.0h.6M299.1 131.9h.6M301.2 136.9h.6M296.5 133.0h.6M294.8 134.0h.6M470.5 136.2h.6M469.9 131.8h.6M467.2 136.4h.6M474.2 133.3h.6M471.6 134.3h.6M471.2 132.2h.6M474.1 134.9h.6M469.9 127.1h.6M474.1 132.3h.6M472.7 130.7h.6M467.4 136.4h.6M474.5 124.9h.6M471.6 132.8h.6M466.4 142.2h.6M469.6 136.0h.6M471.1 142.9h.6M468.3 131.3h.6M471.9 137.0h.6M471.0 139.1h.6M474.5 135.4h.6M466.9 128.5h.6M466.1 130.9h.6M473.7 141.6h.6M471.6 137.8h.6M469.9 131.9h.6M473.2 125.0h.6M470.4 128.9h.6M471.8 136.3h.6M471.6 140.3h.6M471.3 139.7h.6M471.7 123.0h.6M470.9 128.8h.6M469.9 121.2h.6M470.3 131.6h.6M467.7 132.1h.6M473.5 133.7h.6M473.1 128.8h.6M476.2 128.7h.6M467.3 134.3h.6M472.8 139.9h.6M473.3 138.2h.6M466.4 134.3h.6M469.2 122.4h.6M475.5 127.3h.6M473.0 137.6h.6M470.1 128.3h.6M475.0 133.3h.6M471.5 134.0h.6M472.0 136.5h.6M471.5 138.3h.6M470.9 126.5h.6M468.6 136.2h.6M468.3 134.5h.6M473.3 130.0h.6M470.9 126.9h.6M467.3 135.8h.6M471.7 127.7h.6M469.7 129.8h.6M470.0 130.1h.6M469.5 144.7h.6M469.5 126.6h.6M469.8 139.5h.6M470.4 136.7h.6M470.0 131.2h.6M475.3 134.7h.6M469.3 136.9h.6M466.8 125.7h.6M470.1 131.2h.6M471.3 127.0h.6M472.3 132.3h.6M470.2 135.0h.6M469.9 138.6h.6M468.4 134.8h.6M470.5 121.7h.6M468.0 130.7h.6M472.3 126.8h.6M469.3 130.8h.6M466.7 130.6h.6" stroke="#777" stroke-width="0.6" fill="none"/>
<path d="M295.2 138.0h.6M297.5 136.5h.6M295.0 138.1h.6M294.4 136.5h.6M295.6 137.1h.6M296.1 135.9h.6M297.1 137.2h.6M296.4 138.3h.6M298.2 137.1h.6M295.5 136.6h.6M295.9 135.8h.6M295.2 136.3h.6M296.6 137.5h.6M293.1 135.3h.6M295.3 135.8h.6M296.0 135.1h.6M295.7 137.0h.6M296.5 136.4h.6M296.5 137.5h.6M295.6 135.8h.6M295.4 137.1h.6M296.3 135.2h.6M294.2 135.3h.6M298.2 137.2h.6M296.2 135.7h.6M470.6 137.7h.6M468.3 136.0h.6M468.6 134.6h.6M472.2 136.0h.6M469.8 136.3h.6M469.1 135.2h.6M468.2 136.6h.6M468.7 137.5h.6M468.8 137.2h.6M470.1 135.6h.6M470.9 136.6h.6M472.4 136.2h.6M470.7 137.5h.6M467.7 135.2h.6M467.7 137.6h.6M469.5 137.7h.6M468.2 137.6h.6M469.4 137.4h.6M470.2 136.9h.6M471.1 135.4h.6M469.0 137.8h.6M468.2 137.5h.6M469.5 137.1h.6M466.6 135.9h.6M470.3 135.6h.6" stroke="#444" stroke-width="0.6" fill="none"/>
<path d="M385.7 146.0h.6M386.1 164.8h.6M381.4 149.4h.6M381.4 165.9h.6M388.1 169.3h.6M389.4 154.5h.6M380.9 140.1h.6M390.1 154.6h.6M388.4 143.1h.6M384.1 184.0h.6M389.1 126.6h.6M382.1 154.8h.6M389.4 168.4h.6M388.6 172.6h.6M387.9 166.5h.6M381.4 132.7h.6M382.9 173.3h.6M390.7 134.8h.6M383.9 153.8h.6M387.4 158.0h.6M391.2 156.8h.6M384.1 148.5h.6M389.6 148.4h.6M387.2 145.7h.6M383.8 139.4h.6M388.4 146.4h.6M381.1 164.4h.6M383.1 153.7h.6M381.8 177.5h.6M386.2 148.8h.6M390.3 152.6h.6M389.9 138.8h.6M391.0 141.8h.6M385.2 185.5h.6M382.9 152.9h.6M384.4 154.4h.6M385.6 150.0h.6M386.8 145.4h.6M390.6 163.7h.6M380.3 143.9h.6M383.7 168.1h.6M381.4 146.8h.6M388.3 167.7h.6M384.6 149.1h.6M380.9 171.7h.6M378.5 141.6h.6M387.9 182.4h.6M383.7 159.7h.6M382.4 156.1h.6M382.8 159.5h.6M384.5 136.6h.6M378.5 136.4h.6M384.8 164.4h.6M389.7 168.4h.6M393.6 168.8h.6M392.5 165.5h.6M386.3 124.3h.6M389.1 150.3h.6M383.4 130.7h.6M390.3 152.4h.6M383.2 139.7h.6M384.6 159.8h.6M387.5 154.3h.6M385.9 153.6h.6M383.2 171.3h.6M384.4 143.1h.6M392.2 137.1h.6M383.1 154.4h.6M384.3 151.1h.6M389.0 169.0h.6M379.4 183.2h.6M380.1 135.7h.6M387.8 136.0h.6M380.0 166.1h.6M387.1 158.8h.6M390.9 169.5h.6M383.1 144.8h.6M386.7 145.7h.6M386.1 166.9h.6M386.1 129.5h.6M391.9 151.5h.6M386.5 125.8h.6M384.8 131.5h.6M391.6 144.7h.6M379.2 150.5h.6M381.1 153.5h.6M381.1 124.4h.6M384.2 147.6h.6M381.7 163.7h.6M388.5 151.0h.6M384.6 158.4h.6M388.8 155.4h.6M380.3 162.9h.6M394.9 162.9h.6M386.3 143.3h.6M378.6 160.8h.6M387.4 159.8h.6M385.6 173.4h.6M384.5 121.8h.6M384.4 155.3h.6M388.3 161.8h.6M387.9 160.0h.6M386.2 133.5h.6M383.7 169.0h.6M384.4 145.4h.6M382.6 155.5h.6M381.6 124.3h.6M392.8 148.4h.6M385.3 162.5h.6M392.9 141.0h.6M384.4 147.0h.6M389.0 167.8h.6M391.6 145.3h.6M379.9 142.2h.6M380.6 159.4h.6M391.2 150.5h.6M384.4 153.1h.6M382.4 158.1h.6M383.9 155.1h.6M381.6 161.2h.6M386.4 138.4h.6M384.7 129.7h.6M379.1 134.3h.6M386.7 146.0h.6M384.8 156.9h.6M383.8 149.5h.6M381.5 162.4h.6M383.9 181.9h.6M380.2 150.9h.6M386.6 144.5h.6M393.9 156.7h.6M386.7 125.2h.6M386.7 132.8h.6M387.3 158.5h.6M384.4 143.3h.6M381.6 142.0h.6M391.4 139.4h.6M383.7 159.2h.6M379.3 145.6h.6M389.7 156.5h.6M387.3 164.1h.6M388.1 161.7h.6M390.9 133.5h.6M388.9 176.1h.6M384.5 148.0h.6M380.7 162.9h.6M386.0 161.5h.6M384.7 153.1h.6M382.4 169.9h.6M384.3 172.7h.6M388.7 140.4h.6M380.3 169.3h.6M386.6 146.6h.6M387.3 146.7h.6M388.0 143.0h.6M383.0 163.5h.6M386.5 129.0h.6M387.1 163.9h.6M378.1 136.9h.6M380.2 136.4h.6M382.0 183.3h.6M380.7 137.0h.6M383.9 173.9h.6M383.2 167.9h.6M389.2 145.7h.6M386.6 168.6h.6M385.9 178.7h.6M386.6 178.2h.6M380.8 156.2h.6M382.6 145.8h.6M384.0 160.9h.6M378.9 124.5h.6M388.1 157.4h.6M388.9 166.0h.6M386.2 143.9h.6M387.0 137.2h.6M379.5 147.0h.6M394.2 136.7h.6M390.5 149.5h.6M392.1 144.3h.6M380.0 141.9h.6M384.1 161.5h.6M381.9 155.7h.6M394.8 152.8h.6M381.7 152.2h.6M383.5 156.8h.6M381.6 147.5h.6M388.0 152.5h.6M386.5 183.6h.6M381.4 158.2h.6M381.1 165.2h.6M382.5 173.4h.6M380.2 163.2h.6M388.0 168.8h.6M387.0 144.8h.6M385.4 153.2h.6M385.0 168.8h.6M381.0 147.3h.6M390.4 150.2h.6M387.2 143.7h.6M385.1 173.5h.6M391.6 153.0h.6M382.2 176.8h.6M389.3 150.2h.6M384.6 151.5h.6M380.9 145.7h.6M386.2 124.8h.6M388.8 154.2h.6" stroke="#8a8a8a" stroke-width="0.6" fill="none"/>
<rect x="237.7" y="29.6" width="74" height="73.8" fill="none" stroke="#555" stroke-width="0.9"/>
<line x1="236.2" y1="37.1" x2="237.7" y2="37.1" stroke="#444" stroke-width="0.6" />
<line x1="236.2" y1="53.6" x2="237.7" y2="53.6" stroke="#444" stroke-width="0.6" />
<line x1="236.2" y1="72.6" x2="237.7" y2="72.6" stroke="#444" stroke-width="0.6" />
<line x1="236.2" y1="86.6" x2="237.7" y2="86.6" stroke="#444" stroke-width="0.6" />
<line x1="236.2" y1="99.6" x2="237.7" y2="99.6" stroke="#444" stroke-width="0.6" />
<line x1="239.7" y1="104.4" x2="309.7" y2="104.4" stroke="#666" stroke-width="1.2" stroke-dasharray="1.4,1.1"/>
<rect x="236.5" y="86.6" width="1.2" height="2" fill="#111"/>
<rect x="253.7" y="103.4" width="3" height="1.2" fill="#111"/>
<rect x="237.7" y="112.5" width="74" height="73.8" fill="none" stroke="#555" stroke-width="0.9"/>
<line x1="236.2" y1="120" x2="237.7" y2="120" stroke="#444" stroke-width="0.6" />
<line x1="236.2" y1="136.5" x2="237.7" y2="136.5" stroke="#444" stroke-width="0.6" />
<line x1="236.2" y1="155.5" x2="237.7" y2="155.5" stroke="#444" stroke-width="0.6" />
<line x1="236.2" y1="169.5" x2="237.7" y2="169.5" stroke="#444" stroke-width="0.6" />
<line x1="236.2" y1="182.5" x2="237.7" y2="182.5" stroke="#444" stroke-width="0.6" />
<line x1="239.7" y1="187.3" x2="309.7" y2="187.3" stroke="#666" stroke-width="1.2" stroke-dasharray="1.4,1.1"/>
<rect x="236.5" y="169.5" width="1.2" height="2" fill="#111"/>
<rect x="253.7" y="186.3" width="3" height="1.2" fill="#111"/>
<rect x="290.2" y="29.6" width="13.4" height="32.8" fill="none" stroke="#555" stroke-width="0.8"/>
<line x1="290.2" y1="112.5" x2="290.2" y2="186.3" stroke="#444" stroke-width="0.9" />
<line x1="237.7" y1="145.6" x2="311.7" y2="145.6" stroke="#444" stroke-width="0.9" />
<line x1="294.3" y1="62" x2="294.3" y2="110" stroke="#000" stroke-width="1.4" />
<path d="M290.7,108.2 L294.3,116.9 L297.9,108.2 L294.3,110.6 Z" fill="#000"/>
<rect x="324" y="29.6" width="74" height="73.8" fill="none" stroke="#555" stroke-width="0.9"/>
<line x1="322.5" y1="37.1" x2="324" y2="37.1" stroke="#444" stroke-width="0.6" />
<line x1="322.5" y1="53.6" x2="324" y2="53.6" stroke="#444" stroke-width="0.6" />
<line x1="322.5" y1="72.6" x2="324" y2="72.6" stroke="#444" stroke-width="0.6" />
<line x1="322.5" y1="86.6" x2="324" y2="86.6" stroke="#444" stroke-width="0.6" />
<line x1="322.5" y1="99.6" x2="324" y2="99.6" stroke="#444" stroke-width="0.6" />
<line x1="326" y1="104.4" x2="396" y2="104.4" stroke="#666" stroke-width="1.2" stroke-dasharray="1.4,1.1"/>
<rect x="322.8" y="86.6" width="1.2" height="2" fill="#111"/>
<rect x="340" y="103.4" width="3" height="1.2" fill="#111"/>
<rect x="324" y="112.5" width="74" height="73.8" fill="none" stroke="#555" stroke-width="0.9"/>
<line x1="322.5" y1="120" x2="324" y2="120" stroke="#444" stroke-width="0.6" />
<line x1="322.5" y1="136.5" x2="324" y2="136.5" stroke="#444" stroke-width="0.6" />
<line x1="322.5" y1="155.5" x2="324" y2="155.5" stroke="#444" stroke-width="0.6" />
<line x1="322.5" y1="169.5" x2="324" y2="169.5" stroke="#444" stroke-width="0.6" />
<line x1="322.5" y1="182.5" x2="324" y2="182.5" stroke="#444" stroke-width="0.6" />
<line x1="326" y1="187.3" x2="396" y2="187.3" stroke="#666" stroke-width="1.2" stroke-dasharray="1.4,1.1"/>
<rect x="322.8" y="169.5" width="1.2" height="2" fill="#111"/>
<rect x="340" y="186.3" width="3" height="1.2" fill="#111"/>
<rect x="376.6" y="29.6" width="13.9" height="32.8" fill="none" stroke="#555" stroke-width="0.8"/>
<line x1="376.6" y1="112.5" x2="376.6" y2="186.3" stroke="#444" stroke-width="0.9" />
<line x1="324" y1="145.6" x2="398" y2="145.6" stroke="#444" stroke-width="0.9" />
<line x1="382.5" y1="62" x2="382.5" y2="110" stroke="#000" stroke-width="1.4" />
<path d="M378.9,108.2 L382.5,116.9 L386.1,108.2 L382.5,110.6 Z" fill="#000"/>
<rect x="410.4" y="29.6" width="73.8" height="73.8" fill="none" stroke="#555" stroke-width="0.9"/>
<line x1="408.9" y1="37.1" x2="410.4" y2="37.1" stroke="#444" stroke-width="0.6" />
<line x1="408.9" y1="53.6" x2="410.4" y2="53.6" stroke="#444" stroke-width="0.6" />
<line x1="408.9" y1="72.6" x2="410.4" y2="72.6" stroke="#444" stroke-width="0.6" />
<line x1="408.9" y1="86.6" x2="410.4" y2="86.6" stroke="#444" stroke-width="0.6" />
<line x1="408.9" y1="99.6" x2="410.4" y2="99.6" stroke="#444" stroke-width="0.6" />
<line x1="412.4" y1="104.4" x2="482.2" y2="104.4" stroke="#666" stroke-width="1.2" stroke-dasharray="1.4,1.1"/>
<rect x="409.2" y="86.6" width="1.2" height="2" fill="#111"/>
<rect x="426.4" y="103.4" width="3" height="1.2" fill="#111"/>
<rect x="410.4" y="112.5" width="73.8" height="73.8" fill="none" stroke="#555" stroke-width="0.9"/>
<line x1="408.9" y1="120" x2="410.4" y2="120" stroke="#444" stroke-width="0.6" />
<line x1="408.9" y1="136.5" x2="410.4" y2="136.5" stroke="#444" stroke-width="0.6" />
<line x1="408.9" y1="155.5" x2="410.4" y2="155.5" stroke="#444" stroke-width="0.6" />
<line x1="408.9" y1="169.5" x2="410.4" y2="169.5" stroke="#444" stroke-width="0.6" />
<line x1="408.9" y1="182.5" x2="410.4" y2="182.5" stroke="#444" stroke-width="0.6" />
<line x1="412.4" y1="187.3" x2="482.2" y2="187.3" stroke="#666" stroke-width="1.2" stroke-dasharray="1.4,1.1"/>
<rect x="409.2" y="169.5" width="1.2" height="2" fill="#111"/>
<rect x="426.4" y="186.3" width="3" height="1.2" fill="#111"/>
<rect x="463.5" y="29.6" width="13" height="32.8" fill="none" stroke="#555" stroke-width="0.8"/>
<line x1="463.5" y1="112.5" x2="463.5" y2="186.3" stroke="#444" stroke-width="0.9" />
<line x1="410.4" y1="145.6" x2="484.2" y2="145.6" stroke="#444" stroke-width="0.9" />
<line x1="467.8" y1="62" x2="467.8" y2="110" stroke="#000" stroke-width="1.4" />
<path d="M464.2,108.2 L467.8,116.9 L471.4,108.2 L467.8,110.6 Z" fill="#000"/>
<text transform="translate(288.5,39.9) scale(0.87,1)" font-size="9.2" text-anchor="end">7.8x10<tspan font-size="5.75" dy="-3.79">4</tspan></text>
<text transform="translate(376.2,40.1) scale(0.87,1)" font-size="9.2" text-anchor="end">0.3x10<tspan font-size="5.75" dy="-3.79">4</tspan></text>
<text transform="translate(461.2,40.1) scale(0.87,1)" font-size="9.2" text-anchor="end">6.7x10<tspan font-size="5.75" dy="-3.79">4</tspan></text>
<text transform="translate(309.8,121.2) scale(0.87,1)" font-size="9.2" text-anchor="end" font-weight="normal" fill="#000" >3.7</text>
<text transform="translate(396.6,120.8) scale(0.87,1)" font-size="9.2" text-anchor="end" font-weight="normal" fill="#000" >49</text>
<text transform="translate(483.2,121.2) scale(0.87,1)" font-size="9.2" text-anchor="end" font-weight="normal" fill="#000" >6.9</text>
<text transform="translate(228.1,56.1) rotate(-90) scale(0.87,1)" font-size="9.2" text-anchor="middle">CD138</text>
<line x1="225" y1="97" x2="225" y2="77" stroke="#333" stroke-width="1.1" />
<path d="M222.6,78 L225,73.4 L227.4,78 Z" fill="#222"/>
<text transform="translate(230.1,155.4) rotate(-90) scale(0.87,1)" font-size="9.2" text-anchor="middle">7-AAD</text>
<path d="M225.8,176 L225.8,194.4 L244,194.4" fill="none" stroke="#222" stroke-width="1.1"/>
<path d="M223.4,177 L225.8,172.2 L228.2,177 Z" fill="#222"/>
<path d="M243,192 L247.8,194.4 L243,196.8 Z" fill="#222"/>
<text transform="translate(254.4,198.5) scale(0.87,1)" font-size="9.2" text-anchor="start" font-weight="normal" fill="#000" >eFluor</text>
<line x1="47.3" y1="224.4" x2="47.3" y2="343.3" stroke="#000" stroke-width="1.7" />
<line x1="46.5" y1="342.5" x2="124" y2="342.5" stroke="#000" stroke-width="1.7" />
<line x1="44" y1="342.5" x2="47.3" y2="342.5" stroke="#000" stroke-width="1.1" />
<text transform="translate(39.9,345.9) scale(0.87,1)" font-size="9.2" text-anchor="end" font-weight="normal" fill="#000" >0</text>
<line x1="44" y1="319.46" x2="47.3" y2="319.46" stroke="#000" stroke-width="1.1" />
<text transform="translate(39.9,322.86) scale(0.87,1)" font-size="9.2" text-anchor="end" font-weight="normal" fill="#000" >20</text>
<line x1="44" y1="296.42" x2="47.3" y2="296.42" stroke="#000" stroke-width="1.1" />
<text transform="translate(39.9,299.82) scale(0.87,1)" font-size="9.2" text-anchor="end" font-weight="normal" fill="#000" >40</text>
<line x1="44" y1="273.38" x2="47.3" y2="273.38" stroke="#000" stroke-width="1.1" />
<text transform="translate(39.9,276.78) scale(0.87,1)" font-size="9.2" text-anchor="end" font-weight="normal" fill="#000" >60</text>
<line x1="44" y1="250.34" x2="47.3" y2="250.34" stroke="#000" stroke-width="1.1" />
<text transform="translate(39.9,253.74) scale(0.87,1)" font-size="9.2" text-anchor="end" font-weight="normal" fill="#000" >80</text>
<line x1="44" y1="227.3" x2="47.3" y2="227.3" stroke="#000" stroke-width="1.1" />
<text transform="translate(39.9,230.7) scale(0.87,1)" font-size="9.2" text-anchor="end" font-weight="normal" fill="#000" >100</text>
<line x1="59.8" y1="342.5" x2="59.8" y2="345.6" stroke="#000" stroke-width="1.1" />
<text transform="translate(59.8,356.6) scale(0.87,1)" font-size="9.2" text-anchor="middle" font-weight="normal" fill="#000" >10:1</text>
<line x1="85" y1="342.5" x2="85" y2="345.6" stroke="#000" stroke-width="1.1" />
<text transform="translate(85,356.6) scale(0.87,1)" font-size="9.2" text-anchor="middle" font-weight="normal" fill="#000" >2,5:1</text>
<line x1="110.9" y1="342.5" x2="110.9" y2="345.6" stroke="#000" stroke-width="1.1" />
<text transform="translate(110.9,356.6) scale(0.87,1)" font-size="9.2" text-anchor="middle" font-weight="normal" fill="#000" >1:1</text>
<text transform="translate(85.2,366.6) scale(0.87,1)" font-size="9.2" text-anchor="middle" font-weight="normal" fill="#000" >E:T</text>
<text transform="translate(24.1,283.7) rotate(-90) scale(0.93,1)" font-size="10.48" text-anchor="middle">Specific lysis (%)</text>
<line x1="59.9" y1="234.4" x2="59.9" y2="242.2" stroke="#ba0030" stroke-width="1.0" />
<line x1="57.3" y1="234.4" x2="62.5" y2="234.4" stroke="#ba0030" stroke-width="1.0" />
<line x1="57.3" y1="242.2" x2="62.5" y2="242.2" stroke="#ba0030" stroke-width="1.0" />
<line x1="85.3" y1="231.4" x2="85.3" y2="247" stroke="#ba0030" stroke-width="1.0" />
<line x1="82.7" y1="231.4" x2="87.9" y2="231.4" stroke="#ba0030" stroke-width="1.0" />
<line x1="82.7" y1="247" x2="87.9" y2="247" stroke="#ba0030" stroke-width="1.0" />
<line x1="110.6" y1="232.8" x2="110.6" y2="260.5" stroke="#ba0030" stroke-width="1.0" />
<line x1="108" y1="232.8" x2="113.2" y2="232.8" stroke="#ba0030" stroke-width="1.0" />
<line x1="108" y1="260.5" x2="113.2" y2="260.5" stroke="#ba0030" stroke-width="1.0" />
<polyline points="59.9,238 85.3,238.9 110.6,246.7" fill="none" stroke="#ba0030" stroke-width="2"/>
<circle cx="59.9" cy="238" r="2.6" fill="#ba0030"/>
<circle cx="85.3" cy="238.9" r="2.6" fill="#ba0030"/>
<circle cx="110.6" cy="246.7" r="2.6" fill="#ba0030"/>
<line x1="59.8" y1="305" x2="59.8" y2="319.9" stroke="#2c4c85" stroke-width="1.0" />
<line x1="57.2" y1="305" x2="62.4" y2="305" stroke="#2c4c85" stroke-width="1.0" />
<line x1="57.2" y1="319.9" x2="62.4" y2="319.9" stroke="#2c4c85" stroke-width="1.0" />
<line x1="85" y1="307.7" x2="85" y2="329.3" stroke="#2c4c85" stroke-width="1.0" />
<line x1="82.4" y1="307.7" x2="87.6" y2="307.7" stroke="#2c4c85" stroke-width="1.0" />
<line x1="82.4" y1="329.3" x2="87.6" y2="329.3" stroke="#2c4c85" stroke-width="1.0" />
<line x1="110.9" y1="315.8" x2="110.9" y2="336.6" stroke="#2c4c85" stroke-width="1.0" />
<line x1="108.3" y1="315.8" x2="113.5" y2="315.8" stroke="#2c4c85" stroke-width="1.0" />
<line x1="108.3" y1="336.6" x2="113.5" y2="336.6" stroke="#2c4c85" stroke-width="1.0" />
<polyline points="59.8,312.6 85,318.5 110.9,326.6" fill="none" stroke="#2c4c85" stroke-width="2"/>
<rect x="57.2" y="310" width="5.2" height="5.2" fill="#2c4c85"/>
<rect x="82.4" y="315.9" width="5.2" height="5.2" fill="#2c4c85"/>
<rect x="108.3" y="324" width="5.2" height="5.2" fill="#2c4c85"/>
<line x1="43.9" y1="378.1" x2="55.4" y2="378.1" stroke="#ba0030" stroke-width="1.6" />
<circle cx="50" cy="378.1" r="2.2" fill="#ba0030"/>
<text transform="translate(59.6,380.9) scale(0.87,1)" font-size="9.2" text-anchor="start" font-weight="normal" fill="#000" >SLAMF7-CAR T cells</text>
<line x1="43.9" y1="392.7" x2="55.4" y2="392.7" stroke="#2c4c85" stroke-width="1.6" />
<rect x="47.8" y="390.5" width="4.4" height="4.4" fill="#2c4c85"/>
<text transform="translate(59.6,395.4) scale(0.87,1)" font-size="9.2" text-anchor="start" font-weight="normal" fill="#000" >control T cells</text>
<rect x="195.4" y="232.9" width="7.5" height="110.3" fill="#ba0030" stroke="#7d0020" stroke-width="0.5"/>
<rect x="204.6" y="330.8" width="7.9" height="12.4" fill="#2c4c85" stroke="#1b2f55" stroke-width="0.5"/>
<rect x="220.4" y="318.8" width="8" height="24.4" fill="#ba0030" stroke="#7d0020" stroke-width="0.5"/>
<rect x="230.2" y="333.8" width="7.9" height="9.4" fill="#2c4c85" stroke="#1b2f55" stroke-width="0.5"/>
<rect x="246.1" y="248" width="7.9" height="95.2" fill="#ba0030" stroke="#7d0020" stroke-width="0.5"/>
<rect x="256.1" y="336.9" width="7.8" height="6.3" fill="#2c4c85" stroke="#1b2f55" stroke-width="0.5"/>
<line x1="190.8" y1="224.3" x2="190.8" y2="344" stroke="#000" stroke-width="1.7" />
<line x1="190" y1="343.2" x2="268.5" y2="343.2" stroke="#000" stroke-width="1.7" />
<line x1="187.9" y1="343.2" x2="190.8" y2="343.2" stroke="#000" stroke-width="1.1" />
<text transform="translate(184.5,346.6) scale(0.87,1)" font-size="9.2" text-anchor="end" font-weight="normal" fill="#000" >0</text>
<line x1="187.9" y1="320.02" x2="190.8" y2="320.02" stroke="#000" stroke-width="1.1" />
<text transform="translate(184.5,323.42) scale(0.87,1)" font-size="9.2" text-anchor="end" font-weight="normal" fill="#000" >20</text>
<line x1="187.9" y1="296.84" x2="190.8" y2="296.84" stroke="#000" stroke-width="1.1" />
<text transform="translate(184.5,300.24) scale(0.87,1)" font-size="9.2" text-anchor="end" font-weight="normal" fill="#000" >40</text>
<line x1="187.9" y1="273.66" x2="190.8" y2="273.66" stroke="#000" stroke-width="1.1" />
<text transform="translate(184.5,277.06) scale(0.87,1)" font-size="9.2" text-anchor="end" font-weight="normal" fill="#000" >60</text>
<line x1="187.9" y1="250.48" x2="190.8" y2="250.48" stroke="#000" stroke-width="1.1" />
<text transform="translate(184.5,253.88) scale(0.87,1)" font-size="9.2" text-anchor="end" font-weight="normal" fill="#000" >80</text>
<line x1="187.9" y1="227.3" x2="190.8" y2="227.3" stroke="#000" stroke-width="1.1" />
<text transform="translate(184.5,230.7) scale(0.87,1)" font-size="9.2" text-anchor="end" font-weight="normal" fill="#000" >100</text>
<text transform="translate(229.3,230.2) scale(0.87,1)" font-size="9.2" text-anchor="middle" font-weight="normal" fill="#000" >ND</text>
<text transform="translate(169,283.3) rotate(-90) scale(0.91,1)" font-size="10.34" text-anchor="middle">Lysis (%)</text>
<line x1="203.75" y1="343.2" x2="203.75" y2="346.4" stroke="#000" stroke-width="1.1" />
<line x1="229.3" y1="343.2" x2="229.3" y2="346.4" stroke="#000" stroke-width="1.1" />
<line x1="255.05" y1="343.2" x2="255.05" y2="346.4" stroke="#000" stroke-width="1.1" />
<text transform="translate(206.25,354.8) scale(0.87,1) rotate(-32.2)" font-size="9.2" text-anchor="end">prim. myeloma</text>
<text transform="translate(231.8,354.8) scale(0.87,1) rotate(-32.2)" font-size="9.2" text-anchor="end">K562</text>
<text transform="translate(257.55,354.8) scale(0.87,1) rotate(-32.2)" font-size="9.2" text-anchor="end">K562/SLAMF7</text>
<rect x="301.4" y="229" width="7.4" height="114.2" fill="#ba0030" stroke="#7d0020" stroke-width="0.5"/>
<rect x="310.9" y="333.1" width="7.9" height="10.1" fill="#2c4c85" stroke="#1b2f55" stroke-width="0.5"/>
<rect x="326.8" y="329.7" width="8" height="13.5" fill="#ba0030" stroke="#7d0020" stroke-width="0.5"/>
<rect x="336.5" y="304.9" width="8" height="38.3" fill="#2c4c85" stroke="#1b2f55" stroke-width="0.5"/>
<rect x="352.5" y="229" width="7.7" height="114.2" fill="#ba0030" stroke="#7d0020" stroke-width="0.5"/>
<rect x="362.5" y="337.4" width="7.3" height="5.8" fill="#2c4c85" stroke="#1b2f55" stroke-width="0.5"/>
<line x1="297.2" y1="224.3" x2="297.2" y2="344" stroke="#000" stroke-width="1.7" />
<line x1="296.4" y1="343.2" x2="374.2" y2="343.2" stroke="#000" stroke-width="1.7" />
<line x1="294.3" y1="343.2" x2="297.2" y2="343.2" stroke="#000" stroke-width="1.1" />
<text transform="translate(290.9,346.6) scale(0.87,1)" font-size="9.2" text-anchor="end" font-weight="normal" fill="#000" >0</text>
<line x1="294.3" y1="320.02" x2="297.2" y2="320.02" stroke="#000" stroke-width="1.1" />
<text transform="translate(290.9,323.42) scale(0.87,1)" font-size="9.2" text-anchor="end" font-weight="normal" fill="#000" >20</text>
<line x1="294.3" y1="296.84" x2="297.2" y2="296.84" stroke="#000" stroke-width="1.1" />
<text transform="translate(290.9,300.24) scale(0.87,1)" font-size="9.2" text-anchor="end" font-weight="normal" fill="#000" >40</text>
<line x1="294.3" y1="273.66" x2="297.2" y2="273.66" stroke="#000" stroke-width="1.1" />
<text transform="translate(290.9,277.06) scale(0.87,1)" font-size="9.2" text-anchor="end" font-weight="normal" fill="#000" >60</text>
<line x1="294.3" y1="250.48" x2="297.2" y2="250.48" stroke="#000" stroke-width="1.1" />
<text transform="translate(290.9,253.88) scale(0.87,1)" font-size="9.2" text-anchor="end" font-weight="normal" fill="#000" >80</text>
<line x1="294.3" y1="227.3" x2="297.2" y2="227.3" stroke="#000" stroke-width="1.1" />
<text transform="translate(290.9,230.7) scale(0.87,1)" font-size="9.2" text-anchor="end" font-weight="normal" fill="#000" >100</text>
<text transform="translate(335.9,230.2) scale(0.87,1)" font-size="9.2" text-anchor="middle" font-weight="normal" fill="#000" >R/R</text>
<text transform="translate(274.5,283.3) rotate(-90) scale(0.91,1)" font-size="10.34" text-anchor="middle">Lysis (%)</text>
<line x1="309.85" y1="343.2" x2="309.85" y2="346.4" stroke="#000" stroke-width="1.1" />
<line x1="335.65" y1="343.2" x2="335.65" y2="346.4" stroke="#000" stroke-width="1.1" />
<line x1="361.35" y1="343.2" x2="361.35" y2="346.4" stroke="#000" stroke-width="1.1" />
<text transform="translate(312.35,354.8) scale(0.87,1) rotate(-32.2)" font-size="9.2" text-anchor="end">prim. myeloma</text>
<text transform="translate(338.15,354.8) scale(0.87,1) rotate(-32.2)" font-size="9.2" text-anchor="end">K562</text>
<text transform="translate(363.85,354.8) scale(0.87,1) rotate(-32.2)" font-size="9.2" text-anchor="end">K562/SLAMF7</text>
<rect x="216.3" y="392.2" width="14.6" height="6.4" fill="#ba0030"/>
<text transform="translate(233.8,398.4) scale(0.87,1)" font-size="9.2" text-anchor="start" font-weight="normal" fill="#000" >SLAMF7-CAR</text>
<rect x="298.8" y="392.2" width="14.2" height="6.4" fill="#2c4c85"/>
<text transform="translate(316.4,398.4) scale(0.87,1)" font-size="9.2" text-anchor="start" font-weight="normal" fill="#000" >control</text>
<line x1="440.89" y1="227.5" x2="440.89" y2="342.7" stroke="#5e5e5e" stroke-width="0.95" stroke-dasharray="3,0.4"/>
<line x1="447.67" y1="227.5" x2="447.67" y2="342.7" stroke="#5e5e5e" stroke-width="0.95" stroke-dasharray="3,0.4"/>
<line x1="452.48" y1="227.5" x2="452.48" y2="342.7" stroke="#5e5e5e" stroke-width="0.95" stroke-dasharray="3,0.4"/>
<line x1="456.21" y1="227.5" x2="456.21" y2="342.7" stroke="#5e5e5e" stroke-width="0.95" stroke-dasharray="3,0.4"/>
<line x1="459.26" y1="227.5" x2="459.26" y2="342.7" stroke="#5e5e5e" stroke-width="0.95" stroke-dasharray="3,0.4"/>
<line x1="461.84" y1="227.5" x2="461.84" y2="342.7" stroke="#5e5e5e" stroke-width="0.95" stroke-dasharray="3,0.4"/>
<line x1="464.07" y1="227.5" x2="464.07" y2="342.7" stroke="#5e5e5e" stroke-width="0.95" stroke-dasharray="3,0.4"/>
<line x1="466.04" y1="227.5" x2="466.04" y2="342.7" stroke="#5e5e5e" stroke-width="0.95" stroke-dasharray="3,0.4"/>
<line x1="467.8" y1="227.5" x2="467.8" y2="342.7" stroke="#2a2a2a" stroke-width="1.1" stroke-dasharray="3,0.4"/>
<line x1="479.39" y1="227.5" x2="479.39" y2="342.7" stroke="#5e5e5e" stroke-width="0.95" stroke-dasharray="3,0.4"/>
<line x1="486.17" y1="227.5" x2="486.17" y2="342.7" stroke="#5e5e5e" stroke-width="0.95" stroke-dasharray="3,0.4"/>
<line x1="490.98" y1="227.5" x2="490.98" y2="342.7" stroke="#5e5e5e" stroke-width="0.95" stroke-dasharray="3,0.4"/>
<line x1="494.71" y1="227.5" x2="494.71" y2="342.7" stroke="#5e5e5e" stroke-width="0.95" stroke-dasharray="3,0.4"/>
<line x1="497.76" y1="227.5" x2="497.76" y2="342.7" stroke="#5e5e5e" stroke-width="0.95" stroke-dasharray="3,0.4"/>
<line x1="500.34" y1="227.5" x2="500.34" y2="342.7" stroke="#5e5e5e" stroke-width="0.95" stroke-dasharray="3,0.4"/>
<line x1="502.57" y1="227.5" x2="502.57" y2="342.7" stroke="#5e5e5e" stroke-width="0.95" stroke-dasharray="3,0.4"/>
<line x1="504.54" y1="227.5" x2="504.54" y2="342.7" stroke="#5e5e5e" stroke-width="0.95" stroke-dasharray="3,0.4"/>
<line x1="506.3" y1="227.5" x2="506.3" y2="342.7" stroke="#2a2a2a" stroke-width="1.1" stroke-dasharray="3,0.4"/>
<line x1="429.3" y1="224.3" x2="429.3" y2="343.5" stroke="#000" stroke-width="1.7" />
<line x1="428.5" y1="342.7" x2="509.4" y2="342.7" stroke="#000" stroke-width="1.7" />
<line x1="426.1" y1="342.7" x2="429.3" y2="342.7" stroke="#000" stroke-width="1.1" />
<text transform="translate(423.1,346.1) scale(0.87,1)" font-size="9.2" text-anchor="end" font-weight="normal" fill="#000" >40</text>
<line x1="426.1" y1="304.23" x2="429.3" y2="304.23" stroke="#000" stroke-width="1.1" />
<text transform="translate(423.1,307.63) scale(0.87,1)" font-size="9.2" text-anchor="end" font-weight="normal" fill="#000" >60</text>
<line x1="426.1" y1="265.77" x2="429.3" y2="265.77" stroke="#000" stroke-width="1.1" />
<text transform="translate(423.1,269.17) scale(0.87,1)" font-size="9.2" text-anchor="end" font-weight="normal" fill="#000" >80</text>
<line x1="426.1" y1="227.3" x2="429.3" y2="227.3" stroke="#000" stroke-width="1.1" />
<text transform="translate(423.1,230.7) scale(0.87,1)" font-size="9.2" text-anchor="end" font-weight="normal" fill="#000" >100</text>
<line x1="429.3" y1="342.7" x2="429.3" y2="346" stroke="#000" stroke-width="1.1" />
<text transform="translate(429.9,355.2) scale(0.87,1)" font-size="9.2" text-anchor="middle">10<tspan font-size="5.75" dy="-3.68">3</tspan></text>
<line x1="440.89" y1="342.7" x2="440.89" y2="344.6" stroke="#000" stroke-width="0.7" />
<line x1="447.67" y1="342.7" x2="447.67" y2="344.6" stroke="#000" stroke-width="0.7" />
<line x1="452.48" y1="342.7" x2="452.48" y2="344.6" stroke="#000" stroke-width="0.7" />
<line x1="456.21" y1="342.7" x2="456.21" y2="344.6" stroke="#000" stroke-width="0.7" />
<line x1="459.26" y1="342.7" x2="459.26" y2="344.6" stroke="#000" stroke-width="0.7" />
<line x1="461.84" y1="342.7" x2="461.84" y2="344.6" stroke="#000" stroke-width="0.7" />
<line x1="464.07" y1="342.7" x2="464.07" y2="344.6" stroke="#000" stroke-width="0.7" />
<line x1="466.04" y1="342.7" x2="466.04" y2="344.6" stroke="#000" stroke-width="0.7" />
<line x1="467.8" y1="342.7" x2="467.8" y2="346" stroke="#000" stroke-width="1.1" />
<text transform="translate(468.4,355.2) scale(0.87,1)" font-size="9.2" text-anchor="middle">10<tspan font-size="5.75" dy="-3.68">4</tspan></text>
<line x1="479.39" y1="342.7" x2="479.39" y2="344.6" stroke="#000" stroke-width="0.7" />
<line x1="486.17" y1="342.7" x2="486.17" y2="344.6" stroke="#000" stroke-width="0.7" />
<line x1="490.98" y1="342.7" x2="490.98" y2="344.6" stroke="#000" stroke-width="0.7" />
<line x1="494.71" y1="342.7" x2="494.71" y2="344.6" stroke="#000" stroke-width="0.7" />
<line x1="497.76" y1="342.7" x2="497.76" y2="344.6" stroke="#000" stroke-width="0.7" />
<line x1="500.34" y1="342.7" x2="500.34" y2="344.6" stroke="#000" stroke-width="0.7" />
<line x1="502.57" y1="342.7" x2="502.57" y2="344.6" stroke="#000" stroke-width="0.7" />
<line x1="504.54" y1="342.7" x2="504.54" y2="344.6" stroke="#000" stroke-width="0.7" />
<line x1="506.3" y1="342.7" x2="506.3" y2="346" stroke="#000" stroke-width="1.1" />
<text transform="translate(506.9,355.2) scale(0.87,1)" font-size="9.2" text-anchor="middle">10<tspan font-size="5.75" dy="-3.68">5</tspan></text>
<text transform="translate(468.8,368.6) scale(0.87,1)" font-size="10" text-anchor="middle" font-weight="normal" fill="#000" >ΔMFI</text>
<text transform="translate(407.4,283.5) rotate(-90) scale(1,1)" font-size="9.4" text-anchor="middle">Lysis (%)</text>
<circle cx="456.9" cy="238.3" r="2.5" fill="#ba0030"/>
<circle cx="474.4" cy="248.1" r="2.5" fill="#ba0030"/>
<circle cx="486.3" cy="244" r="2.5" fill="#ba0030"/>
<rect x="456.1" y="228.7" width="5" height="5" fill="#2c4c85"/>
<rect x="469.1" y="248.6" width="5" height="5" fill="#2c4c85"/>
<rect x="485.4" y="236.3" width="5" height="5" fill="#2c4c85"/>
<circle cx="446.3" cy="380.1" r="2.4" fill="#ba0030"/>
<text transform="translate(450.6,383.1) scale(0.87,1)" font-size="9.2" text-anchor="start" font-weight="normal" fill="#000" >ND</text>
<rect x="472.2" y="377.9" width="4.6" height="4.6" fill="#2c4c85"/>
<text transform="translate(480.4,383.1) scale(0.87,1)" font-size="9.2" text-anchor="start" font-weight="normal" fill="#000" >R/R</text>
<rect x="0.75" y="0.75" width="518.3" height="405" fill="none" stroke="#000" stroke-width="1.6"/>
<rect x="0" y="405.2" width="520" height="1.8" fill="#000"/>
</g>
</svg>
</body></html>
